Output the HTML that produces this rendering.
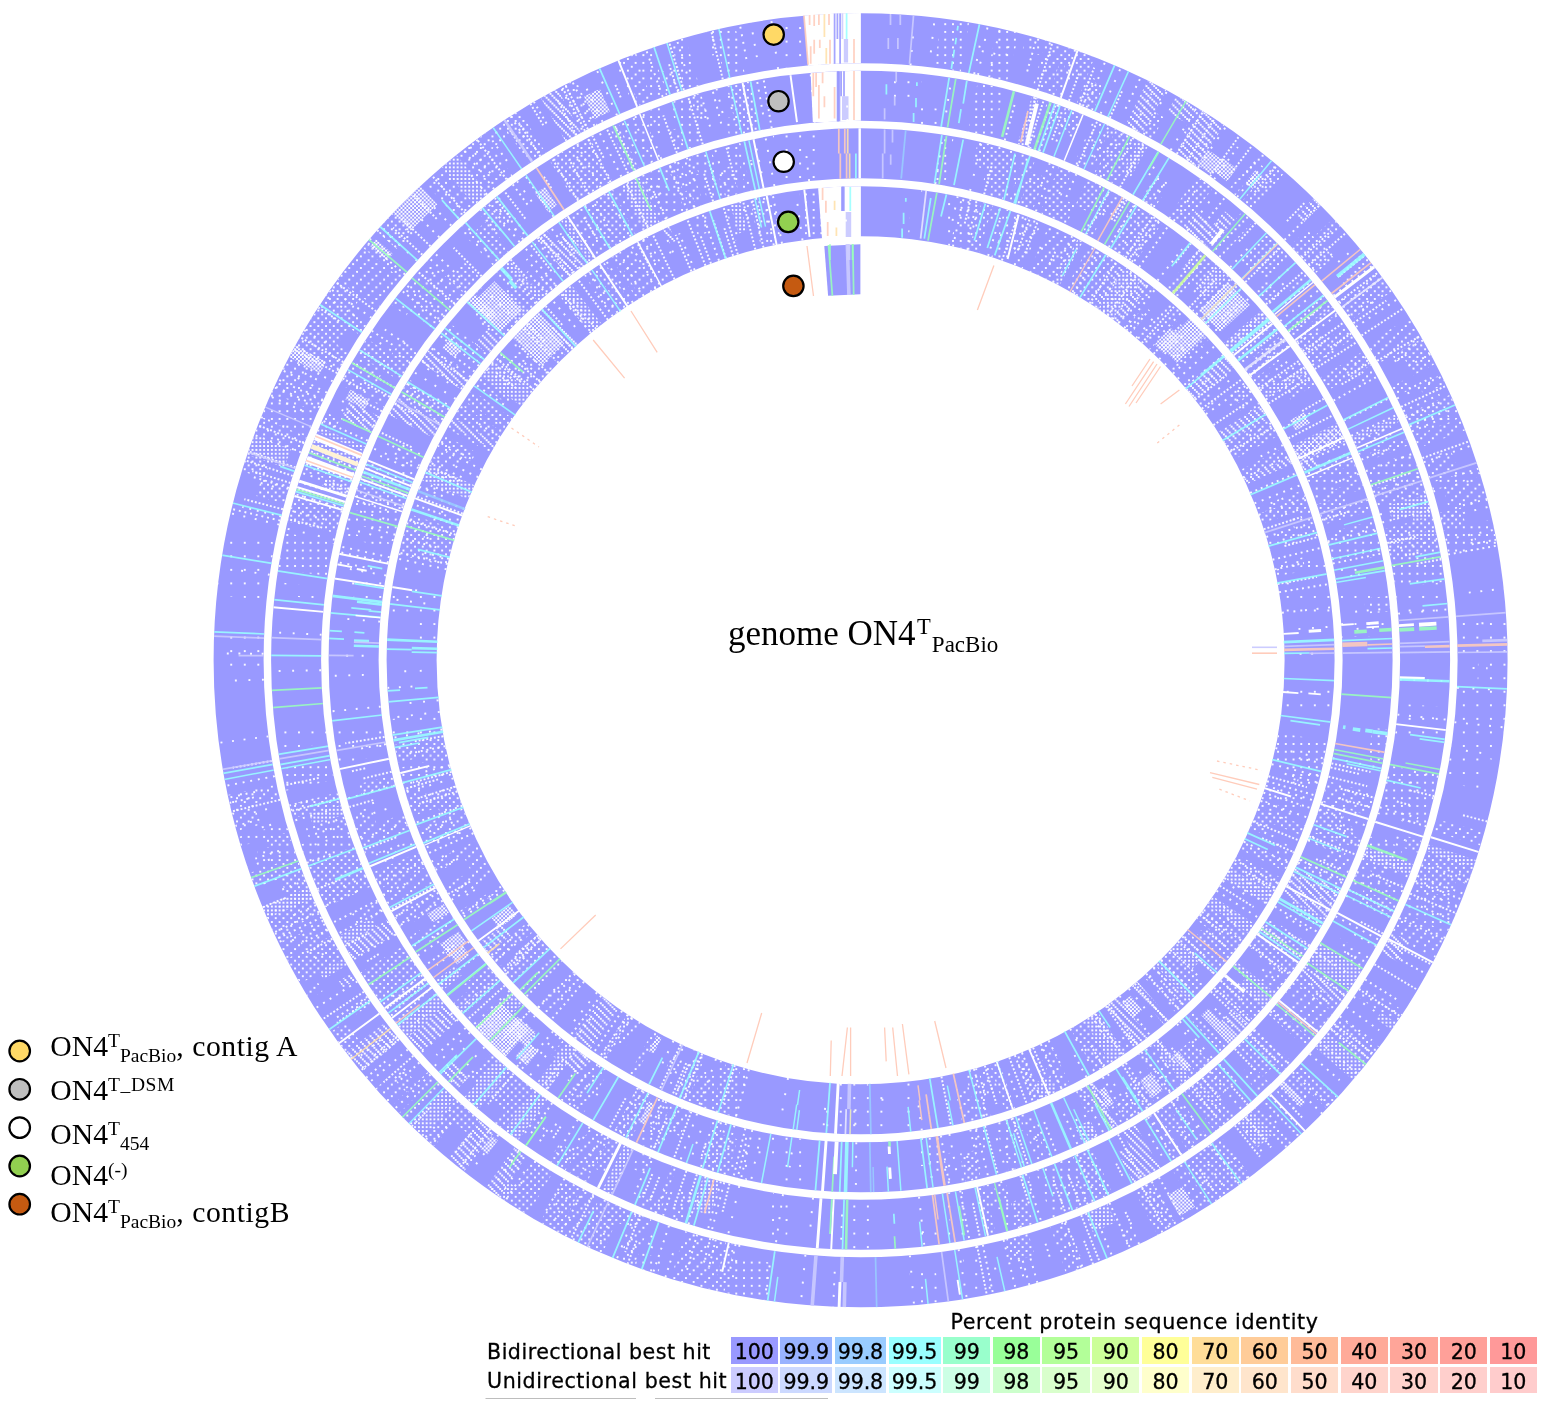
<!DOCTYPE html>
<html><head><meta charset="utf-8"><title>genome ON4T PacBio comparison</title>
<style>
html,body{margin:0;padding:0;background:#fff;}
body{width:1546px;height:1405px;position:relative;overflow:hidden;font-family:"Liberation Serif",serif;color:#000;}
svg{position:absolute;left:0;top:0;}
.ws{letter-spacing:0.55px;}
.lg{position:absolute;left:50.3px;font-size:29.7px;line-height:30px;white-space:nowrap;height:30px;}
.lg sup,.lg sub,.ct sup,.ct sub{line-height:0;}
.lg sup{font-size:19.5px;vertical-align:9.5px;}
.lg sub{font-size:19.5px;vertical-align:-6px;}
.ct{position:absolute;left:728px;top:615.5px;font-size:35px;line-height:36px;white-space:nowrap;}
.ct sup{font-size:22.5px;vertical-align:11px;margin-left:1.5px;}
.ct sub{font-size:23px;vertical-align:-7.5px;margin-left:1px;}
.sans{font-family:"DejaVu Sans","Liberation Sans",sans-serif;-webkit-text-stroke:0.3px #000;}
.bl{position:absolute;left:487px;font-size:20.6px;line-height:24px;white-space:nowrap;letter-spacing:0.5px;}
.cell{position:absolute;height:26.5px;font-size:20.6px;line-height:30px;text-align:center;letter-spacing:-0.1px;}
</style></head><body>
<svg width="1546" height="1405" viewBox="0 0 1546 1405">
<defs>
<clipPath id="rc" clip-rule="evenodd"><path d="M213.6 660.3a647 647 0 1 0 1294 0a647 647 0 1 0 -1294 0ZM263.6 660.3a597 597 0 1 0 1194 0a597 597 0 1 0 -1194 0ZM271.1 660.3a589.5 589.5 0 1 0 1179 0a589.5 589.5 0 1 0 -1179 0ZM321.1 660.3a539.5 539.5 0 1 0 1079 0a539.5 539.5 0 1 0 -1079 0ZM328.6 660.3a532 532 0 1 0 1064 0a532 532 0 1 0 -1064 0ZM378.6 660.3a482 482 0 1 0 964 0a482 482 0 1 0 -964 0ZM386.6 660.3a474 474 0 1 0 948 0a474 474 0 1 0 -948 0ZM436.6 660.3a424 424 0 1 0 848 0a424 424 0 1 0 -848 0Z" clip-rule="evenodd"/><path d="M821.5 246.1L860.6 244.3L860.6 294.3L828.7 295.7Z"/></clipPath>
<pattern id="d1" width="3.87" height="3.87" patternUnits="userSpaceOnUse"><rect x="0" y="0" width="1.935" height="1.935" fill="#fff" opacity="0.96"/><rect x="1.935" y="1.935" width="1.935" height="1.935" fill="#fff" opacity="0.96"/></pattern>
<pattern id="d2" width="7.74" height="7.74" patternUnits="userSpaceOnUse"><rect x="0" y="0" width="1.935" height="1.935" fill="#fff" opacity="0.93"/><rect x="3.87" y="3.87" width="1.935" height="1.935" fill="#fff" opacity="0.93"/></pattern>
<pattern id="d3" width="7.74" height="7.74" patternUnits="userSpaceOnUse"><rect x="0" y="0" width="1.935" height="1.935" fill="#fff" opacity="0.93"/></pattern>
<pattern id="d4" width="13.545" height="13.545" patternUnits="userSpaceOnUse"><rect x="0" y="0" width="1.935" height="1.935" fill="#fff" opacity="0.93"/></pattern>
<pattern id="d5" width="11.61" height="11.61" patternUnits="userSpaceOnUse"><rect x="0" y="0" width="1.935" height="1.935" fill="#fff" opacity="0.93"/><rect x="3.87" y="7.74" width="1.935" height="1.935" fill="#fff" opacity="0.93"/><rect x="7.74" y="3.87" width="1.935" height="1.935" fill="#fff" opacity="0.93"/></pattern>
<pattern id="d6" width="7.74" height="7.74" patternUnits="userSpaceOnUse"><rect x="0" y="0" width="1.935" height="1.935" fill="#fff" opacity="0.93"/><rect x="3.87" y="0" width="1.935" height="1.935" fill="#fff" opacity="0.93"/><rect x="0" y="3.87" width="1.935" height="1.935" fill="#fff" opacity="0.93"/><rect x="3.87" y="3.87" width="1.935" height="1.935" fill="#fff" opacity="0.93"/></pattern>
<pattern id="d7" width="7.74" height="7.74" patternUnits="userSpaceOnUse"><rect x="0" y="0" width="1.935" height="1.935" fill="#fff" opacity="0.93"/><rect x="1.935" y="1.935" width="1.935" height="1.935" fill="#fff" opacity="0.93"/><rect x="3.87" y="3.87" width="1.935" height="1.935" fill="#fff" opacity="0.93"/><rect x="5.805" y="5.805" width="1.935" height="1.935" fill="#fff" opacity="0.93"/></pattern>
<filter id="bl" x="0" y="0" width="1546" height="1405" filterUnits="userSpaceOnUse"><feGaussianBlur stdDeviation="0.6"/></filter>
</defs>
<g filter="url(#bl)">
<circle cx="860.6" cy="660.3" r="622" fill="none" stroke="#9999ff" stroke-width="50"/>
<circle cx="860.6" cy="660.3" r="564.5" fill="none" stroke="#9999ff" stroke-width="50"/>
<circle cx="860.6" cy="660.3" r="507" fill="none" stroke="#9999ff" stroke-width="50"/>
<circle cx="860.6" cy="660.3" r="449" fill="none" stroke="#9999ff" stroke-width="50"/>
<path d="M824.3 245.9L860.4 244.3L860.4 294.3L828.1 295.7Z" fill="#9999ff"/>
<g clip-path="url(#rc)">
<path d="M803.7 11.1L860.9 11.1L860.9 66.6L808.1 66.6Z" fill="#ffffff"/>
<path d="M810.5 70.3L860.9 70.3L860.9 122.1L812.8 122.1Z" fill="#ffffff"/>
<path d="M858.5 127.7L860.9 127.7L860.9 180.4L858.5 180.4Z" fill="#ffffff"/>
<path d="M817.9 185.1L860.9 185.1L860.9 238.7L822.0 238.7Z" fill="#ffffff"/>
<path d="M843.8 38.9L848.1 38.9L848.1 62.4L843.8 62.4Z" fill="#ccccff"/>
<path d="M842.0 96.2L848.5 96.2L848.5 119.9L842.0 119.9Z" fill="#ccccff"/>
<path d="M845.7 211.9L851.2 211.9L851.2 236.9L845.7 236.9Z" fill="#ccccff"/>
<path d="M846.6 244.3L850.3 244.3L850.3 260.0L846.6 260.0Z" fill="#ccccff"/>
<path d="M1227.5 282.0A527 527 0 0 1 1249.8 305.0L1220.3 331.9A487 487 0 0 0 1199.7 310.7Z" fill="url(#d1)"/>
<path d="M1189.3 318.8A474 474 0 0 1 1205.9 335.6L1176.8 363.0A434 434 0 0 0 1161.5 347.6Z" fill="url(#d1)"/>
<path d="M1336.8 423.2A532 532 0 0 1 1345.4 441.3L1299.9 461.9A482 482 0 0 0 1292.1 445.5Z" fill="url(#d6)"/>
<path d="M1305.6 1102.1A627 627 0 0 1 1300.7 1106.9L1279.7 1085.5A597 597 0 0 0 1284.3 1080.9Z" fill="url(#d1)"/>
<path d="M1236.5 1036.8A532 532 0 0 1 1228.9 1044.2L1201.2 1015.3A492 492 0 0 0 1208.2 1008.5Z" fill="url(#d1)"/>
<path d="M611.2 1194.4A589.5 589.5 0 0 1 602.2 1190.2L624.1 1145.2A539.5 539.5 0 0 0 632.4 1149.1Z" fill="url(#d6)"/>
<path d="M267.3 918.4A647 647 0 0 1 262.4 906.8L308.6 887.7A597 597 0 0 0 313.2 898.5Z" fill="url(#d6)"/>
<path d="M505.6 1056.5A532 532 0 0 1 475.0 1026.8L500.4 1002.7A497 497 0 0 0 528.9 1030.4Z" fill="url(#d1)"/>
<path d="M317.2 431.9A589.5 589.5 0 0 1 319.3 426.9L365.2 446.7A539.5 539.5 0 0 0 363.2 451.3Z" fill="url(#d6)"/>
<path d="M392.7 213.4A647 647 0 0 1 420.4 186.2L437.4 204.5A622 622 0 0 0 410.8 230.7Z" fill="url(#d1)"/>
<path d="M289.1 357.1A647 647 0 0 1 295.5 345.3L326.0 362.3A612 612 0 0 0 320.0 373.5Z" fill="url(#d1)"/>
<path d="M470.2 306.3A527 527 0 0 1 494.5 281.3L522.3 310.0A487 487 0 0 0 499.9 333.1Z" fill="url(#d1)"/>
<path d="M466.5 303.0A532 532 0 0 1 474.9 293.9L496.6 314.6A502 502 0 0 0 488.7 323.1Z" fill="url(#d1)"/>
<path d="M513.1 337.9A474 474 0 0 1 536.8 314.1L564.2 343.3A434 434 0 0 0 542.5 365.1Z" fill="url(#d1)"/>
<path d="M940.9 18.3A647 647 0 0 1 969.1 22.5L960.7 71.8A597 597 0 0 0 934.7 67.9Z" fill="url(#d3)"/>
<path d="M997.2 27.9A647 647 0 0 1 1019.3 33.1L1007.0 81.5A597 597 0 0 0 986.6 76.8Z" fill="url(#d3)"/>
<path d="M1026.6 35.0A647 647 0 0 1 1046.4 40.5L1041.8 55.8A631.119 631.119 0 0 0 1022.5 50.3Z" fill="url(#d3)"/>
<path d="M1046.4 40.5A647 647 0 0 1 1065.1 46.5L1049.3 93.9A597 597 0 0 0 1032.0 88.4Z" fill="url(#d5)"/>
<path d="M1065.1 46.5A647 647 0 0 1 1070.8 48.4L1054.5 95.7A597 597 0 0 0 1049.3 93.9Z" fill="url(#d2)"/>
<path d="M1070.8 48.4A647 647 0 0 1 1080.0 51.6L1063.0 98.7A597 597 0 0 0 1054.5 95.7Z" fill="url(#d3)"/>
<path d="M1080.0 51.6A647 647 0 0 1 1094.6 57.1L1084.8 82.3A619.978 619.978 0 0 0 1070.8 77.0Z" fill="url(#d2)"/>
<path d="M1086.0 79.1A623.433 623.433 0 0 1 1103.4 86.1L1093.1 110.4A597 597 0 0 0 1076.5 103.7Z" fill="url(#d2)"/>
<path d="M1147.6 80.5A647 647 0 0 1 1166.2 90.0L1142.5 134.1A597 597 0 0 0 1125.5 125.3Z" fill="url(#d7)"/>
<path d="M1154.3 112.0A622.01 622.01 0 0 1 1164.3 117.5L1152.1 139.3A597 597 0 0 0 1142.5 134.1Z" fill="url(#d2)"/>
<path d="M1176.5 95.7A647 647 0 0 1 1197.1 107.7L1187.3 123.8A628.183 628.183 0 0 0 1167.4 112.1Z" fill="url(#d7)"/>
<path d="M1197.1 107.7A647 647 0 0 1 1201.9 110.7L1187.0 134.7A618.75 618.75 0 0 0 1182.4 131.8Z" fill="url(#d2)"/>
<path d="M1201.9 110.7A647 647 0 0 1 1224.3 125.2L1196.2 166.5A597 597 0 0 0 1175.5 153.1Z" fill="url(#d7)"/>
<path d="M1207.7 149.6A617.504 617.504 0 0 1 1221.8 159.5L1211.1 174.3A599.179 599.179 0 0 0 1197.4 164.7Z" fill="url(#d1)"/>
<path d="M1222.8 158.1A619.17 619.17 0 0 1 1236.7 168.4L1227.0 181.2A603.16 603.16 0 0 0 1213.4 171.1Z" fill="url(#d1)"/>
<path d="M1259.1 150.6A647 647 0 0 1 1266.5 156.4L1235.1 195.4A597 597 0 0 0 1228.3 190.0Z" fill="url(#d5)"/>
<path d="M1255.4 170.3A629.258 629.258 0 0 1 1262.7 176.3L1252.4 188.7A613.093 613.093 0 0 0 1245.2 182.9Z" fill="url(#d1)"/>
<path d="M1274.0 162.6A647 647 0 0 1 1285.2 172.1L1252.4 209.8A597 597 0 0 0 1242.1 201.1Z" fill="url(#d2)"/>
<path d="M1313.6 198.3A647 647 0 0 1 1320.8 205.5L1303.8 222.4A623.046 623.046 0 0 0 1296.8 215.4Z" fill="url(#d7)"/>
<path d="M1307.0 229.7A620.224 620.224 0 0 1 1313.7 236.8L1296.8 252.6A597 597 0 0 0 1290.3 245.8Z" fill="url(#d2)"/>
<path d="M1333.3 218.5A647 647 0 0 1 1341.4 227.4L1304.2 260.8A597 597 0 0 0 1296.8 252.6Z" fill="url(#d2)"/>
<path d="M1322.3 244.6A621.293 621.293 0 0 1 1333.8 257.7L1315.3 273.4A597 597 0 0 0 1304.2 260.8Z" fill="url(#d2)"/>
<path d="M1363.2 252.8A647 647 0 0 1 1373.1 265.4L1345.0 287.0A611.571 611.571 0 0 0 1335.6 275.1Z" fill="url(#d5)"/>
<path d="M1378.5 272.5A647 647 0 0 1 1392.1 291.3L1351.0 319.9A597 597 0 0 0 1338.5 302.5Z" fill="url(#d2)"/>
<path d="M1409.3 317.5A647 647 0 0 1 1422.0 338.6L1378.6 363.5A597 597 0 0 0 1366.9 344.0Z" fill="url(#d5)"/>
<path d="M1422.0 338.6A647 647 0 0 1 1425.8 345.5L1396.1 362.0A612.96 612.96 0 0 0 1392.4 355.5Z" fill="url(#d2)"/>
<path d="M1425.8 345.5A647 647 0 0 1 1435.6 363.8L1413.4 375.3A621.912 621.912 0 0 0 1403.9 357.7Z" fill="url(#d2)"/>
<path d="M1406.1 379.0A613.719 613.719 0 0 1 1411.2 389.1L1396.2 396.5A597 597 0 0 0 1391.2 386.7Z" fill="url(#d2)"/>
<path d="M1441.0 374.4A647 647 0 0 1 1445.6 383.9L1423.3 394.5A622.358 622.358 0 0 0 1418.9 385.3Z" fill="url(#d5)"/>
<path d="M1450.5 394.5A647 647 0 0 1 1454.5 403.7L1408.6 423.5A597 597 0 0 0 1404.9 415.1Z" fill="url(#d2)"/>
<path d="M1454.5 403.7A647 647 0 0 1 1460.4 417.7L1414.1 436.5A597 597 0 0 0 1408.6 423.5Z" fill="url(#d3)"/>
<path d="M1460.4 417.7A647 647 0 0 1 1465.4 430.3L1418.6 448.1A597 597 0 0 0 1414.1 436.5Z" fill="url(#d5)"/>
<path d="M1450.8 449.8A626.611 626.611 0 0 1 1459.0 474.3L1430.7 483.1A597 597 0 0 0 1422.9 459.7Z" fill="url(#d5)"/>
<path d="M1478.4 468.2A647 647 0 0 1 1481.0 476.5L1433.0 490.7A597 597 0 0 0 1430.7 483.1Z" fill="url(#d3)"/>
<path d="M1481.0 476.5A647 647 0 0 1 1487.6 500.8L1449.4 510.5A607.531 607.531 0 0 0 1443.1 487.7Z" fill="url(#d5)"/>
<path d="M1461.4 507.5A619.973 619.973 0 0 1 1465.7 525.4L1443.3 530.4A597 597 0 0 0 1439.2 513.1Z" fill="url(#d2)"/>
<path d="M1492.1 519.6A647 647 0 0 1 1497.4 546.1L1448.2 554.9A597 597 0 0 0 1443.3 530.4Z" fill="url(#d3)"/>
<path d="M1506.2 618.1A647 647 0 0 1 1507.6 656.2L1457.6 656.5A597 597 0 0 0 1456.3 621.3Z" fill="url(#d4)"/>
<path d="M1507.6 656.2A647 647 0 0 1 1506.9 690.7L1477.3 689.3A617.429 617.429 0 0 0 1478.0 656.4Z" fill="url(#d4)"/>
<path d="M1506.9 690.7A647 647 0 0 1 1504.0 728.7L1454.3 723.4A597 597 0 0 0 1456.9 688.4Z" fill="url(#d4)"/>
<path d="M1504.0 728.7A647 647 0 0 1 1499.7 760.8L1450.3 753.1A597 597 0 0 0 1454.3 723.4Z" fill="url(#d4)"/>
<path d="M1489.7 759.3A636.833 636.833 0 0 1 1484.1 790.2L1445.1 782.0A597 597 0 0 0 1450.3 753.1Z" fill="url(#d4)"/>
<path d="M1484.4 832.2A647 647 0 0 1 1480.5 845.6L1432.6 831.3A597 597 0 0 0 1436.1 818.9Z" fill="url(#d5)"/>
<path d="M1476.0 860.0A647 647 0 0 1 1473.7 867.1L1426.3 851.1A597 597 0 0 0 1428.4 844.6Z" fill="url(#d6)"/>
<path d="M1473.7 867.1A647 647 0 0 1 1467.5 884.6L1420.6 867.2A597 597 0 0 0 1426.3 851.1Z" fill="url(#d2)"/>
<path d="M1456.2 880.4A635.012 635.012 0 0 1 1448.9 899.3L1413.7 885.0A597 597 0 0 0 1420.6 867.2Z" fill="url(#d2)"/>
<path d="M1460.0 903.8A647 647 0 0 1 1455.7 914.1L1409.8 894.5A597 597 0 0 0 1413.7 885.0Z" fill="url(#d3)"/>
<path d="M1455.7 914.1A647 647 0 0 1 1447.5 932.5L1402.2 911.5A597 597 0 0 0 1409.8 894.5Z" fill="url(#d3)"/>
<path d="M1447.5 932.5A647 647 0 0 1 1436.5 955.1L1392.0 932.3A597 597 0 0 0 1402.2 911.5Z" fill="url(#d5)"/>
<path d="M1409.8 941.4A616.963 616.963 0 0 1 1398.6 962.2L1381.2 952.4A597 597 0 0 0 1392.0 932.3Z" fill="url(#d7)"/>
<path d="M1404.1 1011.3A647 647 0 0 1 1396.5 1022.9L1355.0 994.9A597 597 0 0 0 1362.1 984.2Z" fill="url(#d5)"/>
<path d="M1396.5 1022.9A647 647 0 0 1 1391.6 1030.0L1376.2 1019.2A628.218 628.218 0 0 0 1380.9 1012.4Z" fill="url(#d6)"/>
<path d="M1379.4 1046.9A647 647 0 0 1 1372.4 1056.1L1332.8 1025.6A597 597 0 0 0 1339.3 1017.0Z" fill="url(#d2)"/>
<path d="M1372.4 1056.1A647 647 0 0 1 1365.2 1065.2L1326.2 1033.9A597 597 0 0 0 1332.8 1025.6Z" fill="url(#d2)"/>
<path d="M1365.2 1065.2A647 647 0 0 1 1353.1 1079.9L1315.0 1047.5A597 597 0 0 0 1326.2 1033.9Z" fill="url(#d6)"/>
<path d="M1337.4 1097.6A647 647 0 0 1 1326.9 1108.8L1290.9 1074.2A597 597 0 0 0 1300.6 1063.8Z" fill="url(#d2)"/>
<path d="M1312.0 1094.4A626.265 626.265 0 0 1 1295.3 1111.1L1275.0 1090.1A597 597 0 0 0 1290.9 1074.2Z" fill="url(#d2)"/>
<path d="M1300.8 1134.5A647 647 0 0 1 1296.3 1138.6L1262.6 1101.6A597 597 0 0 0 1266.7 1097.9Z" fill="url(#d2)"/>
<path d="M1291.7 1142.7A647 647 0 0 1 1283.6 1149.8L1251.0 1112.0A597 597 0 0 0 1258.4 1105.5Z" fill="url(#d2)"/>
<path d="M1271.5 1135.7A628.376 628.376 0 0 1 1257.2 1147.7L1237.4 1123.3A597 597 0 0 0 1251.0 1112.0Z" fill="url(#d6)"/>
<path d="M1250.9 1176.3A647 647 0 0 1 1234.5 1188.3L1205.6 1147.5A597 597 0 0 0 1220.7 1136.4Z" fill="url(#d2)"/>
<path d="M1234.5 1188.3A647 647 0 0 1 1226.7 1193.7L1198.4 1152.5A597 597 0 0 0 1205.6 1147.5Z" fill="url(#d2)"/>
<path d="M1226.7 1193.7A647 647 0 0 1 1209.3 1205.3L1182.3 1163.2A597 597 0 0 0 1198.4 1152.5Z" fill="url(#d2)"/>
<path d="M1209.3 1205.3A647 647 0 0 1 1198.2 1212.3L1172.1 1169.6A597 597 0 0 0 1182.3 1163.2Z" fill="url(#d5)"/>
<path d="M1195.0 1207.0A640.861 640.861 0 0 1 1179.6 1216.1L1167.6 1195.3A616.798 616.798 0 0 0 1182.4 1186.5Z" fill="url(#d1)"/>
<path d="M1176.1 1225.2A647 647 0 0 1 1157.5 1235.2L1134.5 1190.7A597 597 0 0 0 1151.7 1181.5Z" fill="url(#d2)"/>
<path d="M1140.4 1243.7A647 647 0 0 1 1128.0 1249.5L1119.7 1231.2A626.919 626.919 0 0 0 1131.7 1225.6Z" fill="url(#d5)"/>
<path d="M1115.6 1222.3A617.122 617.122 0 0 1 1092.9 1232.0L1085.3 1213.4A597 597 0 0 0 1107.3 1203.9Z" fill="url(#d6)"/>
<path d="M1084.5 1267.3A647 647 0 0 1 1066.1 1273.8L1050.3 1226.4A597 597 0 0 0 1067.2 1220.4Z" fill="url(#d5)"/>
<path d="M1034.7 1255.4A620.01 620.01 0 0 1 1010.1 1262.0L1004.6 1239.7A597 597 0 0 0 1028.3 1233.3Z" fill="url(#d2)"/>
<path d="M992.1 1293.8A647 647 0 0 1 969.4 1298.1L961.0 1248.8A597 597 0 0 0 981.9 1244.8Z" fill="url(#d4)"/>
<path d="M939.8 1302.4A647 647 0 0 1 912.1 1305.2L909.1 1267.0A608.601 608.601 0 0 0 935.1 1264.3Z" fill="url(#d4)"/>
<path d="M766.9 1300.5A647 647 0 0 1 724.3 1292.8L732.2 1255.8A609.151 609.151 0 0 0 772.4 1263.0Z" fill="url(#d3)"/>
<path d="M724.3 1292.8A647 647 0 0 1 714.1 1290.5L725.4 1241.8A597 597 0 0 0 734.8 1243.9Z" fill="url(#d2)"/>
<path d="M714.1 1290.5A647 647 0 0 1 693.5 1285.3L706.4 1237.0A597 597 0 0 0 725.4 1241.8Z" fill="url(#d5)"/>
<path d="M693.5 1285.3A647 647 0 0 1 670.6 1278.8L685.3 1231.0A597 597 0 0 0 706.4 1237.0Z" fill="url(#d5)"/>
<path d="M657.5 1274.6A647 647 0 0 1 633.9 1266.3L639.5 1251.5A631.211 631.211 0 0 0 662.4 1259.6Z" fill="url(#d3)"/>
<path d="M633.9 1266.3A647 647 0 0 1 618.2 1260.2L636.9 1213.8A597 597 0 0 0 651.4 1219.5Z" fill="url(#d5)"/>
<path d="M631.0 1228.4A612.694 612.694 0 0 1 616.1 1222.1L622.3 1207.7A597 597 0 0 0 636.9 1213.8Z" fill="url(#d2)"/>
<path d="M602.4 1253.5A647 647 0 0 1 578.3 1242.5L600.2 1197.5A597 597 0 0 0 622.3 1207.7Z" fill="url(#d2)"/>
<path d="M578.3 1242.5A647 647 0 0 1 558.0 1232.2L581.4 1188.0A597 597 0 0 0 600.2 1197.5Z" fill="url(#d5)"/>
<path d="M558.0 1232.2A647 647 0 0 1 540.0 1222.3L564.8 1178.9A597 597 0 0 0 581.4 1188.0Z" fill="url(#d2)"/>
<path d="M527.5 1215.0A647 647 0 0 1 505.9 1201.4L533.4 1159.6A597 597 0 0 0 553.2 1172.1Z" fill="url(#d2)"/>
<path d="M505.9 1201.4A647 647 0 0 1 499.0 1196.8L508.7 1182.3A629.514 629.514 0 0 0 515.5 1186.8Z" fill="url(#d6)"/>
<path d="M499.0 1196.8A647 647 0 0 1 485.9 1187.8L514.9 1147.0A597 597 0 0 0 526.9 1155.3Z" fill="url(#d7)"/>
<path d="M487.5 1154.4A619.125 619.125 0 0 1 481.1 1149.5L491.7 1135.8A601.853 601.853 0 0 0 497.9 1140.6Z" fill="url(#d1)"/>
<path d="M464.0 1171.5A647 647 0 0 1 448.1 1158.7L480.0 1120.2A597 597 0 0 0 494.6 1132.0Z" fill="url(#d7)"/>
<path d="M468.4 1134.1A615.07 615.07 0 0 1 454.7 1122.5L466.7 1108.9A597 597 0 0 0 480.0 1120.2Z" fill="url(#d2)"/>
<path d="M433.7 1146.4A647 647 0 0 1 421.3 1135.3L455.3 1098.6A597 597 0 0 0 466.7 1108.9Z" fill="url(#d2)"/>
<path d="M421.3 1135.3A647 647 0 0 1 409.0 1123.6L443.9 1087.8A597 597 0 0 0 455.3 1098.6Z" fill="url(#d6)"/>
<path d="M409.0 1123.6A647 647 0 0 1 398.7 1113.4L434.4 1078.4A597 597 0 0 0 443.9 1087.8Z" fill="url(#d5)"/>
<path d="M414.2 1098.1A625.24 625.24 0 0 1 407.5 1091.2L428.0 1071.7A597 597 0 0 0 434.4 1078.4Z" fill="url(#d5)"/>
<path d="M391.7 1106.1A647 647 0 0 1 375.6 1088.5L401.2 1065.9A612.816 612.816 0 0 0 416.5 1082.6Z" fill="url(#d5)"/>
<path d="M361.6 1072.1A647 647 0 0 1 346.1 1052.5L385.8 1022.2A597 597 0 0 0 400.2 1040.3Z" fill="url(#d7)"/>
<path d="M346.1 1052.5A647 647 0 0 1 331.0 1032.0L345.6 1021.8A629.189 629.189 0 0 0 360.2 1041.7Z" fill="url(#d2)"/>
<path d="M354.4 1015.6A618.487 618.487 0 0 1 349.7 1008.9L367.5 996.8A597 597 0 0 0 372.0 1003.3Z" fill="url(#d2)"/>
<path d="M343.1 987.8A612.444 612.444 0 0 1 338.9 981.1L352.0 973.0A597 597 0 0 0 356.1 979.5Z" fill="url(#d7)"/>
<path d="M309.5 999.2A647 647 0 0 1 304.3 990.7L317.9 982.6A631.209 631.209 0 0 0 322.9 990.9Z" fill="url(#d5)"/>
<path d="M323.6 979.2A624.57 624.57 0 0 1 319.6 972.4L343.5 958.7A597 597 0 0 0 347.3 965.1Z" fill="url(#d6)"/>
<path d="M300.2 983.7A647 647 0 0 1 290.3 965.9L334.4 942.3A597 597 0 0 0 343.5 958.7Z" fill="url(#d2)"/>
<path d="M290.3 965.9A647 647 0 0 1 286.6 958.9L331.0 935.8A597 597 0 0 0 334.4 942.3Z" fill="url(#d2)"/>
<path d="M286.6 958.9A647 647 0 0 1 279.1 944.0L324.0 922.0A597 597 0 0 0 331.0 935.8Z" fill="url(#d5)"/>
<path d="M279.1 944.0A647 647 0 0 1 274.9 935.3L288.7 928.8A631.758 631.758 0 0 0 292.8 937.3Z" fill="url(#d2)"/>
<path d="M274.9 935.3A647 647 0 0 1 264.6 912.0L310.6 892.5A597 597 0 0 0 320.2 914.0Z" fill="url(#d2)"/>
<path d="M289.3 901.5A620.171 620.171 0 0 1 280.0 878.3L301.7 870.2A597 597 0 0 0 310.6 892.5Z" fill="url(#d2)"/>
<path d="M254.9 887.8A647 647 0 0 1 249.6 873.0L296.8 856.6A597 597 0 0 0 301.7 870.2Z" fill="url(#d2)"/>
<path d="M262.7 868.5A633.107 633.107 0 0 1 257.0 851.3L291.4 840.4A597 597 0 0 0 296.8 856.6Z" fill="url(#d3)"/>
<path d="M267.4 847.9A622.133 622.133 0 0 1 264.7 839.2L288.8 832.0A597 597 0 0 0 291.4 840.4Z" fill="url(#d2)"/>
<path d="M240.9 846.3A647 647 0 0 1 238.2 836.9L286.3 823.2A597 597 0 0 0 288.8 832.0Z" fill="url(#d3)"/>
<path d="M236.6 831.1A647 647 0 0 1 230.9 809.0L254.5 803.4A622.735 622.735 0 0 0 260.0 824.7Z" fill="url(#d5)"/>
<path d="M230.9 809.0A647 647 0 0 1 227.8 795.0L276.7 784.6A597 597 0 0 0 279.6 797.5Z" fill="url(#d5)"/>
<path d="M229.6 673.5A631.182 631.182 0 0 1 230.0 632.9L264.2 634.4A597 597 0 0 0 263.7 672.8Z" fill="url(#d4)"/>
<path d="M216.9 595.1A647 647 0 0 1 221.5 559.6L270.9 567.4A597 597 0 0 0 266.6 600.1Z" fill="url(#d4)"/>
<path d="M221.5 559.6A647 647 0 0 1 226.3 532.8L275.3 542.7A597 597 0 0 0 270.9 567.4Z" fill="url(#d4)"/>
<path d="M256.3 495.9A626.239 626.239 0 0 1 261.7 477.4L289.6 485.9A597 597 0 0 0 284.5 503.6Z" fill="url(#d2)"/>
<path d="M241.8 471.3A647 647 0 0 1 247.0 455.0L269.7 462.6A623.057 623.057 0 0 0 264.7 478.3Z" fill="url(#d2)"/>
<path d="M247.0 455.0A647 647 0 0 1 253.9 435.5L290.9 449.2A607.571 607.571 0 0 0 284.4 467.6Z" fill="url(#d6)"/>
<path d="M253.9 435.5A647 647 0 0 1 260.7 418.0L307.1 436.7A597 597 0 0 0 300.8 452.9Z" fill="url(#d5)"/>
<path d="M260.7 418.0A647 647 0 0 1 266.2 404.8L312.1 424.5A597 597 0 0 0 307.1 436.7Z" fill="url(#d3)"/>
<path d="M266.2 404.8A647 647 0 0 1 271.7 392.3L317.2 413.0A597 597 0 0 0 312.1 424.5Z" fill="url(#d3)"/>
<path d="M271.7 392.3A647 647 0 0 1 282.6 369.6L327.2 392.1A597 597 0 0 0 317.2 413.0Z" fill="url(#d5)"/>
<path d="M282.6 369.6A647 647 0 0 1 294.9 346.3L315.9 358.0A622.95 622.95 0 0 0 304.1 380.4Z" fill="url(#d5)"/>
<path d="M294.9 346.3A647 647 0 0 1 306.4 326.4L349.3 352.2A597 597 0 0 0 338.6 370.6Z" fill="url(#d2)"/>
<path d="M306.4 326.4A647 647 0 0 1 318.1 307.8L348.3 327.4A610.998 610.998 0 0 0 337.3 345.0Z" fill="url(#d2)"/>
<path d="M318.1 307.8A647 647 0 0 1 326.8 294.7L368.1 322.9A597 597 0 0 0 360.0 335.0Z" fill="url(#d2)"/>
<path d="M326.8 294.7A647 647 0 0 1 337.6 279.4L361.5 296.7A617.518 617.518 0 0 0 351.1 311.3Z" fill="url(#d2)"/>
<path d="M337.6 279.4A647 647 0 0 1 347.8 265.8L387.4 296.3A597 597 0 0 0 378.1 308.8Z" fill="url(#d5)"/>
<path d="M347.8 265.8A647 647 0 0 1 355.1 256.5L394.1 287.7A597 597 0 0 0 387.4 296.3Z" fill="url(#d5)"/>
<path d="M355.1 256.5A647 647 0 0 1 362.5 247.4L401.0 279.3A597 597 0 0 0 394.1 287.7Z" fill="url(#d5)"/>
<path d="M362.5 247.4A647 647 0 0 1 366.3 242.9L404.5 275.1A597 597 0 0 0 401.0 279.3Z" fill="url(#d2)"/>
<path d="M370.2 246.1A641.922 641.922 0 0 1 376.0 239.3L392.9 254.1A619.439 619.439 0 0 0 387.3 260.6Z" fill="url(#d1)"/>
<path d="M376.6 231.0A647 647 0 0 1 394.2 211.9L415.2 232.2A617.738 617.738 0 0 0 398.5 250.4Z" fill="url(#d2)"/>
<path d="M405.3 200.6A647 647 0 0 1 413.1 193.0L428.3 208.9A625.068 625.068 0 0 0 420.7 216.2Z" fill="url(#d5)"/>
<path d="M424.6 182.3A647 647 0 0 1 442.0 167.0L474.3 205.1A597 597 0 0 0 458.3 219.2Z" fill="url(#d5)"/>
<path d="M442.0 167.0A647 647 0 0 1 456.6 154.9L487.9 194.0A597 597 0 0 0 474.3 205.1Z" fill="url(#d6)"/>
<path d="M456.6 154.9A647 647 0 0 1 462.0 150.7L492.8 190.1A597 597 0 0 0 487.9 194.0Z" fill="url(#d5)"/>
<path d="M462.0 150.7A647 647 0 0 1 474.0 141.5L503.9 181.6A597 597 0 0 0 492.8 190.1Z" fill="url(#d5)"/>
<path d="M474.0 141.5A647 647 0 0 1 483.1 134.9L512.3 175.5A597 597 0 0 0 503.9 181.6Z" fill="url(#d5)"/>
<path d="M483.1 134.9A647 647 0 0 1 501.4 122.1L510.4 135.6A630.816 630.816 0 0 0 492.5 148.0Z" fill="url(#d5)"/>
<path d="M501.4 122.1A647 647 0 0 1 519.4 110.6L545.8 153.0A597 597 0 0 0 529.2 163.7Z" fill="url(#d2)"/>
<path d="M540.8 97.9A647 647 0 0 1 557.5 88.7L580.9 132.9A597 597 0 0 0 565.5 141.3Z" fill="url(#d7)"/>
<path d="M557.5 88.7A647 647 0 0 1 575.6 79.5L597.6 124.3A597 597 0 0 0 580.9 132.9Z" fill="url(#d5)"/>
<path d="M583.9 96.5A628.021 628.021 0 0 1 599.8 89.0L610.1 111.6A603.224 603.224 0 0 0 594.9 118.8Z" fill="url(#d1)"/>
<path d="M615.1 61.7A647 647 0 0 1 621.1 59.2L639.6 105.7A597 597 0 0 0 634.1 107.9Z" fill="url(#d3)"/>
<path d="M621.1 59.2A647 647 0 0 1 634.9 53.9L652.4 100.8A597 597 0 0 0 639.6 105.7Z" fill="url(#d5)"/>
<path d="M634.9 53.9A647 647 0 0 1 651.2 48.1L667.4 95.4A597 597 0 0 0 652.4 100.8Z" fill="url(#d3)"/>
<path d="M659.5 72.4A621.33 621.33 0 0 1 677.9 66.4L685.1 89.7A597 597 0 0 0 667.4 95.4Z" fill="url(#d5)"/>
<path d="M670.4 41.9A647 647 0 0 1 685.6 37.4L699.1 85.5A597 597 0 0 0 685.1 89.7Z" fill="url(#d3)"/>
<path d="M706.5 31.9A647 647 0 0 1 713.6 30.2L719.1 54.0A622.593 622.593 0 0 0 712.3 55.6Z" fill="url(#d3)"/>
<path d="M713.6 30.2A647 647 0 0 1 735.2 25.6L744.9 74.6A597 597 0 0 0 724.9 78.9Z" fill="url(#d3)"/>
<path d="M778.5 18.5A647 647 0 0 1 823.1 14.4L826.0 64.3A597 597 0 0 0 784.8 68.1Z" fill="url(#d4)"/>
<path d="M823.1 14.4A647 647 0 0 1 855.0 13.3L855.4 63.3A597 597 0 0 0 826.0 64.3Z" fill="url(#d4)"/>
<path d="M894.5 71.8A589.5 589.5 0 0 1 922.0 74.0L919.0 102.5A560.895 560.895 0 0 0 892.9 100.3Z" fill="url(#d4)"/>
<path d="M918.6 106.3A557.058 557.058 0 0 1 942.3 109.3L939.8 126.6A539.5 539.5 0 0 0 916.8 123.7Z" fill="url(#d4)"/>
<path d="M977.7 82.6A589.5 589.5 0 0 1 1004.9 88.7L992.6 137.2A539.5 539.5 0 0 0 967.8 131.6Z" fill="url(#d3)"/>
<path d="M1032.0 96.3A589.5 589.5 0 0 1 1038.8 98.4L1023.7 146.0A539.5 539.5 0 0 0 1017.5 144.1Z" fill="url(#d6)"/>
<path d="M1029.1 128.9A557.52 557.52 0 0 1 1037.2 131.5L1031.5 148.6A539.5 539.5 0 0 0 1023.7 146.0Z" fill="url(#d2)"/>
<path d="M1047.4 101.2A589.5 589.5 0 0 1 1066.3 107.9L1060.4 123.7A572.598 572.598 0 0 0 1042.0 117.2Z" fill="url(#d5)"/>
<path d="M1066.3 107.9A589.5 589.5 0 0 1 1083.7 114.6L1075.3 135.0A567.464 567.464 0 0 0 1058.6 128.5Z" fill="url(#d2)"/>
<path d="M1093.7 118.8A589.5 589.5 0 0 1 1111.3 126.8L1090.0 172.0A539.5 539.5 0 0 0 1073.9 164.7Z" fill="url(#d3)"/>
<path d="M1111.3 126.8A589.5 589.5 0 0 1 1116.3 129.1L1094.6 174.2A539.5 539.5 0 0 0 1090.0 172.0Z" fill="url(#d5)"/>
<path d="M1116.3 129.1A589.5 589.5 0 0 1 1126.1 134.0L1103.5 178.6A539.5 539.5 0 0 0 1094.6 174.2Z" fill="url(#d2)"/>
<path d="M1126.1 134.0A589.5 589.5 0 0 1 1139.0 140.7L1115.4 184.8A539.5 539.5 0 0 0 1103.5 178.6Z" fill="url(#d2)"/>
<path d="M1139.0 140.7A589.5 589.5 0 0 1 1148.3 145.8L1130.7 177.2A553.503 553.503 0 0 0 1122.0 172.4Z" fill="url(#d6)"/>
<path d="M1156.0 175.3A567.864 567.864 0 0 1 1169.9 184.1L1154.5 207.9A539.5 539.5 0 0 0 1141.2 199.5Z" fill="url(#d5)"/>
<path d="M1196.7 176.0A589.5 589.5 0 0 1 1213.1 187.8L1183.2 227.9A539.5 539.5 0 0 0 1168.2 217.1Z" fill="url(#d2)"/>
<path d="M1195.7 211.2A560.336 560.336 0 0 1 1213.3 224.9L1200.2 241.1A539.5 539.5 0 0 0 1183.2 227.9Z" fill="url(#d7)"/>
<path d="M1224.5 211.1A578.091 578.091 0 0 1 1235.0 219.9L1210.0 249.3A539.5 539.5 0 0 0 1200.2 241.1Z" fill="url(#d7)"/>
<path d="M1242.4 211.2A589.5 589.5 0 0 1 1253.8 221.1L1220.4 258.3A539.5 539.5 0 0 0 1210.0 249.3Z" fill="url(#d5)"/>
<path d="M1266.2 232.6A589.5 589.5 0 0 1 1279.1 245.1L1252.5 271.5A552.05 552.05 0 0 0 1240.5 259.7Z" fill="url(#d2)"/>
<path d="M1279.1 245.1A589.5 589.5 0 0 1 1290.4 256.8L1266.8 278.9A557.233 557.233 0 0 0 1256.2 267.9Z" fill="url(#d2)"/>
<path d="M1266.1 279.6A556.197 556.197 0 0 1 1280.1 295.1L1267.5 306.1A539.5 539.5 0 0 0 1253.9 291.0Z" fill="url(#d2)"/>
<path d="M1305.2 273.3A589.5 589.5 0 0 1 1309.0 277.6L1291.6 292.4A566.628 566.628 0 0 0 1288.0 288.3Z" fill="url(#d5)"/>
<path d="M1322.9 294.5A589.5 589.5 0 0 1 1332.2 306.6L1292.2 336.6A539.5 539.5 0 0 0 1283.7 325.5Z" fill="url(#d2)"/>
<path d="M1332.2 306.6A589.5 589.5 0 0 1 1337.4 313.7L1297.0 343.1A539.5 539.5 0 0 0 1292.2 336.6Z" fill="url(#d5)"/>
<path d="M1317.5 328.1A564.932 564.932 0 0 1 1325.8 339.8L1304.9 354.2A539.5 539.5 0 0 0 1297.0 343.1Z" fill="url(#d2)"/>
<path d="M1346.0 325.8A589.5 589.5 0 0 1 1354.2 338.0L1312.3 365.3A539.5 539.5 0 0 0 1304.9 354.2Z" fill="url(#d2)"/>
<path d="M1362.8 351.5A589.5 589.5 0 0 1 1371.0 365.4L1327.7 390.4A539.5 539.5 0 0 0 1320.2 377.7Z" fill="url(#d2)"/>
<path d="M1371.0 365.4A589.5 589.5 0 0 1 1376.8 375.6L1363.1 383.1A573.901 573.901 0 0 0 1357.5 373.2Z" fill="url(#d5)"/>
<path d="M1397.3 416.4A589.5 589.5 0 0 1 1399.5 421.4L1353.8 441.7A539.5 539.5 0 0 0 1351.7 437.0Z" fill="url(#d6)"/>
<path d="M1388.9 426.1A577.831 577.831 0 0 1 1396.0 442.9L1360.4 457.3A539.5 539.5 0 0 0 1353.8 441.7Z" fill="url(#d5)"/>
<path d="M1406.8 438.5A589.5 589.5 0 0 1 1409.3 444.8L1372.8 459.2A550.296 550.296 0 0 0 1370.5 453.2Z" fill="url(#d2)"/>
<path d="M1411.9 451.7A589.5 589.5 0 0 1 1419.9 474.1L1372.5 489.9A539.5 539.5 0 0 0 1365.2 469.4Z" fill="url(#d3)"/>
<path d="M1419.9 474.1A589.5 589.5 0 0 1 1426.3 494.5L1378.3 508.6A539.5 539.5 0 0 0 1372.5 489.9Z" fill="url(#d5)"/>
<path d="M1426.3 494.5A589.5 589.5 0 0 1 1430.7 510.4L1392.1 520.6A549.517 549.517 0 0 0 1387.9 505.8Z" fill="url(#d6)"/>
<path d="M1430.7 510.4A589.5 589.5 0 0 1 1432.3 516.7L1413.7 521.4A570.335 570.335 0 0 0 1412.2 515.3Z" fill="url(#d6)"/>
<path d="M1432.3 516.7A589.5 589.5 0 0 1 1435.4 529.4L1386.6 540.5A539.5 539.5 0 0 0 1383.8 528.9Z" fill="url(#d2)"/>
<path d="M1435.4 529.4A589.5 589.5 0 0 1 1436.6 534.7L1387.7 545.4A539.5 539.5 0 0 0 1386.6 540.5Z" fill="url(#d6)"/>
<path d="M1436.6 534.7A589.5 589.5 0 0 1 1439.9 551.0L1390.7 560.3A539.5 539.5 0 0 0 1387.7 545.4Z" fill="url(#d2)"/>
<path d="M1439.9 551.0A589.5 589.5 0 0 1 1444.8 581.7L1395.3 588.4A539.5 539.5 0 0 0 1390.7 560.3Z" fill="url(#d3)"/>
<path d="M1444.8 581.7A589.5 589.5 0 0 1 1448.7 619.0L1398.8 622.5A539.5 539.5 0 0 0 1395.3 588.4Z" fill="url(#d4)"/>
<path d="M1448.2 707.5A589.5 589.5 0 0 1 1446.5 725.6L1396.8 720.0A539.5 539.5 0 0 0 1398.4 703.5Z" fill="url(#d4)"/>
<path d="M1446.5 725.6A589.5 589.5 0 0 1 1444.3 742.9L1394.8 735.9A539.5 539.5 0 0 0 1396.8 720.0Z" fill="url(#d4)"/>
<path d="M1438.8 775.1A589.5 589.5 0 0 1 1431.1 808.9L1382.7 796.3A539.5 539.5 0 0 0 1389.8 765.4Z" fill="url(#d3)"/>
<path d="M1431.1 808.9A589.5 589.5 0 0 1 1425.7 828.3L1377.7 814.0A539.5 539.5 0 0 0 1382.7 796.3Z" fill="url(#d3)"/>
<path d="M1421.7 840.9A589.5 589.5 0 0 1 1417.8 852.7L1403.4 847.7A574.261 574.261 0 0 0 1407.2 836.2Z" fill="url(#d2)"/>
<path d="M1403.2 847.6A574.058 574.058 0 0 1 1399.1 859.3L1366.7 847.3A539.5 539.5 0 0 0 1370.6 836.4Z" fill="url(#d3)"/>
<path d="M1413.6 864.6A589.5 589.5 0 0 1 1409.4 875.6L1362.8 857.4A539.5 539.5 0 0 0 1366.7 847.3Z" fill="url(#d6)"/>
<path d="M1387.9 867.2A566.396 566.396 0 0 1 1384.0 876.8L1359.1 866.5A539.5 539.5 0 0 0 1362.8 857.4Z" fill="url(#d5)"/>
<path d="M1405.3 885.6A589.5 589.5 0 0 1 1396.9 905.0L1351.4 884.2A539.5 539.5 0 0 0 1359.1 866.5Z" fill="url(#d3)"/>
<path d="M1396.9 905.0A589.5 589.5 0 0 1 1391.6 916.4L1358.8 900.6A553.087 553.087 0 0 0 1363.8 889.9Z" fill="url(#d2)"/>
<path d="M1370.5 956.0A589.5 589.5 0 0 1 1366.5 962.9L1336.3 944.8A554.317 554.317 0 0 0 1340.1 938.4Z" fill="url(#d5)"/>
<path d="M1366.5 962.9A589.5 589.5 0 0 1 1362.5 969.5L1343.9 958.1A567.662 567.662 0 0 0 1347.8 951.7Z" fill="url(#d5)"/>
<path d="M1362.5 969.5A589.5 589.5 0 0 1 1349.6 989.5L1308.2 961.5A539.5 539.5 0 0 0 1319.9 943.3Z" fill="url(#d6)"/>
<path d="M1349.6 989.5A589.5 589.5 0 0 1 1345.4 995.6L1314.0 973.9A551.291 551.291 0 0 0 1317.9 968.1Z" fill="url(#d2)"/>
<path d="M1345.4 995.6A589.5 589.5 0 0 1 1340.4 1002.8L1299.7 973.8A539.5 539.5 0 0 0 1304.3 967.2Z" fill="url(#d7)"/>
<path d="M1340.4 1002.8A589.5 589.5 0 0 1 1333.8 1011.8L1293.7 982.0A539.5 539.5 0 0 0 1299.7 973.8Z" fill="url(#d2)"/>
<path d="M1333.8 1011.8A589.5 589.5 0 0 1 1324.5 1024.1L1285.1 993.2A539.5 539.5 0 0 0 1293.7 982.0Z" fill="url(#d5)"/>
<path d="M1324.5 1024.1A589.5 589.5 0 0 1 1311.8 1039.7L1282.8 1015.2A551.537 551.537 0 0 0 1294.6 1000.7Z" fill="url(#d5)"/>
<path d="M1311.8 1039.7A589.5 589.5 0 0 1 1305.6 1046.9L1267.9 1014.1A539.5 539.5 0 0 0 1273.5 1007.5Z" fill="url(#d2)"/>
<path d="M1292.3 1061.8A589.5 589.5 0 0 1 1281.9 1072.6L1246.2 1037.6A539.5 539.5 0 0 0 1255.7 1027.7Z" fill="url(#d2)"/>
<path d="M1274.3 1065.1A578.814 578.814 0 0 1 1263.0 1076.4L1235.6 1048.1A539.5 539.5 0 0 0 1246.2 1037.6Z" fill="url(#d2)"/>
<path d="M1270.4 1084.1A589.5 589.5 0 0 1 1260.1 1093.8L1240.9 1072.9A561.126 561.126 0 0 0 1250.7 1063.7Z" fill="url(#d5)"/>
<path d="M1236.9 1081.1A564.513 564.513 0 0 1 1219.3 1096.2L1203.4 1076.9A539.5 539.5 0 0 0 1220.2 1062.5Z" fill="url(#d2)"/>
<path d="M1235.1 1115.5A589.5 589.5 0 0 1 1230.4 1119.4L1199.0 1080.5A539.5 539.5 0 0 0 1203.4 1076.9Z" fill="url(#d2)"/>
<path d="M1230.4 1119.4A589.5 589.5 0 0 1 1214.9 1131.4L1184.9 1091.5A539.5 539.5 0 0 0 1199.0 1080.5Z" fill="url(#d2)"/>
<path d="M1207.3 1137.0A589.5 589.5 0 0 1 1195.2 1145.6L1166.8 1104.5A539.5 539.5 0 0 0 1177.9 1096.6Z" fill="url(#d5)"/>
<path d="M1195.2 1145.6A589.5 589.5 0 0 1 1188.0 1150.5L1160.2 1109.0A539.5 539.5 0 0 0 1166.8 1104.5Z" fill="url(#d2)"/>
<path d="M1173.7 1129.1A563.734 563.734 0 0 1 1168.9 1132.3L1155.7 1112.0A539.5 539.5 0 0 0 1160.2 1109.0Z" fill="url(#d2)"/>
<path d="M1183.0 1153.8A589.5 589.5 0 0 1 1170.9 1161.5L1144.5 1119.0A539.5 539.5 0 0 0 1155.7 1112.0Z" fill="url(#d5)"/>
<path d="M1160.5 1167.8A589.5 589.5 0 0 1 1146.2 1176.0L1122.0 1132.3A539.5 539.5 0 0 0 1135.1 1124.8Z" fill="url(#d7)"/>
<path d="M1146.2 1176.0A589.5 589.5 0 0 1 1133.7 1182.7L1117.9 1152.4A555.334 555.334 0 0 0 1129.6 1146.1Z" fill="url(#d7)"/>
<path d="M1112.7 1193.2A589.5 589.5 0 0 1 1092.3 1202.3L1072.7 1156.4A539.5 539.5 0 0 0 1091.4 1148.0Z" fill="url(#d2)"/>
<path d="M1092.3 1202.3A589.5 589.5 0 0 1 1069.7 1211.5L1052.0 1164.7A539.5 539.5 0 0 0 1072.7 1156.4Z" fill="url(#d3)"/>
<path d="M1069.7 1211.5A589.5 589.5 0 0 1 1051.6 1218.0L1035.4 1170.7A539.5 539.5 0 0 0 1052.0 1164.7Z" fill="url(#d3)"/>
<path d="M1035.6 1195.6A563.178 563.178 0 0 1 1025.8 1198.7L1018.9 1176.1A539.5 539.5 0 0 0 1028.2 1173.1Z" fill="url(#d3)"/>
<path d="M1033.6 1223.9A589.5 589.5 0 0 1 1018.1 1228.4L1010.9 1202.2A562.355 562.355 0 0 0 1025.6 1197.9Z" fill="url(#d2)"/>
<path d="M1018.1 1228.4A589.5 589.5 0 0 1 1006.0 1231.6L993.7 1183.1A539.5 539.5 0 0 0 1004.8 1180.2Z" fill="url(#d3)"/>
<path d="M1000.2 1208.9A566.056 566.056 0 0 1 990.5 1211.2L984.4 1185.4A539.5 539.5 0 0 0 993.7 1183.1Z" fill="url(#d5)"/>
<path d="M995.9 1234.1A589.5 589.5 0 0 1 989.2 1235.6L978.3 1186.8A539.5 539.5 0 0 0 984.4 1185.4Z" fill="url(#d2)"/>
<path d="M971.9 1239.2A589.5 589.5 0 0 1 953.2 1242.5L945.4 1193.1A539.5 539.5 0 0 0 962.4 1190.1Z" fill="url(#d4)"/>
<path d="M953.2 1242.5A589.5 589.5 0 0 1 918.5 1246.9L916.6 1227.0A569.449 569.449 0 0 0 950.1 1222.7Z" fill="url(#d4)"/>
<path d="M874.6 1249.6A589.5 589.5 0 0 1 847.2 1249.6L848.3 1199.7A539.5 539.5 0 0 0 873.4 1199.6Z" fill="url(#d4)"/>
<path d="M786.0 1245.1A589.5 589.5 0 0 1 765.3 1242.1L773.4 1192.7A539.5 539.5 0 0 0 792.3 1195.5Z" fill="url(#d4)"/>
<path d="M710.3 1215.0A574.741 574.741 0 0 1 692.9 1210.0L703.2 1176.3A539.5 539.5 0 0 0 719.5 1181.0Z" fill="url(#d6)"/>
<path d="M688.6 1224.2A589.5 589.5 0 0 1 668.8 1217.7L679.4 1187.1A557.082 557.082 0 0 0 698.1 1193.1Z" fill="url(#d3)"/>
<path d="M659.5 1214.4A589.5 589.5 0 0 1 654.2 1212.5L671.7 1165.7A539.5 539.5 0 0 0 676.5 1167.4Z" fill="url(#d2)"/>
<path d="M654.2 1212.5A589.5 589.5 0 0 1 635.0 1204.9L641.4 1189.5A572.813 572.813 0 0 0 660.1 1196.9Z" fill="url(#d5)"/>
<path d="M647.4 1175.1A557.235 557.235 0 0 1 632.0 1168.5L639.3 1152.3A539.5 539.5 0 0 0 654.2 1158.7Z" fill="url(#d3)"/>
<path d="M603.9 1173.1A573.453 573.453 0 0 1 594.2 1168.1L610.0 1138.1A539.5 539.5 0 0 0 619.1 1142.7Z" fill="url(#d2)"/>
<path d="M586.8 1182.3A589.5 589.5 0 0 1 565.4 1170.6L590.4 1127.3A539.5 539.5 0 0 0 610.0 1138.1Z" fill="url(#d5)"/>
<path d="M565.4 1170.6A589.5 589.5 0 0 1 548.8 1160.6L559.8 1143.0A568.716 568.716 0 0 0 575.8 1152.6Z" fill="url(#d2)"/>
<path d="M518.2 1140.2A589.5 589.5 0 0 1 504.0 1129.7L534.3 1089.9A539.5 539.5 0 0 0 547.3 1099.5Z" fill="url(#d6)"/>
<path d="M504.0 1129.7A589.5 589.5 0 0 1 494.5 1122.4L525.6 1083.2A539.5 539.5 0 0 0 534.3 1089.9Z" fill="url(#d2)"/>
<path d="M504.2 1110.1A573.882 573.882 0 0 1 488.6 1097.3L510.9 1071.1A539.5 539.5 0 0 0 525.6 1083.2Z" fill="url(#d2)"/>
<path d="M478.5 1109.2A589.5 589.5 0 0 1 464.5 1096.9L498.1 1059.8A539.5 539.5 0 0 0 510.9 1071.1Z" fill="url(#d6)"/>
<path d="M476.5 1083.6A571.657 571.657 0 0 1 469.0 1076.8L491.0 1053.3A539.5 539.5 0 0 0 498.1 1059.8Z" fill="url(#d2)"/>
<path d="M456.8 1089.8A589.5 589.5 0 0 1 439.9 1073.3L452.2 1061.2A572.288 572.288 0 0 0 468.6 1077.2Z" fill="url(#d7)"/>
<path d="M420.7 1052.8A589.5 589.5 0 0 1 407.5 1037.4L445.9 1005.4A539.5 539.5 0 0 0 458.1 1019.5Z" fill="url(#d7)"/>
<path d="M407.5 1037.4A589.5 589.5 0 0 1 397.8 1025.5L437.1 994.5A539.5 539.5 0 0 0 445.9 1005.4Z" fill="url(#d6)"/>
<path d="M397.8 1025.5A589.5 589.5 0 0 1 384.5 1008.0L424.9 978.5A539.5 539.5 0 0 0 437.1 994.5Z" fill="url(#d5)"/>
<path d="M384.5 1008.0A589.5 589.5 0 0 1 373.2 991.9L414.5 963.7A539.5 539.5 0 0 0 424.9 978.5Z" fill="url(#d2)"/>
<path d="M373.2 991.9A589.5 589.5 0 0 1 364.1 978.1L406.2 951.1A539.5 539.5 0 0 0 414.5 963.7Z" fill="url(#d2)"/>
<path d="M364.1 978.1A589.5 589.5 0 0 1 360.6 972.6L403.0 946.1A539.5 539.5 0 0 0 406.2 951.1Z" fill="url(#d2)"/>
<path d="M352.6 959.4A589.5 589.5 0 0 1 343.9 944.0L387.7 920.0A539.5 539.5 0 0 0 395.7 934.0Z" fill="url(#d7)"/>
<path d="M343.9 944.0A589.5 589.5 0 0 1 339.3 935.5L371.9 918.2A552.549 552.549 0 0 0 376.3 926.3Z" fill="url(#d6)"/>
<path d="M357.9 925.6A568.377 568.377 0 0 1 351.9 913.9L377.8 901.0A539.5 539.5 0 0 0 383.5 912.1Z" fill="url(#d5)"/>
<path d="M325.4 907.4A589.5 589.5 0 0 1 316.2 886.5L362.4 867.4A539.5 539.5 0 0 0 370.8 886.5Z" fill="url(#d2)"/>
<path d="M316.2 886.5A589.5 589.5 0 0 1 307.3 863.6L354.2 846.4A539.5 539.5 0 0 0 362.4 867.4Z" fill="url(#d2)"/>
<path d="M307.3 863.6A589.5 589.5 0 0 1 300.7 844.6L348.1 829.0A539.5 539.5 0 0 0 354.2 846.4Z" fill="url(#d3)"/>
<path d="M316.6 839.3A572.67 572.67 0 0 1 312.0 824.6L343.8 815.1A539.5 539.5 0 0 0 348.1 829.0Z" fill="url(#d3)"/>
<path d="M312.5 824.4A572.149 572.149 0 0 1 309.4 813.8L340.9 805.1A539.5 539.5 0 0 0 343.8 815.1Z" fill="url(#d6)"/>
<path d="M292.7 818.5A589.5 589.5 0 0 1 289.1 804.9L337.6 792.6A539.5 539.5 0 0 0 340.9 805.1Z" fill="url(#d2)"/>
<path d="M285.7 790.8A589.5 589.5 0 0 1 281.2 768.8L330.3 759.6A539.5 539.5 0 0 0 334.5 779.8Z" fill="url(#d3)"/>
<path d="M278.0 750.5A589.5 589.5 0 0 1 274.9 726.9L324.6 721.2A539.5 539.5 0 0 0 327.4 742.8Z" fill="url(#d4)"/>
<path d="M274.8 594.3A589.5 589.5 0 0 1 276.3 581.8L325.9 588.5A539.5 539.5 0 0 0 324.5 599.9Z" fill="url(#d4)"/>
<path d="M278.3 568.4A589.5 589.5 0 0 1 285.1 532.5L333.9 543.3A539.5 539.5 0 0 0 327.7 576.2Z" fill="url(#d3)"/>
<path d="M287.7 521.4A589.5 589.5 0 0 1 289.5 514.2L337.9 526.6A539.5 539.5 0 0 0 336.3 533.2Z" fill="url(#d2)"/>
<path d="M289.5 514.2A589.5 589.5 0 0 1 295.4 492.9L343.3 507.1A539.5 539.5 0 0 0 337.9 526.6Z" fill="url(#d2)"/>
<path d="M321.8 487.8A565.71 565.71 0 0 1 324.9 478.5L349.7 486.9A539.5 539.5 0 0 0 346.8 495.8Z" fill="url(#d6)"/>
<path d="M302.4 470.9A589.5 589.5 0 0 1 306.4 459.3L353.4 476.3A539.5 539.5 0 0 0 349.7 486.9Z" fill="url(#d2)"/>
<path d="M306.4 459.3A589.5 589.5 0 0 1 310.4 448.7L357.1 466.6A539.5 539.5 0 0 0 353.4 476.3Z" fill="url(#d5)"/>
<path d="M310.4 448.7A589.5 589.5 0 0 1 314.5 438.4L360.8 457.2A539.5 539.5 0 0 0 357.1 466.6Z" fill="url(#d6)"/>
<path d="M320.1 425.1A589.5 589.5 0 0 1 325.8 412.3L340.0 418.9A573.91 573.91 0 0 0 334.4 431.3Z" fill="url(#d2)"/>
<path d="M340.8 419.2A573.023 573.023 0 0 1 349.5 401.3L379.4 416.4A539.5 539.5 0 0 0 371.2 433.3Z" fill="url(#d7)"/>
<path d="M345.4 399.2A577.582 577.582 0 0 1 350.3 389.7L369.5 399.9A555.894 555.894 0 0 0 364.7 409.0Z" fill="url(#d1)"/>
<path d="M339.8 384.1A589.5 589.5 0 0 1 346.3 372.2L389.9 396.6A539.5 539.5 0 0 0 384.0 407.6Z" fill="url(#d5)"/>
<path d="M346.3 372.2A589.5 589.5 0 0 1 356.5 354.7L383.4 371.0A558.042 558.042 0 0 0 373.8 387.5Z" fill="url(#d5)"/>
<path d="M356.5 354.7A589.5 589.5 0 0 1 366.6 338.6L408.5 365.9A539.5 539.5 0 0 0 399.3 380.6Z" fill="url(#d2)"/>
<path d="M391.3 354.7A560.023 560.023 0 0 1 402.0 338.8L418.8 350.6A539.5 539.5 0 0 0 408.5 365.9Z" fill="url(#d2)"/>
<path d="M390.8 304.2A589.5 589.5 0 0 1 394.7 299.2L409.7 310.9A570.433 570.433 0 0 0 406.0 315.7Z" fill="url(#d5)"/>
<path d="M407.3 308.9A573.543 573.543 0 0 1 415.0 299.2L441.5 320.6A539.5 539.5 0 0 0 434.2 329.8Z" fill="url(#d5)"/>
<path d="M402.6 289.1A589.5 589.5 0 0 1 415.3 274.0L453.1 306.8A539.5 539.5 0 0 0 441.5 320.6Z" fill="url(#d5)"/>
<path d="M415.3 274.0A589.5 589.5 0 0 1 427.9 259.9L464.6 293.9A539.5 539.5 0 0 0 453.1 306.8Z" fill="url(#d5)"/>
<path d="M447.7 278.2A562.619 562.619 0 0 1 463.8 261.4L480.1 277.8A539.5 539.5 0 0 0 464.6 293.9Z" fill="url(#d2)"/>
<path d="M458.8 228.9A589.5 589.5 0 0 1 466.6 221.8L500.0 259.0A539.5 539.5 0 0 0 492.9 265.5Z" fill="url(#d5)"/>
<path d="M475.0 231.2A576.837 576.837 0 0 1 486.0 221.7L510.2 250.1A539.5 539.5 0 0 0 500.0 259.0Z" fill="url(#d2)"/>
<path d="M477.7 212.1A589.5 589.5 0 0 1 491.7 200.5L510.1 223.5A560 560 0 0 0 496.9 234.5Z" fill="url(#d2)"/>
<path d="M491.7 200.5A589.5 589.5 0 0 1 497.9 195.6L528.7 235.0A539.5 539.5 0 0 0 523.0 239.5Z" fill="url(#d5)"/>
<path d="M535.3 193.6A568.929 568.929 0 0 1 544.9 187.0L557.0 205.3A547.01 547.01 0 0 0 547.8 211.5Z" fill="url(#d1)"/>
<path d="M549.1 159.8A589.5 589.5 0 0 1 559.9 153.3L585.4 196.3A539.5 539.5 0 0 0 575.5 202.3Z" fill="url(#d2)"/>
<path d="M559.9 153.3A589.5 589.5 0 0 1 573.4 145.5L597.8 189.1A539.5 539.5 0 0 0 585.4 196.3Z" fill="url(#d2)"/>
<path d="M573.4 145.5A589.5 589.5 0 0 1 589.3 137.0L612.3 181.3A539.5 539.5 0 0 0 597.8 189.1Z" fill="url(#d2)"/>
<path d="M609.2 127.1A589.5 589.5 0 0 1 618.3 122.9L638.8 168.5A539.5 539.5 0 0 0 630.5 172.3Z" fill="url(#d2)"/>
<path d="M624.5 120.1A589.5 589.5 0 0 1 642.6 112.6L661.1 159.0A539.5 539.5 0 0 0 644.5 166.0Z" fill="url(#d3)"/>
<path d="M642.6 112.6A589.5 589.5 0 0 1 660.1 105.9L666.4 123.4A570.988 570.988 0 0 0 649.4 129.8Z" fill="url(#d3)"/>
<path d="M669.1 130.9A562.926 562.926 0 0 1 677.5 128.0L685.1 150.1A539.5 539.5 0 0 0 677.1 153.0Z" fill="url(#d5)"/>
<path d="M668.9 102.9A589.5 589.5 0 0 1 690.1 96.0L704.6 143.9A539.5 539.5 0 0 0 685.1 150.1Z" fill="url(#d3)"/>
<path d="M690.1 96.0A589.5 589.5 0 0 1 700.9 92.8L707.9 117.6A563.749 563.749 0 0 0 697.5 120.6Z" fill="url(#d2)"/>
<path d="M725.0 118.8A558.256 558.256 0 0 1 733.7 116.6L738.0 134.9A539.5 539.5 0 0 0 729.5 137.0Z" fill="url(#d3)"/>
<path d="M726.6 86.2A589.5 589.5 0 0 1 750.1 81.2L759.5 130.4A539.5 539.5 0 0 0 738.0 134.9Z" fill="url(#d2)"/>
<path d="M869.9 128.4A532 532 0 0 1 879.3 128.6L878.3 157.4A503.21 503.21 0 0 0 869.4 157.2Z" fill="url(#d4)"/>
<path d="M941.5 134.5A532 532 0 0 1 953.8 136.5L945.0 185.8A482 482 0 0 0 933.9 183.9Z" fill="url(#d3)"/>
<path d="M978.0 141.4A532 532 0 0 1 992.8 145.0L986.6 169.2A506.973 506.973 0 0 0 972.5 165.8Z" fill="url(#d2)"/>
<path d="M992.8 145.0A532 532 0 0 1 1001.9 147.4L991.6 184.8A493.161 493.161 0 0 0 983.1 182.6Z" fill="url(#d2)"/>
<path d="M1001.9 147.4A532 532 0 0 1 1017.3 151.9L1002.6 199.7A482 482 0 0 0 988.6 195.6Z" fill="url(#d2)"/>
<path d="M1017.3 151.9A532 532 0 0 1 1024.4 154.1L1009.0 201.7A482 482 0 0 0 1002.6 199.7Z" fill="url(#d3)"/>
<path d="M1024.4 154.1A532 532 0 0 1 1035.9 158.0L1019.4 205.2A482 482 0 0 0 1009.0 201.7Z" fill="url(#d5)"/>
<path d="M1031.0 172.1A517.111 517.111 0 0 1 1045.2 177.3L1032.7 210.1A482 482 0 0 0 1019.4 205.2Z" fill="url(#d2)"/>
<path d="M1058.7 166.6A532 532 0 0 1 1071.9 172.1L1052.0 218.0A482 482 0 0 0 1040.1 213.0Z" fill="url(#d2)"/>
<path d="M1060.5 198.3A503.399 503.399 0 0 1 1075.4 205.0L1066.3 224.4A482 482 0 0 0 1052.0 218.0Z" fill="url(#d2)"/>
<path d="M1087.6 179.2A532 532 0 0 1 1105.4 187.9L1092.0 213.7A502.962 502.962 0 0 0 1075.2 205.4Z" fill="url(#d2)"/>
<path d="M1105.4 187.9A532 532 0 0 1 1115.7 193.5L1091.7 237.3A482 482 0 0 0 1082.4 232.3Z" fill="url(#d5)"/>
<path d="M1115.7 193.5A532 532 0 0 1 1128.2 200.5L1117.4 219.0A510.571 510.571 0 0 0 1105.4 212.3Z" fill="url(#d5)"/>
<path d="M1133.6 203.7A532 532 0 0 1 1137.8 206.2L1120.5 234.5A498.889 498.889 0 0 0 1116.6 232.1Z" fill="url(#d2)"/>
<path d="M1137.8 206.2A532 532 0 0 1 1142.2 208.9L1115.7 251.3A482 482 0 0 0 1111.7 248.9Z" fill="url(#d2)"/>
<path d="M1142.2 208.9A532 532 0 0 1 1158.5 219.6L1130.5 261.0A482 482 0 0 0 1115.7 251.3Z" fill="url(#d2)"/>
<path d="M1158.5 219.6A532 532 0 0 1 1162.6 222.3L1134.2 263.5A482 482 0 0 0 1130.5 261.0Z" fill="url(#d2)"/>
<path d="M1198.1 249.0A532 532 0 0 1 1210.7 259.7L1177.8 297.4A482 482 0 0 0 1166.3 287.7Z" fill="url(#d2)"/>
<path d="M1210.7 259.7A532 532 0 0 1 1220.4 268.4L1201.5 289.0A504.072 504.072 0 0 0 1192.3 280.7Z" fill="url(#d2)"/>
<path d="M1220.4 268.4A532 532 0 0 1 1226.4 274.0L1203.6 298.1A498.835 498.835 0 0 0 1198.0 292.9Z" fill="url(#d6)"/>
<path d="M1226.4 274.0A532 532 0 0 1 1237.2 284.5L1201.8 319.8A482 482 0 0 0 1192.0 310.3Z" fill="url(#d2)"/>
<path d="M1216.4 305.2A502.684 502.684 0 0 1 1221.7 310.6L1206.8 324.9A482 482 0 0 0 1201.8 319.8Z" fill="url(#d6)"/>
<path d="M1235.5 297.2A521.891 521.891 0 0 1 1246.7 309.2L1217.2 336.0A482 482 0 0 0 1206.8 324.9Z" fill="url(#d5)"/>
<path d="M1261.2 310.3A532 532 0 0 1 1269.4 319.9L1231.0 351.9A482 482 0 0 0 1223.6 343.2Z" fill="url(#d6)"/>
<path d="M1269.4 319.9A532 532 0 0 1 1273.3 324.6L1234.6 356.2A482 482 0 0 0 1231.0 351.9Z" fill="url(#d5)"/>
<path d="M1273.3 324.6A532 532 0 0 1 1276.6 328.7L1237.5 359.9A482 482 0 0 0 1234.6 356.2Z" fill="url(#d2)"/>
<path d="M1258.0 343.6A508.159 508.159 0 0 1 1262.8 349.7L1242.1 365.7A482 482 0 0 0 1237.5 359.9Z" fill="url(#d2)"/>
<path d="M1281.6 335.1A532 532 0 0 1 1286.0 340.9L1266.5 355.6A507.551 507.551 0 0 0 1262.3 350.1Z" fill="url(#d5)"/>
<path d="M1274.8 349.3A517.955 517.955 0 0 1 1282.0 359.1L1252.7 380.0A482 482 0 0 0 1246.0 370.9Z" fill="url(#d5)"/>
<path d="M1267.0 369.8A499.592 499.592 0 0 1 1276.9 384.1L1262.2 393.8A482 482 0 0 0 1252.7 380.0Z" fill="url(#d2)"/>
<path d="M1303.9 366.2A532 532 0 0 1 1307.7 372.0L1265.7 399.1A482 482 0 0 0 1262.2 393.8Z" fill="url(#d6)"/>
<path d="M1307.7 372.0A532 532 0 0 1 1315.4 384.3L1290.5 399.4A502.832 502.832 0 0 0 1283.2 387.8Z" fill="url(#d2)"/>
<path d="M1304.2 412.3A508.227 508.227 0 0 1 1310.0 422.9L1295.6 430.5A491.984 491.984 0 0 0 1290.1 420.3Z" fill="url(#d1)"/>
<path d="M1338.4 426.3A532 532 0 0 1 1345.5 441.5L1299.9 462.1A482 482 0 0 0 1293.5 448.3Z" fill="url(#d7)"/>
<path d="M1313.8 455.8A497.167 497.167 0 0 1 1317.9 465.2L1303.9 471.1A482 482 0 0 0 1299.9 462.1Z" fill="url(#d7)"/>
<path d="M1349.9 451.5A532 532 0 0 1 1354.9 463.7L1308.5 482.1A482 482 0 0 0 1303.9 471.1Z" fill="url(#d2)"/>
<path d="M1354.9 463.7A532 532 0 0 1 1361.1 480.1L1314.1 497.0A482 482 0 0 0 1308.5 482.1Z" fill="url(#d3)"/>
<path d="M1361.1 480.1A532 532 0 0 1 1364.1 488.6L1316.8 504.7A482 482 0 0 0 1314.1 497.0Z" fill="url(#d5)"/>
<path d="M1344.0 495.4A510.777 510.777 0 0 1 1349.0 510.7L1321.5 519.1A482 482 0 0 0 1316.8 504.7Z" fill="url(#d2)"/>
<path d="M1369.3 504.5A532 532 0 0 1 1371.1 510.7L1323.2 524.8A482 482 0 0 0 1321.5 519.1Z" fill="url(#d2)"/>
<path d="M1373.8 520.2A532 532 0 0 1 1377.1 532.9L1328.6 544.9A482 482 0 0 0 1325.6 533.4Z" fill="url(#d5)"/>
<path d="M1377.1 532.9A532 532 0 0 1 1380.7 548.3L1331.8 558.8A482 482 0 0 0 1328.6 544.9Z" fill="url(#d3)"/>
<path d="M1380.7 548.3A532 532 0 0 1 1382.1 555.0L1366.5 558.2A516.113 516.113 0 0 0 1365.1 551.6Z" fill="url(#d3)"/>
<path d="M1364.0 558.7A513.571 513.571 0 0 1 1367.4 577.2L1336.2 582.3A482 482 0 0 0 1333.1 564.9Z" fill="url(#d4)"/>
<path d="M1371.5 586.9A516.181 516.181 0 0 1 1373.0 597.6L1339.0 601.8A482 482 0 0 0 1337.7 591.8Z" fill="url(#d4)"/>
<path d="M1388.7 595.7A532 532 0 0 1 1390.4 611.4L1365.5 613.7A507.091 507.091 0 0 0 1363.9 598.7Z" fill="url(#d3)"/>
<path d="M1390.4 611.4A532 532 0 0 1 1392.0 635.3L1342.1 637.6A482 482 0 0 0 1340.6 616.0Z" fill="url(#d4)"/>
<path d="M1388.0 729.8A532 532 0 0 1 1382.8 762.1L1367.7 759.1A516.648 516.648 0 0 0 1372.8 727.8Z" fill="url(#d3)"/>
<path d="M1375.6 793.6A532 532 0 0 1 1371.2 809.8L1323.2 795.8A482 482 0 0 0 1327.2 781.1Z" fill="url(#d5)"/>
<path d="M1371.2 809.8A532 532 0 0 1 1369.3 816.0L1321.5 801.4A482 482 0 0 0 1323.2 795.8Z" fill="url(#d5)"/>
<path d="M1346.1 808.9A507.732 507.732 0 0 1 1341.6 822.9L1317.2 814.7A482 482 0 0 0 1321.5 801.4Z" fill="url(#d2)"/>
<path d="M1352.4 826.6A519.144 519.144 0 0 1 1349.6 834.8L1314.6 822.3A482 482 0 0 0 1317.2 814.7Z" fill="url(#d2)"/>
<path d="M1361.7 839.1A532 532 0 0 1 1358.1 848.7L1311.4 831.0A482 482 0 0 0 1314.6 822.3Z" fill="url(#d2)"/>
<path d="M1343.3 843.1A516.193 516.193 0 0 1 1339.0 854.1L1307.3 841.3A482 482 0 0 0 1311.4 831.0Z" fill="url(#d5)"/>
<path d="M1353.7 860.1A532 532 0 0 1 1346.3 877.5L1320.0 865.7A503.216 503.216 0 0 0 1327.0 849.3Z" fill="url(#d5)"/>
<path d="M1346.3 877.5A532 532 0 0 1 1341.0 888.9L1295.9 867.4A482 482 0 0 0 1300.6 857.1Z" fill="url(#d5)"/>
<path d="M1341.0 888.9A532 532 0 0 1 1332.4 906.1L1288.1 883.0A482 482 0 0 0 1295.9 867.4Z" fill="url(#d7)"/>
<path d="M1332.4 906.1A532 532 0 0 1 1325.9 918.3L1282.1 894.0A482 482 0 0 0 1288.1 883.0Z" fill="url(#d7)"/>
<path d="M1325.9 918.3A532 532 0 0 1 1321.2 926.6L1289.5 908.3A495.427 495.427 0 0 0 1293.9 900.5Z" fill="url(#d6)"/>
<path d="M1310.5 944.2A532 532 0 0 1 1300.3 959.7L1259.0 931.6A482 482 0 0 0 1268.2 917.5Z" fill="url(#d2)"/>
<path d="M1300.3 959.7A532 532 0 0 1 1288.7 976.2L1248.4 946.5A482 482 0 0 0 1259.0 931.6Z" fill="url(#d2)"/>
<path d="M1288.7 976.2A532 532 0 0 1 1275.7 993.0L1260.8 981.0A512.841 512.841 0 0 0 1273.2 964.8Z" fill="url(#d5)"/>
<path d="M1275.7 993.0A532 532 0 0 1 1270.8 999.0L1232.3 967.2A482 482 0 0 0 1236.7 961.7Z" fill="url(#d6)"/>
<path d="M1270.8 999.0A532 532 0 0 1 1263.5 1007.7L1238.7 986.3A499.231 499.231 0 0 0 1245.5 978.2Z" fill="url(#d6)"/>
<path d="M1263.5 1007.7A532 532 0 0 1 1252.6 1020.0L1215.8 986.1A482 482 0 0 0 1225.6 975.0Z" fill="url(#d2)"/>
<path d="M1252.6 1020.0A532 532 0 0 1 1248.8 1024.1L1212.3 989.9A482 482 0 0 0 1215.8 986.1Z" fill="url(#d5)"/>
<path d="M1248.8 1024.1A532 532 0 0 1 1236.8 1036.5L1221.3 1021.0A510.062 510.062 0 0 0 1232.7 1009.1Z" fill="url(#d7)"/>
<path d="M1226.3 1046.7A532 532 0 0 1 1220.5 1052.0L1186.7 1015.2A482 482 0 0 0 1191.9 1010.4Z" fill="url(#d2)"/>
<path d="M1209.2 1062.2A532 532 0 0 1 1196.5 1072.9L1178.6 1050.9A503.684 503.684 0 0 0 1190.6 1040.8Z" fill="url(#d2)"/>
<path d="M1191.3 1066.6A523.879 523.879 0 0 1 1185.0 1071.7L1172.3 1055.6A503.366 503.366 0 0 0 1178.4 1050.7Z" fill="url(#d1)"/>
<path d="M1190.0 1078.0A532 532 0 0 1 1182.8 1083.6L1152.5 1043.9A482 482 0 0 0 1159.1 1038.8Z" fill="url(#d6)"/>
<path d="M1182.8 1083.6A532 532 0 0 1 1174.1 1090.1L1144.6 1049.7A482 482 0 0 0 1152.5 1043.9Z" fill="url(#d5)"/>
<path d="M1174.1 1090.1A532 532 0 0 1 1166.7 1095.4L1137.9 1054.5A482 482 0 0 0 1144.6 1049.7Z" fill="url(#d2)"/>
<path d="M1163.0 1090.2A525.639 525.639 0 0 1 1151.7 1098.0L1140.0 1080.4A504.555 504.555 0 0 0 1150.9 1073.0Z" fill="url(#d1)"/>
<path d="M1155.2 1103.3A532 532 0 0 1 1141.5 1112.1L1125.0 1085.5A500.698 500.698 0 0 0 1137.9 1077.2Z" fill="url(#d2)"/>
<path d="M1141.5 1112.1A532 532 0 0 1 1124.7 1122.1L1113.4 1102.2A509.076 509.076 0 0 0 1129.4 1092.6Z" fill="url(#d2)"/>
<path d="M1114.0 1103.4A510.421 510.421 0 0 1 1107.5 1107.0L1098.4 1090.6A491.635 491.635 0 0 0 1104.7 1087.1Z" fill="url(#d1)"/>
<path d="M1117.9 1125.9A532 532 0 0 1 1108.7 1130.9L1085.3 1086.7A482 482 0 0 0 1093.8 1082.2Z" fill="url(#d7)"/>
<path d="M1096.5 1107.8A505.845 505.845 0 0 1 1086.6 1112.9L1075.9 1091.5A482 482 0 0 0 1085.3 1086.7Z" fill="url(#d2)"/>
<path d="M1098.3 1136.3A532 532 0 0 1 1082.7 1143.7L1075.2 1127.3A513.988 513.988 0 0 0 1090.2 1120.2Z" fill="url(#d6)"/>
<path d="M1047.8 1158.3A532 532 0 0 1 1036.6 1162.3L1020.1 1115.2A482 482 0 0 0 1030.2 1111.5Z" fill="url(#d5)"/>
<path d="M1025.1 1129.5A497.187 497.187 0 0 1 1015.3 1132.8L1010.6 1118.4A482 482 0 0 0 1020.1 1115.2Z" fill="url(#d2)"/>
<path d="M1026.1 1165.9A532 532 0 0 1 1009.0 1171.2L995.0 1123.2A482 482 0 0 0 1010.6 1118.4Z" fill="url(#d3)"/>
<path d="M988.8 1146.6A502.878 502.878 0 0 1 974.3 1150.1L969.6 1129.8A482 482 0 0 0 983.5 1126.4Z" fill="url(#d3)"/>
<path d="M980.9 1178.5A532 532 0 0 1 965.7 1181.8L960.0 1153.6A503.226 503.226 0 0 0 974.4 1150.5Z" fill="url(#d2)"/>
<path d="M965.7 1181.8A532 532 0 0 1 949.2 1184.9L944.0 1154.0A500.711 500.711 0 0 0 959.6 1151.1Z" fill="url(#d4)"/>
<path d="M947.2 1173.6A520.514 520.514 0 0 1 931.7 1175.9L926.5 1137.8A482 482 0 0 0 940.8 1135.6Z" fill="url(#d3)"/>
<path d="M930.2 1164.9A509.383 509.383 0 0 1 919.3 1166.3L916.1 1139.1A482 482 0 0 0 926.5 1137.8Z" fill="url(#d4)"/>
<path d="M803.1 1189.2A532 532 0 0 1 773.8 1185.2L781.9 1135.8A482 482 0 0 0 808.5 1139.5Z" fill="url(#d4)"/>
<path d="M777.4 1163.1A509.656 509.656 0 0 1 755.8 1159.1L761.5 1132.0A482 482 0 0 0 781.9 1135.8Z" fill="url(#d4)"/>
<path d="M751.2 1180.9A532 532 0 0 1 728.0 1175.5L740.4 1127.1A482 482 0 0 0 761.5 1132.0Z" fill="url(#d4)"/>
<path d="M728.0 1175.5A532 532 0 0 1 709.5 1170.4L720.2 1134.6A494.648 494.648 0 0 0 737.3 1139.3Z" fill="url(#d2)"/>
<path d="M709.5 1170.4A532 532 0 0 1 697.8 1166.8L713.1 1119.2A482 482 0 0 0 723.7 1122.5Z" fill="url(#d2)"/>
<path d="M680.4 1136.3A508.938 508.938 0 0 1 667.7 1131.3L677.9 1106.3A482 482 0 0 0 689.9 1111.1Z" fill="url(#d5)"/>
<path d="M658.9 1152.6A532 532 0 0 1 651.9 1149.6L671.5 1103.7A482 482 0 0 0 677.9 1106.3Z" fill="url(#d5)"/>
<path d="M651.9 1149.6A532 532 0 0 1 636.7 1142.9L657.7 1097.5A482 482 0 0 0 671.5 1103.7Z" fill="url(#d3)"/>
<path d="M645.1 1124.7A511.969 511.969 0 0 1 639.3 1122.0L649.2 1101.4A489.155 489.155 0 0 0 654.7 1104.0Z" fill="url(#d1)"/>
<path d="M630.7 1140.1A532 532 0 0 1 618.3 1133.9L641.1 1089.4A482 482 0 0 0 652.3 1095.0Z" fill="url(#d2)"/>
<path d="M618.3 1133.9A532 532 0 0 1 614.1 1131.8L637.3 1087.5A482 482 0 0 0 641.1 1089.4Z" fill="url(#d2)"/>
<path d="M583.0 1114.1A532 532 0 0 1 571.0 1106.6L598.2 1064.6A482 482 0 0 0 609.0 1071.5Z" fill="url(#d5)"/>
<path d="M571.0 1106.6A532 532 0 0 1 560.7 1099.7L588.9 1058.4A482 482 0 0 0 598.2 1064.6Z" fill="url(#d5)"/>
<path d="M577.5 1075.1A502.201 502.201 0 0 1 565.0 1066.3L576.9 1050.0A482 482 0 0 0 588.9 1058.4Z" fill="url(#d7)"/>
<path d="M547.5 1090.4A532 532 0 0 1 536.9 1082.5L567.3 1042.8A482 482 0 0 0 576.9 1050.0Z" fill="url(#d6)"/>
<path d="M555.6 1058.0A501.152 501.152 0 0 1 551.5 1054.7L563.3 1039.7A482 482 0 0 0 567.3 1042.8Z" fill="url(#d2)"/>
<path d="M526.7 1065.5A525.085 525.085 0 0 1 515.5 1056.0L527.9 1041.8A506.209 506.209 0 0 0 538.7 1050.9Z" fill="url(#d1)"/>
<path d="M524.4 1045.7A511.434 511.434 0 0 1 516.1 1038.3L528.0 1025.2A493.719 493.719 0 0 0 536.1 1032.4Z" fill="url(#d1)"/>
<path d="M512.6 1042.1A516.59 516.59 0 0 1 502.4 1032.5L517.6 1016.7A494.673 494.673 0 0 0 527.4 1025.9Z" fill="url(#d1)"/>
<path d="M491.7 1043.6A532 532 0 0 1 487.4 1039.4L504.6 1021.9A507.384 507.384 0 0 0 508.8 1025.9Z" fill="url(#d5)"/>
<path d="M487.4 1039.4A532 532 0 0 1 478.0 1030.0L514.0 995.2A482 482 0 0 0 522.4 1003.8Z" fill="url(#d6)"/>
<path d="M493.9 1014.6A509.893 509.893 0 0 1 488.8 1009.2L509.1 990.1A482 482 0 0 0 514.0 995.2Z" fill="url(#d2)"/>
<path d="M472.6 1024.3A532 532 0 0 1 469.0 1020.4L486.5 1004.4A508.278 508.278 0 0 0 489.9 1008.1Z" fill="url(#d5)"/>
<path d="M463.8 1014.6A532 532 0 0 1 458.6 1008.7L496.4 976.0A482 482 0 0 0 501.1 981.3Z" fill="url(#d6)"/>
<path d="M458.6 1008.7A532 532 0 0 1 453.7 1003.0L491.9 970.8A482 482 0 0 0 496.4 976.0Z" fill="url(#d2)"/>
<path d="M467.7 991.2A513.659 513.659 0 0 1 463.0 985.5L487.5 965.5A482 482 0 0 0 491.9 970.8Z" fill="url(#d2)"/>
<path d="M443.1 990.0A532 532 0 0 1 435.7 980.5L454.7 966.1A508.227 508.227 0 0 0 461.8 975.3Z" fill="url(#d6)"/>
<path d="M457.0 964.4A505.402 505.402 0 0 1 449.7 954.6L462.5 945.5A489.704 489.704 0 0 0 469.5 955.0Z" fill="url(#d1)"/>
<path d="M448.1 955.7A507.368 507.368 0 0 1 440.0 944.1L458.6 931.6A484.925 484.925 0 0 0 466.4 942.7Z" fill="url(#d1)"/>
<path d="M415.3 951.4A532 532 0 0 1 407.0 938.3L449.6 912.1A482 482 0 0 0 457.2 924.1Z" fill="url(#d5)"/>
<path d="M432.5 922.6A502.098 502.098 0 0 1 427.1 913.7L443.6 904.0A482.965 482.965 0 0 0 448.8 912.6Z" fill="url(#d1)"/>
<path d="M401.3 928.7A532 532 0 0 1 391.7 911.6L435.8 888.0A482 482 0 0 0 444.5 903.5Z" fill="url(#d5)"/>
<path d="M388.8 906.2A532 532 0 0 1 380.1 888.7L425.3 867.3A482 482 0 0 0 433.2 883.1Z" fill="url(#d5)"/>
<path d="M380.1 888.7A532 532 0 0 1 372.7 872.5L418.6 852.5A482 482 0 0 0 425.3 867.3Z" fill="url(#d2)"/>
<path d="M383.5 856.9A516.057 516.057 0 0 1 381.5 852.2L413.2 839.5A482 482 0 0 0 414.9 843.9Z" fill="url(#d3)"/>
<path d="M366.7 858.1A532 532 0 0 1 363.3 849.4L378.0 843.8A516.259 516.259 0 0 0 381.3 852.2Z" fill="url(#d3)"/>
<path d="M363.3 849.4A532 532 0 0 1 356.4 829.9L403.8 814.0A482 482 0 0 0 410.1 831.6Z" fill="url(#d5)"/>
<path d="M356.4 829.9A532 532 0 0 1 351.0 813.0L371.1 807.0A510.986 510.986 0 0 0 376.3 823.2Z" fill="url(#d5)"/>
<path d="M362.0 796.0A516.706 516.706 0 0 1 358.9 784.0L392.6 775.7A482 482 0 0 0 395.5 786.9Z" fill="url(#d2)"/>
<path d="M338.8 763.8A532 532 0 0 1 333.3 730.5L382.8 723.9A482 482 0 0 0 387.8 754.1Z" fill="url(#d4)"/>
<path d="M352.7 606.1A510.802 510.802 0 0 1 354.7 590.0L383.2 593.9A482 482 0 0 0 381.3 609.1Z" fill="url(#d4)"/>
<path d="M349.7 589.3A515.846 515.846 0 0 1 352.4 571.8L385.7 577.6A482 482 0 0 0 383.2 593.9Z" fill="url(#d4)"/>
<path d="M343.1 537.1A532 532 0 0 1 344.4 531.5L392.9 543.6A482 482 0 0 0 391.7 548.7Z" fill="url(#d3)"/>
<path d="M346.9 522.0A532 532 0 0 1 349.1 514.0L397.2 527.8A482 482 0 0 0 395.2 535.0Z" fill="url(#d3)"/>
<path d="M368.2 519.5A512.11 512.11 0 0 1 369.7 514.4L398.6 523.0A482 482 0 0 0 397.2 527.8Z" fill="url(#d3)"/>
<path d="M350.7 508.7A532 532 0 0 1 354.9 495.1L402.4 510.7A482 482 0 0 0 398.6 523.0Z" fill="url(#d3)"/>
<path d="M354.9 495.1A532 532 0 0 1 359.4 482.0L406.5 498.8A482 482 0 0 0 402.4 510.7Z" fill="url(#d2)"/>
<path d="M359.4 482.0A532 532 0 0 1 361.9 475.1L408.8 492.5A482 482 0 0 0 406.5 498.8Z" fill="url(#d2)"/>
<path d="M361.9 475.1A532 532 0 0 1 367.3 461.1L413.7 479.8A482 482 0 0 0 408.8 492.5Z" fill="url(#d5)"/>
<path d="M395.0 472.3A502.102 502.102 0 0 1 400.6 458.9L419.1 467.0A482 482 0 0 0 413.7 479.8Z" fill="url(#d3)"/>
<path d="M393.2 455.7A510.27 510.27 0 0 1 399.2 442.5L424.7 454.5A482 482 0 0 0 419.1 467.0Z" fill="url(#d5)"/>
<path d="M388.7 414.6A532 532 0 0 1 397.6 398.3L441.1 422.9A482 482 0 0 0 433.1 437.7Z" fill="url(#d7)"/>
<path d="M397.6 398.3A532 532 0 0 1 405.5 384.7L448.3 410.6A482 482 0 0 0 441.1 422.9Z" fill="url(#d2)"/>
<path d="M405.5 384.7A532 532 0 0 1 408.8 379.3L451.3 405.7A482 482 0 0 0 448.3 410.6Z" fill="url(#d5)"/>
<path d="M420.2 361.8A532 532 0 0 1 428.2 350.3L468.9 379.4A482 482 0 0 0 461.6 389.9Z" fill="url(#d7)"/>
<path d="M428.2 350.3A532 532 0 0 1 431.5 345.8L457.8 365.0A499.452 499.452 0 0 0 454.7 369.3Z" fill="url(#d2)"/>
<path d="M442.4 347.9A522.015 522.015 0 0 1 449.1 339.1L461.6 348.8A506.211 506.211 0 0 0 455.0 357.4Z" fill="url(#d1)"/>
<path d="M441.3 332.9A532 532 0 0 1 449.4 322.8L488.0 354.5A482 482 0 0 0 480.7 363.7Z" fill="url(#d5)"/>
<path d="M474.9 343.7A498.974 498.974 0 0 1 487.6 328.9L500.3 340.2A482 482 0 0 0 488.0 354.5Z" fill="url(#d7)"/>
<path d="M471.5 314.6A520.553 520.553 0 0 1 475.4 310.2L503.9 336.1A482 482 0 0 0 500.3 340.2Z" fill="url(#d2)"/>
<path d="M466.9 302.5A532 532 0 0 1 481.2 287.4L516.9 322.4A482 482 0 0 0 503.9 336.1Z" fill="url(#d5)"/>
<path d="M494.9 300.8A512.855 512.855 0 0 1 507.5 288.4L528.7 310.7A482 482 0 0 0 516.9 322.4Z" fill="url(#d6)"/>
<path d="M494.3 274.5A532 532 0 0 1 505.1 264.6L538.5 301.8A482 482 0 0 0 528.7 310.7Z" fill="url(#d2)"/>
<path d="M505.1 264.6A532 532 0 0 1 509.6 260.5L542.6 298.1A482 482 0 0 0 538.5 301.8Z" fill="url(#d6)"/>
<path d="M530.7 284.6A499.997 499.997 0 0 1 546.1 271.6L557.5 285.6A482 482 0 0 0 542.6 298.1Z" fill="url(#d2)"/>
<path d="M531.1 242.6A532 532 0 0 1 537.8 237.4L568.1 277.2A482 482 0 0 0 562.0 281.9Z" fill="url(#d5)"/>
<path d="M537.8 237.4A532 532 0 0 1 547.2 230.4L576.6 270.8A482 482 0 0 0 568.1 277.2Z" fill="url(#d7)"/>
<path d="M555.7 242.2A517.47 517.47 0 0 1 569.2 232.7L589.1 262.0A482 482 0 0 0 576.6 270.8Z" fill="url(#d7)"/>
<path d="M561.0 220.7A532 532 0 0 1 565.9 217.3L593.6 259.0A482 482 0 0 0 589.1 262.0Z" fill="url(#d6)"/>
<path d="M565.9 217.3A532 532 0 0 1 583.7 206.0L609.8 248.7A482 482 0 0 0 593.6 259.0Z" fill="url(#d5)"/>
<path d="M583.7 206.0A532 532 0 0 1 594.7 199.5L619.7 242.8A482 482 0 0 0 609.8 248.7Z" fill="url(#d2)"/>
<path d="M594.7 199.5A532 532 0 0 1 599.8 196.6L624.3 240.2A482 482 0 0 0 619.7 242.8Z" fill="url(#d2)"/>
<path d="M599.8 196.6A532 532 0 0 1 612.2 189.9L635.5 234.1A482 482 0 0 0 624.3 240.2Z" fill="url(#d2)"/>
<path d="M612.2 189.9A532 532 0 0 1 621.2 185.2L643.7 229.9A482 482 0 0 0 635.5 234.1Z" fill="url(#d5)"/>
<path d="M621.2 185.2A532 532 0 0 1 638.8 176.8L659.6 222.2A482 482 0 0 0 643.7 229.9Z" fill="url(#d6)"/>
<path d="M638.8 176.8A532 532 0 0 1 647.7 172.8L667.7 218.6A482 482 0 0 0 659.6 222.2Z" fill="url(#d5)"/>
<path d="M647.7 172.8A532 532 0 0 1 666.8 164.8L685.1 211.4A482 482 0 0 0 667.7 218.6Z" fill="url(#d3)"/>
<path d="M666.8 164.8A532 532 0 0 1 672.4 162.7L684.9 195.8A496.67 496.67 0 0 0 679.7 197.7Z" fill="url(#d2)"/>
<path d="M683.5 192.1A500.575 500.575 0 0 1 690.4 189.6L696.7 207.0A482 482 0 0 0 690.1 209.5Z" fill="url(#d2)"/>
<path d="M679.7 160.0A532 532 0 0 1 687.7 157.2L704.0 204.5A482 482 0 0 0 696.7 207.0Z" fill="url(#d5)"/>
<path d="M687.7 157.2A532 532 0 0 1 692.6 155.5L698.8 174.4A512.155 512.155 0 0 0 694.2 175.9Z" fill="url(#d5)"/>
<path d="M692.6 155.5A532 532 0 0 1 711.4 149.7L725.4 197.6A482 482 0 0 0 708.4 203.0Z" fill="url(#d3)"/>
<path d="M717.3 170.0A510.827 510.827 0 0 1 731.4 166.1L738.7 194.0A482 482 0 0 0 725.4 197.6Z" fill="url(#d5)"/>
<path d="M726.1 145.6A532 532 0 0 1 734.6 143.4L746.4 192.0A482 482 0 0 0 738.7 194.0Z" fill="url(#d3)"/>
<path d="M734.6 143.4A532 532 0 0 1 740.1 142.1L751.4 190.8A482 482 0 0 0 746.4 192.0Z" fill="url(#d5)"/>
<path d="M772.9 135.6A532 532 0 0 1 799.3 131.8L805.0 181.5A482 482 0 0 0 781.1 184.9Z" fill="url(#d4)"/>
<path d="M799.3 131.8A532 532 0 0 1 818.5 130.0L822.5 179.8A482 482 0 0 0 805.0 181.5Z" fill="url(#d4)"/>
<path d="M912.9 189.2A474 474 0 0 1 922.3 190.3L915.8 239.9A424 424 0 0 0 907.4 238.9Z" fill="url(#d4)"/>
<path d="M946.1 194.1A474 474 0 0 1 960.7 197.0L950.1 245.9A424 424 0 0 0 937.1 243.3Z" fill="url(#d4)"/>
<path d="M960.7 197.0A474 474 0 0 1 967.2 198.5L956.0 247.2A424 424 0 0 0 950.1 245.9Z" fill="url(#d3)"/>
<path d="M967.2 198.5A474 474 0 0 1 981.7 202.0L968.9 250.4A424 424 0 0 0 956.0 247.2Z" fill="url(#d3)"/>
<path d="M981.7 202.0A474 474 0 0 1 992.8 205.1L978.9 253.1A424 424 0 0 0 968.9 250.4Z" fill="url(#d2)"/>
<path d="M992.8 205.1A474 474 0 0 1 1006.7 209.4L1001.7 224.7A457.849 457.849 0 0 0 988.3 220.6Z" fill="url(#d5)"/>
<path d="M1006.7 209.4A474 474 0 0 1 1020.0 213.9L1003.2 261.0A424 424 0 0 0 991.3 256.9Z" fill="url(#d3)"/>
<path d="M1020.0 213.9A474 474 0 0 1 1027.8 216.8L1010.2 263.6A424 424 0 0 0 1003.2 261.0Z" fill="url(#d3)"/>
<path d="M1027.8 216.8A474 474 0 0 1 1041.8 222.3L1022.7 268.5A424 424 0 0 0 1010.2 263.6Z" fill="url(#d5)"/>
<path d="M1048.9 225.3A474 474 0 0 1 1060.6 230.6L1039.5 275.9A424 424 0 0 0 1029.1 271.2Z" fill="url(#d5)"/>
<path d="M1060.6 230.6A474 474 0 0 1 1077.7 238.9L1054.8 283.4A424 424 0 0 0 1039.5 275.9Z" fill="url(#d5)"/>
<path d="M1077.7 238.9A474 474 0 0 1 1082.9 241.7L1059.4 285.8A424 424 0 0 0 1054.8 283.4Z" fill="url(#d6)"/>
<path d="M1089.4 245.2A474 474 0 0 1 1094.6 248.1L1069.9 291.5A424 424 0 0 0 1065.3 289.0Z" fill="url(#d2)"/>
<path d="M1094.6 248.1A474 474 0 0 1 1111.2 258.0L1084.8 300.4A424 424 0 0 0 1069.9 291.5Z" fill="url(#d2)"/>
<path d="M1111.2 258.0A474 474 0 0 1 1121.7 264.7L1094.2 306.4A424 424 0 0 0 1084.8 300.4Z" fill="url(#d2)"/>
<path d="M1121.7 264.7A474 474 0 0 1 1126.1 267.6L1098.1 309.0A424 424 0 0 0 1094.2 306.4Z" fill="url(#d7)"/>
<path d="M1126.1 267.6A474 474 0 0 1 1142.2 279.0L1112.5 319.3A424 424 0 0 0 1098.1 309.0Z" fill="url(#d6)"/>
<path d="M1142.2 279.0A474 474 0 0 1 1149.7 284.7L1119.2 324.3A424 424 0 0 0 1112.5 319.3Z" fill="url(#d7)"/>
<path d="M1149.7 284.7A474 474 0 0 1 1156.8 290.3L1125.6 329.3A424 424 0 0 0 1119.2 324.3Z" fill="url(#d5)"/>
<path d="M1139.6 311.8A446.456 446.456 0 0 1 1145.3 316.4L1131.0 333.7A424 424 0 0 0 1125.6 329.3Z" fill="url(#d2)"/>
<path d="M1169.3 300.6A474 474 0 0 1 1183.7 313.5L1149.6 350.1A424 424 0 0 0 1136.7 338.5Z" fill="url(#d5)"/>
<path d="M1170.4 327.7A454.544 454.544 0 0 1 1179.6 336.5L1163.2 353.1A431.193 431.193 0 0 0 1154.5 344.8Z" fill="url(#d1)"/>
<path d="M1193.3 322.6A474 474 0 0 1 1201.4 330.9L1176.5 355.0A439.306 439.306 0 0 0 1168.9 347.4Z" fill="url(#d2)"/>
<path d="M1201.4 330.9A474 474 0 0 1 1206.2 335.9L1190.0 351.2A451.679 451.679 0 0 0 1185.4 346.4Z" fill="url(#d5)"/>
<path d="M1206.2 335.9A474 474 0 0 1 1209.3 339.2L1172.5 373.1A424 424 0 0 0 1169.8 370.2Z" fill="url(#d2)"/>
<path d="M1193.1 372.5A439.737 439.737 0 0 1 1196.7 376.7L1184.6 386.8A424 424 0 0 0 1181.2 382.8Z" fill="url(#d5)"/>
<path d="M1222.8 354.6A474 474 0 0 1 1234.4 368.8L1195.0 399.6A424 424 0 0 0 1184.6 386.8Z" fill="url(#d7)"/>
<path d="M1207.9 389.5A440.443 440.443 0 0 1 1217.2 401.8L1203.9 411.4A424 424 0 0 0 1195.0 399.6Z" fill="url(#d5)"/>
<path d="M1244.4 382.1A474 474 0 0 1 1252.4 393.5L1235.3 405.1A453.355 453.355 0 0 0 1227.6 394.2Z" fill="url(#d2)"/>
<path d="M1252.4 393.5A474 474 0 0 1 1260.3 405.4L1244.0 415.8A454.731 454.731 0 0 0 1236.4 404.3Z" fill="url(#d5)"/>
<path d="M1260.3 405.4A474 474 0 0 1 1268.3 418.6L1225.3 444.1A424 424 0 0 0 1218.1 432.3Z" fill="url(#d7)"/>
<path d="M1268.3 418.6A474 474 0 0 1 1278.1 435.8L1234.0 459.5A424 424 0 0 0 1225.3 444.1Z" fill="url(#d2)"/>
<path d="M1284.3 447.8A474 474 0 0 1 1289.2 457.8L1244.0 479.2A424 424 0 0 0 1239.6 470.2Z" fill="url(#d2)"/>
<path d="M1289.2 457.8A474 474 0 0 1 1292.0 463.9L1246.5 484.6A424 424 0 0 0 1244.0 479.2Z" fill="url(#d7)"/>
<path d="M1302.9 489.9A474 474 0 0 1 1305.4 496.6L1258.5 513.9A424 424 0 0 0 1256.2 507.9Z" fill="url(#d5)"/>
<path d="M1305.4 496.6A474 474 0 0 1 1309.3 507.4L1261.9 523.5A424 424 0 0 0 1258.5 513.9Z" fill="url(#d2)"/>
<path d="M1309.3 507.4A474 474 0 0 1 1314.3 523.1L1294.3 529.1A453.15 453.15 0 0 0 1289.5 514.1Z" fill="url(#d3)"/>
<path d="M1314.3 523.1A474 474 0 0 1 1318.2 536.5L1269.9 549.6A424 424 0 0 0 1266.4 537.5Z" fill="url(#d3)"/>
<path d="M1309.3 555.8A460.724 460.724 0 0 1 1311.0 563.3L1275.1 571.1A424 424 0 0 0 1273.6 564.2Z" fill="url(#d5)"/>
<path d="M1324.0 560.5A474 474 0 0 1 1325.3 566.7L1276.2 576.6A424 424 0 0 0 1275.1 571.1Z" fill="url(#d3)"/>
<path d="M1295.0 572.8A443.119 443.119 0 0 1 1299.1 596.2L1280.1 599.0A424 424 0 0 0 1276.2 576.6Z" fill="url(#d4)"/>
<path d="M1329.6 591.8A474 474 0 0 1 1332.5 615.7L1282.7 620.4A424 424 0 0 0 1280.1 599.0Z" fill="url(#d4)"/>
<path d="M1333.9 686.7A474 474 0 0 1 1331.4 715.7L1281.7 709.9A424 424 0 0 0 1283.9 683.9Z" fill="url(#d4)"/>
<path d="M1327.6 741.3A474 474 0 0 1 1321.0 773.1L1272.4 761.2A424 424 0 0 0 1278.4 732.7Z" fill="url(#d3)"/>
<path d="M1321.0 773.1A474 474 0 0 1 1316.4 790.4L1286.6 781.9A443.06 443.06 0 0 0 1290.9 765.7Z" fill="url(#d3)"/>
<path d="M1303.6 797.5A463.715 463.715 0 0 1 1298.7 812.4L1261.1 799.4A424 424 0 0 0 1265.6 785.7Z" fill="url(#d3)"/>
<path d="M1292.3 810.2A456.995 456.995 0 0 1 1288.9 819.6L1258.0 808.1A424 424 0 0 0 1261.1 799.4Z" fill="url(#d5)"/>
<path d="M1304.9 825.6A474 474 0 0 1 1301.2 835.2L1254.7 816.7A424 424 0 0 0 1258.0 808.1Z" fill="url(#d2)"/>
<path d="M1269.7 822.7A440.101 440.101 0 0 1 1264.7 834.7L1249.9 828.3A424 424 0 0 0 1254.7 816.7Z" fill="url(#d2)"/>
<path d="M1295.8 848.1A474 474 0 0 1 1289.2 862.7L1271.6 854.4A454.572 454.572 0 0 0 1278.0 840.4Z" fill="url(#d3)"/>
<path d="M1289.2 862.7A474 474 0 0 1 1285.0 871.5L1240.2 849.2A424 424 0 0 0 1244.0 841.4Z" fill="url(#d2)"/>
<path d="M1281.6 878.1A474 474 0 0 1 1273.6 892.9L1230.0 868.3A424 424 0 0 0 1237.2 855.1Z" fill="url(#d2)"/>
<path d="M1273.6 892.9A474 474 0 0 1 1267.1 904.1L1224.2 878.3A424 424 0 0 0 1230.0 868.3Z" fill="url(#d6)"/>
<path d="M1254.5 924.0A474 474 0 0 1 1248.1 933.4L1207.2 904.6A424 424 0 0 0 1212.9 896.2Z" fill="url(#d6)"/>
<path d="M1248.1 933.4A474 474 0 0 1 1243.5 939.8L1203.1 910.3A424 424 0 0 0 1207.2 904.6Z" fill="url(#d2)"/>
<path d="M1243.5 939.8A474 474 0 0 1 1235.8 949.9L1196.3 919.4A424 424 0 0 0 1203.1 910.3Z" fill="url(#d2)"/>
<path d="M1235.8 949.9A474 474 0 0 1 1232.2 954.5L1209.4 936.5A444.962 444.962 0 0 0 1212.8 932.2Z" fill="url(#d2)"/>
<path d="M1232.2 954.5A474 474 0 0 1 1225.1 963.3L1194.6 937.9A434.318 434.318 0 0 0 1201.1 929.9Z" fill="url(#d2)"/>
<path d="M1225.1 963.3A474 474 0 0 1 1214.4 975.8L1177.1 942.5A424 424 0 0 0 1186.7 931.3Z" fill="url(#d2)"/>
<path d="M1198.9 961.9A453.257 453.257 0 0 1 1191.3 970.3L1170.0 950.3A424 424 0 0 0 1177.1 942.5Z" fill="url(#d6)"/>
<path d="M1206.4 984.4A474 474 0 0 1 1195.9 995.3L1160.5 960.0A424 424 0 0 0 1170.0 950.3Z" fill="url(#d2)"/>
<path d="M1195.9 995.3A474 474 0 0 1 1189.9 1001.3L1155.1 965.3A424 424 0 0 0 1160.5 960.0Z" fill="url(#d6)"/>
<path d="M1189.9 1001.3A474 474 0 0 1 1185.6 1005.3L1151.4 968.9A424 424 0 0 0 1155.1 965.3Z" fill="url(#d2)"/>
<path d="M1185.6 1005.3A474 474 0 0 1 1182.0 1008.7L1164.9 990.2A448.839 448.839 0 0 0 1168.4 987.0Z" fill="url(#d5)"/>
<path d="M1182.0 1008.7A474 474 0 0 1 1176.6 1013.6L1143.3 976.3A424 424 0 0 0 1148.1 971.9Z" fill="url(#d5)"/>
<path d="M1170.2 1019.2A474 474 0 0 1 1163.9 1024.6L1131.9 986.2A424 424 0 0 0 1137.5 981.4Z" fill="url(#d7)"/>
<path d="M1142.2 1010.3A449.181 449.181 0 0 1 1133.5 1017.1L1122.2 1002.4A430.635 430.635 0 0 0 1130.5 995.8Z" fill="url(#d1)"/>
<path d="M1148.5 1036.8A474 474 0 0 1 1138.8 1044.1L1109.5 1003.6A424 424 0 0 0 1118.2 997.1Z" fill="url(#d7)"/>
<path d="M1138.8 1044.1A474 474 0 0 1 1135.1 1046.7L1106.2 1005.9A424 424 0 0 0 1109.5 1003.6Z" fill="url(#d7)"/>
<path d="M1135.1 1046.7A474 474 0 0 1 1125.5 1053.3L1115.4 1038.3A455.814 455.814 0 0 0 1124.6 1031.9Z" fill="url(#d5)"/>
<path d="M1125.5 1053.3A474 474 0 0 1 1110.3 1063.2L1083.9 1020.7A424 424 0 0 0 1097.6 1011.9Z" fill="url(#d6)"/>
<path d="M1110.3 1063.2A474 474 0 0 1 1095.3 1072.1L1070.5 1028.7A424 424 0 0 0 1083.9 1020.7Z" fill="url(#d2)"/>
<path d="M1070.5 1085.3A474 474 0 0 1 1056.9 1091.7L1036.2 1046.2A424 424 0 0 0 1048.4 1040.4Z" fill="url(#d5)"/>
<path d="M1056.9 1091.7A474 474 0 0 1 1041.5 1098.4L1035.1 1082.8A457.133 457.133 0 0 0 1049.9 1076.4Z" fill="url(#d6)"/>
<path d="M1041.5 1098.4A474 474 0 0 1 1032.3 1102.1L1014.2 1055.5A424 424 0 0 0 1022.4 1052.2Z" fill="url(#d2)"/>
<path d="M1015.1 1108.4A474 474 0 0 1 1005.2 1111.7L989.9 1064.1A424 424 0 0 0 998.8 1061.1Z" fill="url(#d2)"/>
<path d="M998.5 1090.8A452.029 452.029 0 0 1 985.2 1094.8L977.5 1067.9A424 424 0 0 0 989.9 1064.1Z" fill="url(#d5)"/>
<path d="M991.3 1115.9A474 474 0 0 1 977.1 1119.8L964.8 1071.3A424 424 0 0 0 977.5 1067.9Z" fill="url(#d3)"/>
<path d="M977.1 1119.8A474 474 0 0 1 962.4 1123.2L955.1 1089.7A439.641 439.641 0 0 0 968.6 1086.5Z" fill="url(#d5)"/>
<path d="M920.7 1130.5A474 474 0 0 1 907.6 1132.0L902.7 1082.2A424 424 0 0 0 914.4 1080.9Z" fill="url(#d4)"/>
<path d="M886.2 1133.6A474 474 0 0 1 869.2 1134.2L868.5 1095.3A435.109 435.109 0 0 0 884.1 1094.8Z" fill="url(#d4)"/>
<path d="M869.2 1134.2A474 474 0 0 1 860.2 1134.3L860.3 1084.3A424 424 0 0 0 868.3 1084.2Z" fill="url(#d4)"/>
<path d="M860.2 1134.3A474 474 0 0 1 832.6 1133.5L835.6 1083.6A424 424 0 0 0 860.3 1084.3Z" fill="url(#d4)"/>
<path d="M832.6 1133.5A474 474 0 0 1 824.0 1132.9L826.3 1103.0A443.983 443.983 0 0 0 834.4 1103.5Z" fill="url(#d4)"/>
<path d="M736.6 1117.8A474 474 0 0 1 727.2 1115.1L741.3 1067.2A424 424 0 0 0 749.7 1069.5Z" fill="url(#d3)"/>
<path d="M727.2 1115.1A474 474 0 0 1 710.3 1109.8L726.1 1062.4A424 424 0 0 0 741.3 1067.2Z" fill="url(#d2)"/>
<path d="M710.3 1109.8A474 474 0 0 1 703.1 1107.4L719.7 1060.2A424 424 0 0 0 726.1 1062.4Z" fill="url(#d3)"/>
<path d="M703.1 1107.4A474 474 0 0 1 694.7 1104.3L706.3 1073.2A440.789 440.789 0 0 0 714.1 1076.0Z" fill="url(#d2)"/>
<path d="M694.7 1104.3A474 474 0 0 1 687.5 1101.6L700.0 1069.8A439.892 439.892 0 0 0 706.7 1072.4Z" fill="url(#d5)"/>
<path d="M687.5 1101.6A474 474 0 0 1 679.3 1098.3L698.4 1052.1A424 424 0 0 0 705.8 1055.0Z" fill="url(#d2)"/>
<path d="M679.3 1098.3A474 474 0 0 1 674.2 1096.1L693.8 1050.1A424 424 0 0 0 698.4 1052.1Z" fill="url(#d5)"/>
<path d="M673.7 1078.0A457.563 457.563 0 0 1 663.5 1073.2L677.9 1042.9A424 424 0 0 0 687.4 1047.3Z" fill="url(#d5)"/>
<path d="M653.5 1053.6A444.541 444.541 0 0 1 648.6 1051.0L657.0 1035.6A426.981 426.981 0 0 0 661.7 1038.1Z" fill="url(#d1)"/>
<path d="M634.5 1076.9A474 474 0 0 1 629.1 1073.9L653.6 1030.3A424 424 0 0 0 658.4 1033.0Z" fill="url(#d2)"/>
<path d="M625.0 1048.1A453.77 453.77 0 0 1 615.3 1042.0L631.4 1017.0A424 424 0 0 0 640.5 1022.7Z" fill="url(#d5)"/>
<path d="M604.3 1059.1A474 474 0 0 1 599.9 1056.1L627.4 1014.4A424 424 0 0 0 631.4 1017.0Z" fill="url(#d6)"/>
<path d="M590.3 1049.7A474 474 0 0 1 584.4 1045.5L613.5 1004.9A424 424 0 0 0 618.8 1008.6Z" fill="url(#d7)"/>
<path d="M584.4 1045.5A474 474 0 0 1 572.8 1036.9L603.1 997.2A424 424 0 0 0 613.5 1004.9Z" fill="url(#d7)"/>
<path d="M549.7 1018.1A474 474 0 0 1 542.0 1011.2L575.6 974.2A424 424 0 0 0 582.5 980.3Z" fill="url(#d5)"/>
<path d="M542.0 1011.2A474 474 0 0 1 536.4 1006.1L570.6 969.6A424 424 0 0 0 575.6 974.2Z" fill="url(#d5)"/>
<path d="M527.5 997.6A474 474 0 0 1 518.5 988.3L554.5 953.7A424 424 0 0 0 562.7 962.0Z" fill="url(#d5)"/>
<path d="M512.9 982.4A474 474 0 0 1 506.1 975.0L543.5 941.8A424 424 0 0 0 549.6 948.5Z" fill="url(#d2)"/>
<path d="M506.1 975.0A474 474 0 0 1 499.1 966.9L537.2 934.6A424 424 0 0 0 543.5 941.8Z" fill="url(#d2)"/>
<path d="M495.7 962.9A474 474 0 0 1 488.0 953.3L527.3 922.4A424 424 0 0 0 534.2 930.9Z" fill="url(#d2)"/>
<path d="M488.0 953.3A474 474 0 0 1 479.8 942.6L502.8 925.6A445.382 445.382 0 0 0 510.5 935.6Z" fill="url(#d7)"/>
<path d="M499.0 928.4A450.107 450.107 0 0 1 491.7 918.2L509.7 905.5A428.066 428.066 0 0 0 516.7 915.2Z" fill="url(#d1)"/>
<path d="M461.2 915.6A474 474 0 0 1 458.7 911.5L501.1 885.0A424 424 0 0 0 503.4 888.7Z" fill="url(#d2)"/>
<path d="M451.1 899.1A474 474 0 0 1 443.8 886.0L487.8 862.2A424 424 0 0 0 494.3 873.9Z" fill="url(#d5)"/>
<path d="M471.2 871.2A442.897 442.897 0 0 1 464.4 858.3L481.3 849.8A424 424 0 0 0 487.8 862.2Z" fill="url(#d5)"/>
<path d="M436.6 872.2A474 474 0 0 1 431.6 861.8L476.8 840.6A424 424 0 0 0 481.3 849.8Z" fill="url(#d5)"/>
<path d="M437.9 844.9A461.243 461.243 0 0 1 435.8 840.0L470.1 825.5A424 424 0 0 0 472.0 830.0Z" fill="url(#d5)"/>
<path d="M424.0 844.9A474 474 0 0 1 416.9 827.0L463.7 809.4A424 424 0 0 0 470.1 825.5Z" fill="url(#d5)"/>
<path d="M441.7 817.7A447.445 447.445 0 0 1 438.0 807.4L460.2 799.7A424 424 0 0 0 463.7 809.4Z" fill="url(#d2)"/>
<path d="M412.9 816.1A474 474 0 0 1 407.7 800.2L455.5 785.5A424 424 0 0 0 460.2 799.7Z" fill="url(#d2)"/>
<path d="M407.7 800.2A474 474 0 0 1 404.3 788.5L423.2 783.2A454.376 454.376 0 0 0 426.5 794.4Z" fill="url(#d5)"/>
<path d="M404.3 788.5A474 474 0 0 1 400.4 773.7L448.9 761.8A424 424 0 0 0 452.4 775.0Z" fill="url(#d3)"/>
<path d="M400.4 773.7A474 474 0 0 1 399.0 767.9L447.7 756.5A424 424 0 0 0 448.9 761.8Z" fill="url(#d3)"/>
<path d="M422.3 762.4A450.011 450.011 0 0 1 421.2 757.5L446.6 751.8A424 424 0 0 0 447.7 756.5Z" fill="url(#d2)"/>
<path d="M397.8 762.6A474 474 0 0 1 394.3 745.1L443.4 736.2A424 424 0 0 0 446.6 751.8Z" fill="url(#d2)"/>
<path d="M394.3 745.1A474 474 0 0 1 391.8 730.5L441.3 723.1A424 424 0 0 0 443.4 736.2Z" fill="url(#d4)"/>
<path d="M391.8 730.5A474 474 0 0 1 390.3 719.2L439.9 713.0A424 424 0 0 0 441.3 723.1Z" fill="url(#d4)"/>
<path d="M415.6 647.9A445.184 445.184 0 0 1 417.1 621.6L438.2 623.4A424 424 0 0 0 436.8 648.4Z" fill="url(#d4)"/>
<path d="M388.4 619.1A474 474 0 0 1 392.4 586.7L441.7 594.4A424 424 0 0 0 438.2 623.4Z" fill="url(#d4)"/>
<path d="M398.5 555.0A474 474 0 0 1 400.2 547.4L448.8 559.3A424 424 0 0 0 447.2 566.1Z" fill="url(#d2)"/>
<path d="M400.2 547.4A474 474 0 0 1 404.4 531.6L452.5 545.2A424 424 0 0 0 448.8 559.3Z" fill="url(#d2)"/>
<path d="M404.4 531.6A474 474 0 0 1 409.7 514.3L457.2 529.7A424 424 0 0 0 452.5 545.2Z" fill="url(#d2)"/>
<path d="M432.4 521.6A450.113 450.113 0 0 1 437.0 508.0L461.6 516.9A424 424 0 0 0 457.2 529.7Z" fill="url(#d3)"/>
<path d="M416.6 494.3A474 474 0 0 1 422.1 480.3L444.2 489.3A450.124 450.124 0 0 0 439.0 502.6Z" fill="url(#d3)"/>
<path d="M422.1 480.3A474 474 0 0 1 428.9 464.6L474.4 485.2A424 424 0 0 0 468.4 499.3Z" fill="url(#d6)"/>
<path d="M428.9 464.6A474 474 0 0 1 432.7 456.4L447.4 463.4A457.685 457.685 0 0 0 443.7 471.3Z" fill="url(#d2)"/>
<path d="M432.7 456.4A474 474 0 0 1 438.5 444.6L462.6 456.9A447.022 447.022 0 0 0 457.1 468.0Z" fill="url(#d5)"/>
<path d="M438.5 444.6A474 474 0 0 1 443.7 434.8L476.2 452.4A437.054 437.054 0 0 0 471.4 461.4Z" fill="url(#d2)"/>
<path d="M447.1 428.6A474 474 0 0 1 449.4 424.6L492.7 449.4A424 424 0 0 0 490.7 453.0Z" fill="url(#d2)"/>
<path d="M449.4 424.6A474 474 0 0 1 453.3 417.8L496.3 443.4A424 424 0 0 0 492.7 449.4Z" fill="url(#d7)"/>
<path d="M453.3 417.8A474 474 0 0 1 461.0 405.3L503.2 432.2A424 424 0 0 0 496.3 443.4Z" fill="url(#d2)"/>
<path d="M461.0 405.3A474 474 0 0 1 464.1 400.5L506.0 427.9A424 424 0 0 0 503.2 432.2Z" fill="url(#d5)"/>
<path d="M464.1 400.5A474 474 0 0 1 471.3 389.9L512.4 418.4A424 424 0 0 0 506.0 427.9Z" fill="url(#d2)"/>
<path d="M476.8 382.1A474 474 0 0 1 481.1 376.3L511.9 399.4A435.527 435.527 0 0 0 508.0 404.7Z" fill="url(#d2)"/>
<path d="M481.1 376.3A474 474 0 0 1 488.3 366.9L527.6 397.9A424 424 0 0 0 521.1 406.3Z" fill="url(#d6)"/>
<path d="M488.3 366.9A474 474 0 0 1 492.5 361.6L531.4 393.1A424 424 0 0 0 527.6 397.9Z" fill="url(#d6)"/>
<path d="M492.5 361.6A474 474 0 0 1 495.3 358.3L533.8 390.2A424 424 0 0 0 531.4 393.1Z" fill="url(#d2)"/>
<path d="M495.3 358.3A474 474 0 0 1 500.5 352.0L538.5 384.6A424 424 0 0 0 533.8 390.2Z" fill="url(#d5)"/>
<path d="M509.4 359.7A462.299 462.299 0 0 1 518.3 349.6L546.6 375.4A424 424 0 0 0 538.5 384.6Z" fill="url(#d5)"/>
<path d="M509.6 341.8A474 474 0 0 1 518.4 332.3L554.5 366.9A424 424 0 0 0 546.6 375.4Z" fill="url(#d5)"/>
<path d="M538.2 344.2A451.534 451.534 0 0 1 546.6 335.8L565.7 355.6A424 424 0 0 0 557.8 363.5Z" fill="url(#d2)"/>
<path d="M531.0 319.7A474 474 0 0 1 544.9 306.7L578.2 344.0A424 424 0 0 0 565.7 355.6Z" fill="url(#d7)"/>
<path d="M558.7 294.9A474 474 0 0 1 571.4 284.7L601.9 324.3A424 424 0 0 0 590.6 333.4Z" fill="url(#d6)"/>
<path d="M584.0 275.4A474 474 0 0 1 593.3 268.9L621.5 310.1A424 424 0 0 0 613.2 316.0Z" fill="url(#d5)"/>
<path d="M593.3 268.9A474 474 0 0 1 604.0 261.8L631.0 303.8A424 424 0 0 0 621.5 310.1Z" fill="url(#d2)"/>
<path d="M610.9 257.4A474 474 0 0 1 614.7 255.1L640.7 297.8A424 424 0 0 0 637.2 299.9Z" fill="url(#d2)"/>
<path d="M614.7 255.1A474 474 0 0 1 629.4 246.5L653.8 290.2A424 424 0 0 0 640.7 297.8Z" fill="url(#d5)"/>
<path d="M638.6 263.1A455.039 455.039 0 0 1 643.5 260.4L658.3 287.7A424 424 0 0 0 653.8 290.2Z" fill="url(#d5)"/>
<path d="M634.5 243.7A474 474 0 0 1 648.1 236.6L670.5 281.3A424 424 0 0 0 658.3 287.7Z" fill="url(#d5)"/>
<path d="M663.1 229.4A474 474 0 0 1 669.3 226.6L675.6 240.9A458.412 458.412 0 0 0 669.6 243.6Z" fill="url(#d7)"/>
<path d="M691.1 217.6A474 474 0 0 1 707.1 211.8L713.5 230.4A454.337 454.337 0 0 0 698.1 236.0Z" fill="url(#d3)"/>
<path d="M724.8 206.2A474 474 0 0 1 730.2 204.6L740.0 238.9A438.328 438.328 0 0 0 735.0 240.4Z" fill="url(#d3)"/>
<path d="M730.2 204.6A474 474 0 0 1 739.4 202.1L747.1 231.1A443.987 443.987 0 0 0 738.4 233.5Z" fill="url(#d6)"/>
<path d="M739.4 202.1A474 474 0 0 1 749.7 199.5L755.4 223.1A449.7 449.7 0 0 0 745.6 225.5Z" fill="url(#d5)"/>
<path d="M749.7 199.5A474 474 0 0 1 759.1 197.3L769.8 246.1A424 424 0 0 0 761.4 248.1Z" fill="url(#d3)"/>
<path d="M759.1 197.3A474 474 0 0 1 772.5 194.6L781.8 243.7A424 424 0 0 0 769.8 246.1Z" fill="url(#d5)"/>
<path d="M798.9 190.3A474 474 0 0 1 821.3 187.9L825.4 237.8A424 424 0 0 0 805.4 239.9Z" fill="url(#d3)"/>
<path d="M829.9 187.3A474 474 0 0 1 854.6 186.3L854.9 210.1A450.192 450.192 0 0 0 831.4 211.1Z" fill="url(#d4)"/>
<path d="M313.9 439.9A589.5 589.5 0 0 1 316.3 433.8L362.5 453.0A539.5 539.5 0 0 0 360.2 458.6Z" fill="#ffffff"/>
<path d="M310.5 448.4A589.5 589.5 0 0 1 312.2 444.1L358.7 462.4A539.5 539.5 0 0 0 357.1 466.4Z" fill="#fff3d6"/>
<path d="M305.1 462.9A589.5 589.5 0 0 1 307.6 456.0L354.5 473.3A539.5 539.5 0 0 0 352.3 479.6Z" fill="#ffffff"/>
<path d="M910.5 65.4L913.8 25.5M930.8 52.3L934.8 17.6M974.2 74.2L981.8 34.9M1472.6 668.0L1487.6 668.2M1465.9 750.7L1490.6 754.3M805.4 1254.7L800.8 1304.5M263.9 679.6L233.9 680.6M269.8 574.8L230.2 569.1M820.1 64.7L816.7 14.8M1399.8 679.5L1449.7 681.2M813.0 1197.7L810.4 1227.6M321.2 670.2L271.2 671.1M321.7 634.7L271.8 632.3M847.5 121.0L846.8 91.0M935.3 184.1L943.0 134.7M1332.6 758.2L1381.5 768.3M929.6 1162.6L933.0 1187.4M856.3 1142.3L855.8 1192.3M791.8 1152.5L789.7 1167.4M363.8 674.9L328.8 676.0M1298.5 629.0L1333.4 626.5M855.5 1109.3L855.3 1134.3M439.7 711.9L390.1 717.9M438.5 700.4L398.7 704.1M425.3 603.5L390.6 599.0M420.4 571.6L395.9 566.7M846.0 221.5L844.8 186.6" stroke="#fff" stroke-opacity=".93" stroke-width="1.94" stroke-dasharray="1.935 11.61" fill="none"/>
<path d="M978.0 75.0L987.8 25.9M989.1 77.3L999.9 28.5M1100.6 113.7L1120.7 67.9M1143.6 134.6L1167.3 90.6M1170.7 150.2L1196.7 107.5M1197.9 167.7L1226.1 126.4M1338.2 261.9L1349.7 252.2M1362.3 309.8L1391.0 289.7M1397.1 398.5L1442.1 376.5M1433.2 491.5L1471.6 480.2M1440.5 518.6L1489.1 506.7M1445.3 539.9L1494.3 529.8M1468.8 592.6L1503.6 588.7M1454.4 722.2L1504.1 727.4M1436.9 866.3L1460.4 874.7M1413.4 945.4L1435.6 956.8M1353.7 996.8L1378.5 1013.8M1238.3 1122.6L1263.6 1153.6M1233.8 1157.9L1248.8 1177.9M1208.2 1164.0L1222.4 1184.6M1085.8 1213.2L1097.2 1241.0M1061.8 1222.4L1078.6 1269.4M958.6 1249.2L966.8 1298.5M834.7 1271.7L833.2 1306.7M769.7 1265.5L764.5 1300.1M635.4 1213.2L616.6 1259.5M519.0 1168.1L499.4 1197.1M519.2 1150.1L490.6 1191.1M498.4 1134.9L474.2 1166.7M458.1 1101.2L424.4 1138.2M370.3 1043.1L350.6 1058.5M325.1 924.2L289.2 941.8M323.3 920.6L278.3 942.4M287.3 874.6L254.6 886.8M280.7 855.8L247.5 867.0M267.0 809.1L252.4 812.7M268.5 736.4L218.9 742.8M263.6 653.8L223.6 653.4M279.2 524.6L230.5 513.2M273.7 486.7L259.3 482.5M325.7 342.9L304.2 330.2M417.1 260.7L387.3 233.9M602.6 121.9L585.3 85.9M617.0 115.3L596.6 69.6M756.9 57.2L750.9 22.7M946.2 112.4L951.6 77.9M1100.4 177.0L1122.6 132.2M1173.7 220.9L1196.9 188.4M1187.1 230.8L1217.4 191.0M1201.8 242.4L1220.7 219.1M1269.8 286.1L1295.7 262.5M1304.2 311.2L1323.9 295.7M1344.7 369.9L1366.1 357.0M1373.2 492.0L1420.7 476.4M1380.0 514.5L1428.2 501.0M1388.8 550.3L1437.7 540.1M1398.1 613.6L1447.9 609.3M1397.4 714.6L1447.1 719.7M1414.0 771.8L1438.5 776.8M1387.3 777.3L1416.6 783.8M1385.0 840.5L1399.2 845.3M1380.8 852.2L1404.3 860.8M1362.4 858.6L1408.9 876.9M1356.8 872.0L1393.6 887.7M1306.3 964.3L1331.1 981.2M1310.9 983.9L1339.3 1004.3M1276.4 1004.0L1299.6 1023.1M1253.4 1030.1L1289.8 1064.4M1177.3 1097.0L1206.7 1137.5M1014.1 1203.5L1020.9 1227.6M919.0 1196.6L924.4 1246.3M842.1 1214.5L840.9 1249.5M783.0 1194.2L775.8 1243.7M695.9 1200.2L688.6 1224.1M589.6 1126.8L574.6 1152.8M579.6 1138.3L561.8 1168.5M484.5 1047.1L449.7 1083.0M464.5 1048.3L439.5 1072.8M469.9 1032.4L433.7 1066.8M458.1 1019.6L420.8 1052.9M452.4 1013.1L429.7 1032.7M422.5 975.1L390.0 998.4M366.3 876.4L329.6 892.5M349.5 832.9L311.6 845.7M351.9 480.5L304.8 463.9M364.6 412.3L333.3 396.7M410.3 363.1L368.6 335.6M442.0 281.6L430.9 271.5M486.6 251.0L462.9 225.1M523.1 239.4L498.1 208.2M531.7 201.5L517.1 181.2M652.2 162.7L632.9 116.6M661.3 159.0L642.8 112.5M659.1 133.0L653.8 119.0M701.5 118.7L694.4 94.7M722.6 112.9L716.5 88.7M734.5 120.3L728.8 96.0M1029.7 182.3L1031.3 177.6M1118.8 253.3L1140.3 219.5M1297.8 457.4L1325.0 444.8M1318.0 465.8L1331.8 459.9M1355.2 611.7L1390.1 608.3M1321.2 802.2L1359.5 814.0M1339.9 825.5L1354.1 830.4M1298.1 862.5L1343.5 883.5M1288.8 881.5L1333.3 904.5M1260.0 956.0L1280.1 970.9M1262.4 969.5L1282.2 984.7M1224.7 976.1L1247.4 995.8M1179.8 1021.5L1212.9 1059.0M1177.0 1023.9L1209.8 1061.7M1125.8 1092.4L1138.9 1113.7M1107.9 1074.0L1133.6 1116.9M1005.8 1146.1L1013.0 1170.0M996.7 1138.3L1006.3 1172.0M967.1 1156.0L972.4 1180.4M949.4 1134.0L956.8 1173.4M719.0 1121.0L707.2 1159.3M700.6 1130.8L692.6 1154.5M697.1 1113.7L680.2 1160.8M600.0 1065.7L572.9 1107.8M560.4 1037.4L529.2 1076.5M556.5 1034.2L537.5 1057.5M535.0 1015.7L501.2 1052.5M523.9 1005.2L495.9 1033.8M499.4 1016.1L481.6 1033.7M509.6 990.7L473.2 1025.0M485.4 986.2L458.9 1009.1M406.7 822.5L359.6 839.4M386.4 809.0L353.0 819.5M380.8 706.6L331.1 711.4M386.1 575.5L346.7 568.5M393.7 540.4L345.3 528.0M384.2 518.7L350.7 508.7M389.1 473.9L365.8 464.7M418.6 468.1L372.7 448.1M426.9 417.5L396.4 400.4M455.7 398.9L413.6 371.8M448.3 382.8L419.3 363.2M517.5 321.8L489.0 293.7M572.9 273.6L543.0 233.5M610.4 248.3L584.5 205.6M630.8 236.6L607.0 192.6M694.7 207.7L677.5 160.8M728.7 196.7L715.0 148.6M761.6 173.3L754.6 139.0M774.4 186.1L765.4 136.9M809.1 181.1L805.9 151.2M952.5 220.8L957.7 196.3M1136.1 338.0L1155.6 315.2M1164.8 364.9L1186.3 344.0M1204.1 371.2L1223.3 355.1M1218.3 388.9L1230.2 379.8M1249.3 435.6L1271.0 423.1M1270.6 503.3L1284.6 498.0M1258.8 514.8L1305.8 497.6M1285.2 514.3L1299.4 509.4M1281.9 612.8L1331.6 607.2M1299.6 653.9L1314.6 653.6M1257.6 809.3L1285.7 819.8M1222.7 880.8L1248.4 896.4M1128.8 988.7L1154.1 1019.7M1070.2 1028.9L1094.9 1072.4M918.5 1105.5L921.8 1130.3M716.0 1058.9L698.9 1105.9M681.0 1060.9L670.7 1083.7M673.5 1040.8L660.3 1067.7M597.0 992.4L572.1 1023.7M570.2 989.5L560.3 1000.8M454.1 851.0L431.5 861.7M471.2 828.1L425.3 847.9M452.6 822.3L420.1 835.3M453.4 778.4L405.4 792.4M442.3 729.5L393.0 737.7M412.4 686.5L387.4 687.9M439.3 536.9L405.7 527.1M506.1 384.7L486.4 369.4M537.5 385.7L499.4 353.3M673.1 252.3L666.8 238.7M773.8 245.3L763.6 196.3M802.5 240.3L797.0 200.7M825.3 237.8L821.2 187.9" stroke="#fff" stroke-opacity=".93" stroke-width="1.94" stroke-dasharray="1.935 9.68" fill="none"/>
<path d="M1006.3 55.6L1009.8 41.0M1066.9 73.5L1075.1 49.9M1086.4 107.6L1105.3 61.4M1125.6 108.7L1140.8 77.1M1133.2 129.2L1151.5 93.6M1214.1 179.2L1237.8 147.0M1237.1 197.0L1262.3 165.9M1265.2 187.9L1275.0 176.5M1312.8 270.5L1335.5 250.9M1333.3 295.7L1372.9 265.2M1348.1 315.7L1372.6 298.4M1355.9 327.0L1397.4 299.1M1401.2 352.8L1423.0 340.4M1408.5 365.9L1430.5 354.1M1403.2 411.3L1439.6 394.6M1409.9 426.4L1446.7 410.7M1411.9 431.3L1448.9 415.9M1423.8 462.2L1471.0 445.6M1454.7 476.0L1478.6 468.6M1463.0 505.2L1487.2 499.0M1440.5 856.0L1464.2 864.0M1421.3 865.3L1468.3 882.4M1417.3 875.9L1463.9 894.0M1426.5 893.4L1458.8 906.8M1346.6 1007.0L1379.2 1030.2M1339.8 1016.4L1371.9 1040.2M1319.6 1042.1L1358.0 1074.1M1309.6 1053.8L1339.6 1080.2M1292.7 1072.3L1328.9 1106.8M1304.4 1096.1L1322.2 1113.7M1269.6 1095.2L1297.0 1124.3M1269.7 1115.5L1279.7 1126.6M1228.2 1162.1L1231.1 1166.1M1151.7 1181.5L1176.1 1225.2M1146.0 1184.7L1169.9 1228.6M1098.7 1224.1L1112.3 1256.3M1065.6 1221.0L1082.8 1267.9M1030.5 1258.6L1037.4 1282.7M1022.8 1260.8L1029.3 1284.9M1016.8 1252.0L1023.2 1276.2M1003.6 1239.9L1015.6 1288.5M735.6 1244.1L729.3 1273.4M710.3 1238.1L702.8 1267.1M673.0 1253.3L665.4 1277.2M669.0 1225.7L653.0 1273.1M652.2 1246.3L650.5 1251.0M651.9 1235.6L646.8 1249.7M610.6 1218.9L600.4 1241.7M583.9 1189.3L560.7 1233.6M567.1 1197.3L555.1 1219.3M521.9 1182.0L519.2 1186.2M524.4 1171.7L505.2 1200.9M430.6 1074.4L394.5 1109.1M407.9 1049.4L369.9 1082.0M380.5 1039.9L360.9 1055.4M357.4 981.5L315.2 1008.4M323.5 953.7L310.4 960.9M316.1 905.1L288.7 917.4M305.6 880.3L277.7 891.3M279.0 850.8L255.3 858.6M271.1 824.7L256.7 828.8M259.3 819.6L235.2 826.0M262.6 790.3L228.4 797.7M274.9 776.1L225.9 785.8M281.2 516.5L242.3 506.9M301.0 452.3L254.1 434.9M284.2 426.6L261.0 417.2M301.9 410.5L270.0 396.2M319.8 407.4L274.5 386.2M322.8 401.0L277.8 379.3M327.0 392.7L282.3 370.2M332.8 381.4L297.4 362.7M338.8 370.3L295.1 346.0M354.7 315.9L325.8 296.2M371.6 317.8L330.7 289.1M388.7 255.0L369.8 238.8M395.9 246.9L377.2 230.3M439.3 237.3L418.1 216.1M451.3 225.7L430.8 203.8M487.0 194.7L468.2 171.3M494.1 189.1L463.4 149.6M490.2 173.1L469.0 145.3M506.9 160.9L492.4 140.5M524.2 137.1L510.6 116.1M594.4 125.9L572.1 81.2M662.7 97.0L646.2 49.9M686.8 73.5L676.9 39.9M746.4 59.0L739.9 24.7M1034.7 149.7L1050.8 102.3M1050.6 128.7L1059.0 105.2M1056.4 141.5L1065.2 118.1M1070.5 136.3L1076.0 122.3M1094.2 157.4L1109.0 125.7M1107.1 152.4L1113.6 138.9M1149.1 175.1L1156.8 162.2M1150.8 205.5L1166.9 180.2M1230.2 267.3L1250.7 245.4M1252.5 268.1L1277.3 243.3M1282.1 284.8L1285.9 281.5M1280.2 321.1L1319.1 289.7M1297.5 343.8L1338.0 314.5M1312.3 365.2L1337.4 348.8M1354.3 442.7L1390.9 426.6M1365.9 471.2L1412.7 453.7M1374.5 496.2L1412.7 484.1M1401.5 498.6L1425.4 491.5M1382.2 522.5L1430.5 509.7M1400.7 534.7L1415.3 531.3M1379.7 807.3L1418.2 818.2M1396.6 837.4L1410.9 842.1M1364.1 854.1L1401.4 868.5M1353.4 879.8L1390.0 896.1M1346.0 895.7L1391.0 917.6M1335.5 916.3L1379.5 940.1M1354.3 934.1L1376.1 946.2M1313.2 997.7L1325.2 1006.6M1209.6 1071.7L1242.0 1109.8M1148.1 1116.8L1174.8 1159.1M1148.7 1134.1L1161.7 1155.5M1092.8 1163.9L1107.4 1195.6M1064.5 1186.7L1069.9 1200.7M1025.9 1173.8L1041.2 1221.4M1001.0 1181.2L1008.8 1210.2M978.8 1202.1L984.2 1226.5M724.3 1182.3L711.7 1230.7M720.9 1181.4L707.9 1229.7M684.2 1196.5L676.4 1220.3M664.5 1189.6L655.8 1213.1M650.2 1157.1L634.6 1193.9M622.4 1172.1L616.1 1185.7M608.2 1137.1L589.5 1172.5M602.2 1133.9L583.0 1169.0M577.8 1119.7L556.8 1153.8M556.3 1123.8L548.1 1136.4M544.2 1127.8L541.4 1131.9M539.6 1112.4L525.1 1132.8M465.7 1027.9L436.4 1055.1M430.7 1010.5L411.3 1026.3M436.8 994.1L397.5 1025.0M395.9 934.4L352.9 959.8M356.6 891.5L324.8 906.1M346.5 824.0L308.4 836.1M344.6 817.7L306.3 829.4M327.0 811.3L293.4 820.8M324.3 519.4L290.4 510.6M343.0 508.2L295.0 494.1M348.1 491.7L319.6 482.4M349.1 488.8L301.7 472.9M353.7 475.5L306.8 458.4M405.3 343.8L384.8 329.5M444.7 316.7L406.1 284.8M466.0 292.4L429.4 258.3M459.8 277.2L434.5 253.0M519.6 242.2L488.0 203.5M600.7 187.5L576.6 143.7M621.4 176.7L599.2 131.9M636.1 153.3L621.9 121.3M710.0 126.6L703.3 102.6M721.2 123.6L712.4 89.7M763.1 114.4L756.9 80.0M1040.9 186.4L1049.8 163.1M1035.9 211.3L1054.1 164.7M1045.3 198.9L1050.9 185.0M1059.3 193.9L1061.3 189.3M1066.3 196.9L1076.4 174.0M1131.8 261.8L1159.9 220.5M1157.5 280.6L1182.1 249.1M1196.1 314.2L1230.9 278.3M1202.4 320.5L1237.9 285.2M1205.4 323.5L1241.2 288.6M1224.2 321.5L1249.8 297.6M1225.9 345.8L1263.8 313.2M1240.4 339.7L1251.8 330.0M1255.6 358.7L1283.5 337.5M1260.1 390.6L1301.6 362.7M1265.9 399.5L1308.0 372.4M1335.4 482.5L1358.8 473.8M1327.7 541.5L1376.2 529.2M1331.9 559.4L1380.8 548.9M1350.4 576.1L1365.2 573.5M1318.7 810.1L1366.3 825.6M1329.4 825.4L1352.9 833.8M1335.9 836.9L1359.3 845.6M1308.1 839.3L1345.3 854.1M1292.4 874.4L1337.2 896.6M1298.4 895.6L1329.2 912.1M1299.3 914.5L1320.9 927.0M1286.1 917.2L1307.5 930.1M1237.9 983.8L1256.9 1000.0M1141.5 1052.0L1170.7 1092.6M1139.8 1071.5L1159.5 1100.4M1133.8 1087.4L1147.3 1108.4M1102.7 1077.1L1122.8 1111.7M1104.8 1093.2L1122.0 1123.6M1080.9 1089.0L1103.7 1133.5M1084.6 1115.1L1095.7 1137.5M1076.1 1119.2L1086.7 1141.9M1063.9 1113.8L1078.2 1145.8M1038.2 1124.5L1050.7 1157.2M1006.4 1119.7L1015.5 1148.3M976.2 1128.2L988.2 1176.8M970.3 1129.6L979.4 1168.6M940.9 1135.6L949.2 1184.9M752.3 1130.0L741.0 1178.7M734.5 1125.5L726.7 1154.5M726.1 1123.2L712.2 1171.2M677.7 1122.4L672.2 1136.4M648.7 1093.2L626.7 1138.1M642.5 1090.2L619.9 1134.7M637.9 1087.8L614.8 1132.1M597.5 1093.7L594.9 1097.9M576.1 1049.4L546.6 1089.7M553.0 1031.4L521.0 1069.8M469.2 941.6L436.7 965.0M438.8 941.5L418.0 955.4M442.8 900.6L399.5 925.6M405.5 883.8L383.1 894.9M422.9 862.1L377.5 883.0M393.5 857.4L379.7 863.3M399.3 845.4L376.1 854.7M395.1 785.5L346.9 798.5M385.9 744.1L356.4 749.3M372.1 568.6L337.7 562.2M388.7 562.4L339.7 552.2M389.7 557.3L340.9 546.6M395.3 534.7L366.3 526.8M403.4 507.6L365.5 494.9M403.3 465.7L380.3 455.9M470.7 376.9L430.3 347.5M489.5 329.7L478.3 319.7M488.3 316.1L477.3 305.9M552.2 289.9L526.6 259.1M556.4 286.4L524.9 247.6M580.1 268.3L551.0 227.7M587.0 245.4L573.3 224.5M646.4 200.8L635.9 178.1M653.2 197.6L643.0 174.8M660.6 194.4L654.7 180.6M683.5 185.2L674.8 161.8M694.9 181.2L686.7 157.5M952.9 246.5L963.8 197.7M967.3 249.9L977.4 211.2M988.1 255.9L1000.1 217.8M998.3 243.5L1003.0 229.2M1014.2 249.1L1026.5 216.3M1039.9 248.7L1041.9 244.1M1061.0 258.5L1072.2 236.1M1052.9 282.4L1075.6 237.9M1105.3 295.8L1119.2 275.1M1103.3 312.6L1131.9 271.6M1112.5 319.2L1142.2 279.0M1118.2 323.5L1148.5 283.8M1124.3 328.2L1155.3 289.1M1158.2 337.6L1181.9 311.8M1159.2 359.3L1187.4 330.9M1177.2 356.2L1202.5 332.0M1173.0 373.6L1202.4 346.5M1177.7 378.8L1215.1 345.7M1205.9 414.2L1246.6 385.2M1230.1 405.3L1250.7 391.1M1260.6 456.4L1282.9 445.1M1243.4 477.9L1288.5 456.4M1254.5 503.4L1301.0 484.9M1266.3 537.0L1314.1 522.4M1282.7 539.8L1316.4 530.2M1298.8 758.1L1323.2 763.5M1271.7 764.2L1320.2 776.4M1284.7 773.7L1318.5 782.7M1265.7 785.6L1313.4 800.3M1260.6 801.0L1307.7 817.6M1264.4 832.5L1278.2 838.4M1243.8 841.7L1289.0 863.1M1228.3 871.4L1271.7 896.2M1224.3 878.2L1267.2 903.9M1216.5 890.7L1258.5 917.9M1223.6 907.2L1236.0 915.7M1227.5 919.1L1239.8 927.7M1153.3 967.0L1181.0 996.0M1074.5 1055.1L1086.4 1077.1M1048.6 1040.4L1061.9 1067.2M1029.9 1049.0L1049.9 1094.9M1008.8 1073.5L1017.2 1097.1M969.6 1070.0L982.5 1118.4M748.9 1069.3L735.7 1117.6M698.8 1052.2L679.7 1098.4M631.8 1017.3L604.8 1059.4M627.7 1014.6L600.2 1056.4M590.2 1018.7L575.1 1038.7M575.2 973.8L555.0 996.0M554.9 989.1L537.9 1007.5M524.3 957.7L505.5 974.3M539.6 937.4L509.4 963.5M521.6 939.2L494.6 961.5M529.2 924.8L490.1 956.0M504.4 890.2L462.3 917.3M490.3 896.0L460.7 914.8M474.8 890.0L461.9 897.7M473.2 887.2L451.6 899.8M456.2 831.1L433.1 840.8M451.2 818.8L427.9 827.8M439.7 816.7L435.0 818.4M449.8 765.3L420.7 772.7M446.5 569.3L397.6 558.6M448.9 558.7L419.8 551.6M464.5 509.1L436.5 498.4M442.7 496.0L419.5 486.9M458.5 484.2L426.4 470.1M461.6 477.1L429.8 462.5M478.2 477.2L451.1 464.3M481.9 469.6L446.2 451.6M470.7 458.5L439.6 442.4M500.2 437.0L474.7 421.2M503.8 404.6L475.3 384.2M511.3 378.2L491.8 362.5M531.9 369.3L520.7 359.4M575.1 326.8L552.4 300.2M590.9 333.2L565.4 302.3M617.6 312.8L589.0 271.8M632.8 302.7L605.9 260.5M643.7 296.0L623.3 261.6M655.6 289.1L631.5 245.4M654.8 261.3L643.3 239.0M670.7 253.4L668.6 248.9M694.7 270.1L679.1 233.3M761.5 222.4L756.0 198.0M782.0 243.7L772.7 194.5" stroke="#fff" stroke-opacity=".93" stroke-width="1.94" stroke-dasharray="1.935 5.8" fill="none"/>
<path d="M1027.2 71.4L1036.7 37.7M1082.9 106.2L1094.1 78.4M1192.9 164.3L1209.6 139.4M1246.6 172.6L1255.9 160.8M1284.5 239.9L1320.0 204.7M1354.0 298.2L1382.2 277.5M1409.1 388.9L1431.5 377.8M1405.9 417.4L1442.5 401.1M1471.7 544.3L1496.3 539.6M1448.1 554.5L1497.4 545.6M1415.3 881.0L1461.8 899.5M1420.9 906.5L1452.9 920.6M1399.1 918.1L1444.2 939.7M1395.8 957.1L1426.4 974.1M1365.1 979.5L1398.9 1000.8M1210.4 1144.1L1239.7 1184.6M1195.8 1172.3L1204.1 1184.9M1158.9 1177.4L1183.9 1220.7M1109.5 1202.9L1130.3 1248.4M1045.5 1243.7L1050.1 1258.0M995.0 1267.6L996.1 1272.5M982.8 1244.7L993.0 1293.6M715.8 1239.5L708.6 1268.6M697.1 1234.5L686.2 1273.0M556.9 1203.1L554.5 1207.5M564.5 1178.7L544.6 1213.4M454.9 1118.5L431.7 1144.7M429.2 1108.4L411.8 1126.4M419.4 1062.5L397.3 1082.7M405.1 1069.0L393.9 1079.0M385.3 1061.6L366.2 1077.7M367.4 996.7L334.3 1019.2M328.0 929.9L301.2 943.5M321.8 917.4L276.6 938.9M319.1 911.6L273.7 932.6M253.9 797.4L229.5 802.9M280.2 520.6L231.6 508.9M289.0 487.9L250.8 476.3M279.0 439.9L274.3 438.1M316.8 379.6L303.5 372.7M405.0 274.5L366.9 242.2M546.5 123.4L533.9 101.8M1004.7 140.4L1015.4 101.9M1039.4 151.3L1055.9 104.1M1115.0 156.4L1117.3 151.9M1121.7 159.8L1133.3 137.7M1194.3 236.4L1225.3 197.1M1284.8 303.1L1311.5 280.6M1333.5 400.6L1377.3 376.5M1343.9 420.6L1388.7 398.4M1351.2 435.8L1396.6 415.0M1361.4 459.7L1389.2 448.5M1402.3 819.2L1426.2 826.3M1314.5 952.0L1348.1 973.6M1270.4 1011.2L1293.1 1030.7M1197.0 1082.1L1221.9 1113.3M1178.7 1126.7L1192.7 1147.3M1076.9 1154.5L1093.0 1191.2M1078.0 1181.2L1087.7 1204.3M960.1 1190.5L969.4 1239.7M671.4 1192.2L663.1 1215.7M547.4 1130.0L539.1 1142.4M552.2 1103.0L529.3 1135.8M473.5 1071.1L463.2 1082.0M372.6 944.1L368.3 946.6M382.6 910.4L338.3 933.6M377.5 900.4L332.7 922.7M330.4 854.2L307.0 862.8M313.5 799.4L289.3 805.5M322.6 489.3L298.8 481.8M356.3 468.6L309.6 450.8M367.8 440.7L322.1 420.4M374.7 425.8L338.7 408.4M392.5 344.8L371.8 330.8M440.5 321.8L401.6 290.4M495.1 230.1L485.4 218.7M527.5 204.6L512.8 184.4M553.6 216.7L525.1 175.6M771.7 128.2L763.5 78.8M1108.8 247.1L1134.6 204.3M1129.3 260.1L1157.2 218.6M1139.2 267.0L1168.1 226.2M1245.6 345.9L1257.2 336.5M1245.6 370.3L1285.6 340.3M1267.3 357.6L1271.3 354.6M1248.9 374.8L1289.2 345.2M1276.0 369.6L1288.3 361.0M1283.0 428.1L1318.1 408.9M1300.8 463.9L1346.4 443.5M1344.0 507.4L1367.8 499.9M1332.8 563.5L1381.8 553.4M1299.4 859.8L1344.9 880.5M1274.9 906.7L1317.8 932.2M1215.0 1008.8L1232.8 1026.3M1125.8 1062.8L1142.3 1087.9M1044.2 1122.1L1057.1 1154.7M745.7 1143.8L737.6 1177.9M745.4 1128.3L733.5 1176.9M677.4 1106.1L662.2 1143.1M666.2 1101.3L650.0 1137.9M663.4 1100.1L651.1 1127.5M635.0 1114.4L632.8 1118.8M585.8 1074.4L566.5 1103.6M585.5 1056.1L568.3 1080.7M563.6 1058.8L542.7 1086.9M478.8 954.5L439.2 985.0M453.6 945.5L424.9 965.6M443.2 930.2L430.6 938.3M438.4 892.8L394.6 916.9M374.0 802.7L369.2 804.1M386.8 510.1L353.5 499.6M399.5 449.4L385.9 443.2M430.5 411.3L400.2 393.8M433.3 406.5L403.2 388.7M449.0 409.4L406.4 383.4M462.4 388.8L421.0 360.6M474.6 371.6L450.6 353.6M479.0 365.9L439.4 335.3M461.6 347.5L449.8 338.2M537.4 302.8L517.2 280.5M523.1 282.0L519.7 278.3M546.8 294.5L527.2 271.7M552.6 257.5L537.5 237.7M573.6 242.4L570.8 238.2M610.4 230.9L592.8 200.6M665.9 219.4L649.8 182.8M687.2 210.6L669.2 163.9M968.8 234.8L977.4 200.9M1073.9 293.8L1099.0 250.6M1130.1 333.0L1149.2 309.8M1250.1 492.9L1296.1 473.1M1272.5 559.7L1321.1 547.8M1274.7 569.4L1304.0 563.0M1279.1 592.2L1328.4 584.1M1267.0 781.2L1314.9 795.4M1263.4 792.6L1310.9 808.2M1234.6 860.1L1278.7 883.7M1252.9 878.6L1274.8 890.8M1202.0 911.7L1242.3 941.4M1170.3 949.9L1199.5 977.2M1160.8 959.7L1189.1 987.9M1119.6 996.0L1150.2 1035.6M1091.5 1015.9L1107.8 1041.1M1085.1 1049.1L1087.6 1053.5M1040.8 1044.1L1062.0 1089.4M1021.9 1052.4L1040.9 1098.7M1023.5 1068.0L1036.5 1100.5M1014.8 1055.2L1033.0 1101.8M973.9 1068.9L987.3 1117.1M622.1 1010.9L594.0 1052.2M601.1 995.6L570.5 1035.2M584.0 981.6L551.3 1019.5M457.9 858.9L435.5 870.0M473.4 833.2L427.8 853.6M462.3 805.7L415.3 822.9M445.4 746.1L406.2 754.2M447.7 564.0L399.0 552.7M436.4 547.2L402.6 538.2M458.5 525.7L430.1 516.1M446.1 515.7L413.0 504.2M453.9 494.9L430.8 485.5M558.6 362.7L523.0 327.6M596.1 328.9L571.1 297.7M612.8 316.3L595.2 291.9M719.0 260.6L702.3 213.5" stroke="#fff" stroke-opacity=".93" stroke-width="1.94" stroke-dasharray="1.935 3.87" fill="none"/>
<path d="M1037.7 90.2L1052.5 42.4M1068.9 100.8L1079.3 72.7M1079.5 104.9L1094.2 67.7M1109.8 117.8L1122.4 90.5M1176.8 153.9L1203.2 111.5M1187.2 160.6L1214.6 118.7M1210.1 176.3L1239.4 135.8M1231.1 173.2L1252.3 145.3M1254.7 192.1L1277.2 165.3M1286.9 221.2L1304.3 203.2M1301.7 258.0L1331.2 231.0M1308.6 265.7L1346.1 232.6M1337.8 277.1L1365.1 255.2M1338.3 302.3L1378.3 272.3M1353.3 323.2L1386.3 300.6M1361.5 335.5L1403.5 308.3M1377.1 360.9L1420.4 335.9M1394.6 361.3L1407.7 354.0M1401.1 406.9L1446.4 385.6M1422.3 458.1L1469.4 441.2M1470.9 540.0L1475.8 539.0M1463.0 815.2L1487.2 821.5M1410.1 893.7L1456.1 913.2M1387.4 941.1L1431.5 964.6M1374.4 964.3L1417.4 989.8M1358.9 989.1L1400.7 1016.6M1334.1 1023.9L1373.8 1054.3M1330.6 1028.4L1369.9 1059.3M1292.6 1107.8L1303.1 1118.6M1245.3 1116.8L1271.1 1147.4M1234.8 1125.4L1259.9 1156.6M1199.7 1169.8L1213.5 1190.6M1141.9 1186.9L1160.8 1222.1M1125.4 1212.0L1131.9 1225.6M1081.2 1215.1L1099.6 1261.5M1084.1 1240.8L1093.1 1264.1M977.1 1245.8L986.8 1294.9M636.6 1240.6L627.6 1263.9M640.0 1215.1L625.2 1252.2M593.4 1194.1L571.0 1238.9M490.5 1128.7L459.5 1167.9M471.6 1132.8L455.7 1152.1M407.7 1086.6L404.0 1090.0M413.4 1055.8L383.5 1082.3M399.1 1039.0L360.4 1070.7M397.1 1036.6L373.8 1055.5M369.8 1000.2L336.9 1022.9M364.0 991.7L322.4 1019.4M332.5 938.7L306.0 952.7M285.7 897.8L262.6 907.3M280.1 799.8L231.5 811.5M272.1 760.9L232.7 767.7M283.0 509.3L244.3 499.2M290.5 483.0L252.3 471.1M292.8 475.9L245.3 460.4M295.6 467.5L248.3 451.3M304.4 443.4L257.8 425.2M337.2 373.2L293.3 349.1M343.4 362.1L300.1 337.2M339.2 321.1L318.3 307.5M376.2 311.3L335.7 282.1M422.4 254.8L393.0 227.7M409.0 232.5L405.4 229.1M430.5 246.3L401.6 218.6M436.7 218.9L412.4 193.7M465.1 213.1L432.0 175.6M506.6 179.5L477.0 139.3M517.4 141.5L509.2 129.0M540.4 156.5L518.9 122.7M543.3 125.3L530.5 103.8M576.5 135.2L557.5 100.1M584.9 130.8L561.8 86.4M587.9 129.2L565.1 84.7M620.7 97.3L614.8 83.5M678.0 91.9L668.8 63.3M683.9 90.1L669.1 42.3M722.8 79.4L711.2 30.8M1028.6 121.4L1036.0 97.5M1028.3 147.5L1043.8 100.0M1052.1 139.9L1060.8 116.5M1077.5 166.3L1097.6 120.5M1093.4 146.1L1095.5 141.5M1120.0 187.3L1144.1 143.4M1143.1 200.7L1158.8 175.1M1239.0 241.4L1255.8 222.9M1245.4 282.1L1281.0 247.1M1266.0 304.3L1303.6 271.4M1288.6 331.9L1320.4 307.6M1306.8 331.1L1318.9 322.2M1302.7 351.1L1343.7 322.5M1305.1 354.6L1329.8 337.6M1330.4 347.4L1351.2 333.5M1314.7 369.0L1356.8 342.0M1347.9 375.4L1369.5 362.8M1341.6 384.4L1363.3 372.0M1371.2 486.2L1409.1 473.3M1387.2 543.0L1416.5 536.5M1405.1 555.3L1419.8 552.5M1416.8 563.7L1441.4 559.4M1409.9 790.4L1434.2 796.1M1396.8 801.5L1411.3 805.3M1372.2 874.1L1404.5 887.6M1348.8 889.9L1394.0 911.2M1360.8 921.9L1383.0 933.5M1344.2 951.5L1357.1 959.2M1304.4 967.1L1345.5 995.5M1316.3 993.5L1328.4 1002.4M1249.2 1034.5L1278.0 1062.3M1262.8 1056.4L1280.6 1073.9M1234.8 1048.9L1255.6 1070.5M1231.4 1086.0L1247.8 1104.8M1202.3 1077.8L1221.3 1101.0M1192.0 1086.0L1216.6 1117.6M1171.2 1101.4L1188.5 1126.0M1118.0 1134.4L1141.8 1178.4M1116.2 1163.6L1123.0 1177.0M1068.1 1174.5L1081.2 1207.0M1053.5 1180.2L1065.6 1213.0M1020.3 1175.6L1029.2 1204.3M972.9 1203.3L980.0 1237.6M729.5 1183.6L722.3 1212.7M699.3 1201.3L697.9 1206.1M696.9 1174.4L687.8 1203.0M686.4 1170.9L673.5 1208.8M659.3 1177.0L650.2 1200.3M652.3 1174.2L642.9 1197.4M560.6 1126.6L552.4 1139.2M513.7 1073.5L488.0 1104.1M428.4 983.2L396.3 1007.1M425.8 979.7L385.5 1009.3M378.7 954.2L365.8 962.0M366.8 933.9L345.0 946.0M340.4 879.4L317.3 889.1M339.1 798.4L290.8 811.2M318.7 778.0L284.5 785.4M322.2 527.6L288.2 519.3M344.4 503.6L296.5 489.1M382.0 411.3L355.4 397.4M364.8 390.5L342.8 378.5M389.8 396.8L363.6 382.2M394.9 387.9L351.8 362.7M389.2 368.4L359.4 350.0M455.2 304.4L417.6 271.4M481.7 276.3L453.6 247.8M510.3 217.7L494.8 198.1M525.3 218.7L504.1 190.8M551.3 188.1L543.1 175.5M578.1 200.7L551.9 158.1M589.1 194.1L569.0 159.5M583.6 168.4L576.2 155.4M610.6 182.2L587.4 137.9M603.6 157.7L592.2 135.5M628.2 173.4L606.6 128.3M635.1 170.2L614.3 124.7M676.9 153.0L663.3 115.4M702.8 144.4L688.1 96.6M984.1 194.4L991.8 165.4M1086.2 234.4L1109.6 190.2M1102.9 215.0L1105.3 210.6M1111.5 219.7L1123.9 198.0M1114.2 221.3L1126.8 199.7M1125.6 257.7L1153.0 215.9M1175.5 262.9L1191.0 243.3M1183.7 269.6L1199.6 250.3M1173.5 293.7L1199.5 263.3M1194.2 291.9L1217.7 266.0M1189.2 307.7L1216.5 278.4M1221.7 318.8L1239.9 301.7M1232.1 353.2L1270.7 321.4M1251.3 353.1L1278.8 331.4M1258.6 388.4L1299.9 360.2M1283.7 381.0L1304.6 367.2M1268.5 403.5L1310.8 376.9M1302.1 411.0L1323.8 398.7M1288.4 438.3L1332.8 415.3M1321.7 519.9L1350.4 511.2M1331.4 763.4L1370.5 772.0M1330.6 767.4L1359.8 774.1M1328.4 776.6L1367.2 786.2M1340.7 788.8L1374.5 797.8M1338.1 798.1L1371.7 807.8M1309.3 836.4L1355.8 854.6M1316.1 859.1L1339.0 869.1M1316.6 882.0L1339.1 892.9M1288.2 932.8L1309.2 946.2M1262.3 926.7L1287.3 943.3M1260.5 929.3L1302.0 957.2M1249.5 945.0L1289.9 974.5M1220.7 980.7L1243.1 1000.7M1214.2 987.8L1250.9 1021.8M1210.8 991.5L1247.2 1025.8M1171.6 1047.9L1193.6 1075.2M1157.3 1040.1L1175.8 1063.8M1160.2 1056.9L1169.2 1068.8M1122.6 1064.9L1149.8 1106.8M1090.7 1083.8L1114.6 1127.8M1035.3 1136.2L1037.1 1140.9M1012.4 1117.8L1028.1 1165.2M985.0 1126.0L997.9 1174.3M705.8 1143.1L701.2 1157.4M691.3 1111.6L673.8 1158.4M666.7 1117.9L653.0 1150.1M625.6 1098.2L609.0 1129.1M533.2 1047.4L517.0 1066.5M534.8 1035.6L525.0 1047.0M520.4 1036.2L503.6 1054.7M529.7 1010.8L502.3 1039.9M513.0 994.2L476.9 1028.8M504.8 985.5L467.9 1019.2M434.7 886.1L390.6 909.5M396.2 837.4L363.5 849.8M373.2 800.1L349.2 807.0M391.7 771.7L362.5 778.7M365.2 768.3L350.6 771.5M384.7 736.9L345.2 743.3M411.6 447.2L380.0 432.1M411.7 424.6L407.3 422.3M416.5 415.8L394.5 403.7M467.8 380.9L435.3 357.7M527.1 278.5L510.6 259.6M551.5 271.1L529.8 243.7M570.2 275.6L540.1 235.7M574.6 253.8L560.3 233.4M597.2 238.8L583.9 217.6M648.0 227.7L626.0 182.8M713.1 201.4L703.9 172.9M715.8 184.9L708.5 161.0M734.9 179.5L726.0 145.6M751.7 165.1L750.6 160.2M964.7 223.5L970.5 199.2M1001.9 260.5L1018.6 213.4M1017.7 250.4L1030.2 217.7M1025.0 253.2L1038.1 220.8M1049.4 264.0L1055.9 250.4M1089.6 303.5L1116.6 261.4M1107.6 315.7L1136.8 275.1M1141.8 343.0L1175.0 305.6M1153.6 353.8L1181.2 324.9M1202.0 384.3L1213.7 374.9M1195.1 399.7L1226.6 375.2M1201.8 408.6L1242.1 379.0M1213.4 425.1L1246.6 402.9M1229.8 451.8L1273.4 427.3M1263.8 529.2L1301.9 516.8M1284.5 546.0L1318.2 536.9M1277.7 584.0L1317.0 576.9M1293.6 779.1L1298.4 780.5M1268.4 776.2L1306.9 787.2M1252.8 821.4L1299.0 840.5M1262.0 838.1L1294.0 852.3M1245.3 871.7L1276.0 888.6M1219.7 885.7L1253.6 907.0M1199.7 914.9L1223.7 932.9M1206.2 930.9L1225.9 946.4M1182.3 936.5L1205.0 956.1M1178.0 941.4L1215.5 974.5M1160.8 980.6L1184.7 1006.2M1146.2 973.7L1179.9 1010.6M1134.8 983.7L1167.2 1021.8M1108.7 1004.2L1137.9 1044.7M1105.8 1006.2L1134.7 1047.0M1094.8 1013.7L1122.5 1055.4M1091.0 1045.7L1103.8 1067.2M1033.1 1047.6L1045.3 1075.0M1009.3 1057.4L1026.9 1104.2M1004.9 1085.5L1012.9 1109.2M984.8 1065.7L996.5 1104.0M981.5 1082.3L985.7 1096.7M941.4 1076.5L951.0 1125.6M734.9 1065.2L723.0 1103.4M702.2 1053.6L683.5 1100.0M688.8 1064.3L675.1 1096.5M686.2 1063.2L672.3 1095.3M680.8 1044.3L659.6 1089.6M541.1 939.1L503.5 971.9M538.1 935.5L515.3 955.0M507.1 920.6L495.0 929.5M470.0 881.7L448.2 894.1M457.4 791.4L419.3 803.8M455.8 786.5L417.6 798.4M438.1 779.4L404.4 788.9M451.6 771.9L413.0 782.5M443.4 736.1L413.9 741.4M428.5 538.2L423.7 536.9M455.6 534.7L407.9 519.9M462.8 513.6L415.9 496.3M460.1 480.5L437.3 470.3M516.1 388.3L496.4 372.8M521.0 382.1L501.6 366.3M534.1 389.7L495.6 357.8M540.5 382.2L517.9 362.6M548.7 373.1L519.2 346.0M544.6 341.3L527.0 323.6M572.6 349.1L552.3 327.1M562.2 324.8L545.6 306.1M583.7 319.6L561.6 292.5M607.9 319.8L578.1 279.7M653.4 273.3L636.9 242.4M674.6 279.3L652.7 234.3M691.5 271.5L675.6 234.8M705.5 265.7L687.2 219.1M711.0 263.6L700.4 235.5M725.9 258.3L713.2 220.3M733.1 255.9L724.1 227.3M737.8 254.5L723.3 206.6M755.4 249.6L743.0 201.1M763.5 247.6L752.1 198.9" stroke="#fff" stroke-opacity=".93" stroke-width="1.94" stroke-dasharray="1.935 1.94" fill="none"/>
<path d="M1481.5 623.3L1486.5 623.0M1457.0 687.7L1496.9 689.6M909.9 1255.3L914.0 1305.1M739.5 1244.9L731.4 1284.1M778.1 69.0L771.2 19.5M739.3 1186.0L728.1 1234.7M334.8 539.7L286.0 528.5M814.8 122.7L810.6 72.9M970.1 190.9L981.5 142.2M1356.6 628.9L1381.6 627.3M758.2 1146.6L751.0 1180.9M363.6 655.8L338.6 655.6M380.2 621.6L340.3 618.4M1275.4 748.1L1324.3 758.5M882.4 1098.8L883.2 1113.7M825.1 1107.9L823.1 1132.8M788.0 1078.0L781.2 1117.5M421.7 670.8L396.7 671.4M417.1 590.4L412.1 589.7" stroke="#fff" stroke-opacity=".93" stroke-width="1.94" stroke-dasharray="1.935 13.54" fill="none"/>
<path d="M809.6 14.8L809.6 25.0M810.7 46.3L810.7 63.8M814.2 13.9L814.2 25.9M814.2 39.8L814.2 53.7M818.9 13.9L818.9 25.0M819.8 39.8L819.8 48.1M829.0 13.9L829.0 25.0M830.0 39.8L830.0 63.8M854.0 38.9L854.0 62.9M803.7 13.0L808.1 64.8M813.3 72.2L813.3 96.2M816.1 72.2L816.1 87.0M818.9 85.1L818.9 118.4M822.6 72.2L822.6 83.3M824.4 96.2L824.4 107.3M834.6 87.0L834.6 118.4M854.0 70.3L854.0 119.9M838.8 128.6L838.8 153.6M840.3 153.6L840.3 179.5M844.8 128.6L844.8 153.6M846.6 153.6L846.6 179.5M822.6 186.9L822.6 199.9M825.9 200.8L825.9 212.8M827.7 222.1L827.7 235.9M1334.9 743.5L1385.1 752.3M932.4 1194.5L939.2 1245.0M564.2 210.1L536.2 167.5" stroke="#ffccbb" stroke-width="1.75" stroke-opacity=".88" fill="none"/>
<path d="M824.4 13.9L824.4 37.0M826.3 48.1L826.3 63.8M847.7 128.6L847.7 153.6M849.6 153.6L849.6 179.5M834.6 200.8L834.6 210.0M836.4 227.6L836.4 235.9" stroke="#ffe0a8" stroke-width="1.75" stroke-opacity=".88" fill="none"/>
<path d="M834.6 11.1L834.6 64.8M837.4 11.1L837.4 38.9M840.1 11.1L840.1 64.8M838.1 70.3L838.1 122.1M841.1 70.3L841.1 96.2M844.0 70.3L844.0 96.2M842.9 185.1L842.9 211.0" stroke="#9999ff" stroke-width="1.75" stroke-opacity=".88" fill="none"/>
<path d="M842.4 11.1L842.4 38.9M890.5 13.9L890.5 25.0M900.3 13.9L900.3 25.0M888.3 37.9L888.3 49.0M897.9 37.9L897.9 49.0M913.6 14.8L909.5 63.8M896.2 71.2L896.2 82.3M894.7 96.2L894.7 105.5M884.6 108.3L884.6 119.4M884.6 129.5L884.6 153.6M882.7 153.6L882.7 178.6M892.5 129.5L892.5 142.5M890.7 154.5L890.7 164.7M386.1 742.0L335.8 750.6M272.6 760.7L222.3 769.3M264.5 638.1L213.5 636.2M322.0 639.7L271.0 637.7" stroke="#ccccff" stroke-width="1.75" stroke-opacity=".88" fill="none"/>
<path d="M846.6 11.1L846.6 38.9M886.4 84.2L886.4 94.4M916.9 82.3L916.9 86.0M916.0 98.1L916.0 107.3M913.6 112.9L913.6 122.1M855.9 153.6L855.9 179.5M850.3 186.9L850.3 211.0M905.8 198.0L905.8 201.7M903.6 212.8L903.6 223.9M902.1 228.5L902.1 237.8M1408.7 424.9L1455.5 404.7M1332.0 758.2L1382.0 768.6M1087.9 1211.8L1107.3 1259.0M830.0 1082.7L826.3 1133.6M844.1 1199.0L842.5 1250.0M893.8 1213.8L894.4 1223.8M478.7 953.5L438.2 984.6M427.5 687.6L415.0 688.3M382.2 715.0L331.5 720.8M395.7 785.8L346.5 799.1M366.8 444.2L320.1 423.7M352.0 481.9L303.8 465.0M381.0 617.3L330.2 612.8M471.9 492.3L425.0 472.1M449.8 557.4L417.8 549.4M272.0 563.4L221.7 555.1M362.2 332.6L319.6 304.6M450.4 408.2L406.9 381.5M575.9 346.7L541.7 309.0M669.2 190.8L659.5 167.2" stroke="#99ffff" stroke-width="1.75" stroke-opacity=".88" fill="none"/>
<path d="M958.0 25.9L957.3 30.5M956.2 37.9L955.4 44.4M954.3 49.6L953.2 57.7M952.5 61.1L951.4 68.8M979.9 22.2L968.8 73.1M949.3 76.8L941.0 127.7M966.9 80.5L963.2 103.6M961.0 109.2L958.8 123.1M941.9 135.1L934.5 183.2M963.2 139.7L954.0 185.1M1015.0 153.6L1003.9 199.9M1028.0 159.1L1015.0 205.4M930.8 198.0L924.3 238.7M946.5 194.3L941.0 216.5M1010.4 211.0L994.7 255.4M1094.8 111.7L1114.8 64.8M1038.2 151.4L1055.0 103.2M1042.9 153.0L1060.1 105.1M1132.8 195.1L1158.6 151.1M1142.5 200.9L1169.2 157.4M1013.9 203.9L1030.1 155.5M1110.5 248.7L1137.0 205.1M1079.7 297.9L1106.1 254.2M1343.1 420.1L1388.8 397.3M1357.6 451.8L1404.7 432.0M1283.1 429.3L1327.8 404.9" stroke="#99ffff" stroke-width="1.75" stroke-opacity=".88" fill="none"/>
<path d="M790.2 73.1L797.0 122.1M804.1 187.8L809.6 236.9" stroke="#ffffff" stroke-width="1.95" stroke-opacity="1" fill="none"/>
<path d="M838.5 70.3L838.5 122.1" stroke="#9999ff" stroke-width="3.6" stroke-opacity=".88" fill="none"/>
<path d="M955.8 78.6L947.5 127.7M946.5 136.0L939.1 184.1M936.9 192.5L928.0 240.6M1081.0 232.2L1104.3 186.8" stroke="#99ffbb" stroke-width="1.75" stroke-opacity=".88" fill="none"/>
<path d="M1014.1 90.7L1002.1 136.9M1034.3 150.1L1050.7 101.8M889.4 1140.9L889.7 1146.4" stroke="#99ffbb" stroke-width="2.6" stroke-opacity=".88" fill="none"/>
<path d="M1028.0 111.0L1020.6 142.5M1331.2 293.7L1371.4 262.4" stroke="#ffccbb" stroke-width="1.75" stroke-opacity=".88" fill="none"/>
<path d="M1036.9 103.6L1026.5 145.3" stroke="#ffffff" stroke-width="3.9" stroke-opacity="1" fill="none"/>
<path d="M905.8 129.5L901.2 178.6" stroke="#99ccff" stroke-width="1.75" stroke-opacity=".88" fill="none"/>
<path d="M842.9 185.1L842.9 211.0" stroke="#9999ff" stroke-width="3.6" stroke-opacity=".88" fill="none"/>
<path d="M926.2 190.6L920.6 238.7" stroke="#e8e8ff" stroke-width="1.75" stroke-opacity=".88" fill="none"/>
<path d="M985.4 203.6L974.3 240.6M1000.2 208.2L987.3 248.0M1171.7 266.3L1190.6 242.4M1258.4 296.6L1296.1 262.2M1283.9 326.6L1323.9 295.0M1185.7 388.9L1224.9 356.2M1200.8 375.0L1224.1 355.4M1222.6 440.6L1266.2 414.1M1399.4 509.6L1428.8 501.4M1415.5 556.9L1440.6 552.2M1409.8 583.8L1445.0 578.9M1335.8 582.5L1365.9 577.5M1367.5 648.6L1393.0 648.0M1268.4 546.1L1317.5 532.4M1277.0 583.2L1327.2 573.9M1284.0 653.4L1309.5 653.0M1405.0 904.2L1451.5 925.0M1410.1 734.6L1445.3 739.3M1419.6 738.8L1444.9 742.4M1386.1 780.2L1420.7 788.0M1332.5 920.8L1377.1 945.4M1313.2 824.5L1346.6 836.6M1295.4 867.1L1341.5 889.0M1293.5 871.2L1339.3 893.5M1277.3 901.6L1321.4 927.1M1265.1 921.5L1308.0 949.1M1280.5 715.5L1331.1 722.1M1290.4 720.6L1320.1 724.8M1272.3 759.7L1321.9 771.6M1247.3 832.9L1275.2 845.4M1244.7 838.8L1267.8 849.5M1300.7 1062.9L1338.4 1097.3M1244.4 1038.7L1280.7 1074.5M1258.7 931.2L1300.8 959.9M1185.2 1015.9L1219.6 1053.6M1182.3 1018.6L1199.3 1037.6M1217.9 1063.8L1251.7 1102.0M1223.5 1058.8L1257.8 1096.6M1158.9 960.9L1194.8 997.1M1064.7 1031.3L1089.3 1076.0M1095.2 1104.1L1109.5 1131.1M1115.9 1068.6L1142.9 1111.8M1022.5 1174.4L1037.8 1223.0M1054.3 1163.3L1072.7 1210.9M1074.7 1155.0L1095.0 1201.8M1087.2 1149.4L1108.6 1195.6M1108.7 1138.8L1132.2 1184.1M1144.7 1118.4L1171.5 1161.7M929.7 1078.1L938.0 1128.4M819.7 1140.1L815.4 1190.9M841.7 1141.4L839.7 1192.4M920.8 1138.0L927.2 1188.6M774.9 1250.6L767.6 1301.1M662.4 1057.6L648.8 1084.9M698.9 1051.7L679.5 1098.9M603.4 1067.3L587.1 1093.1M618.6 1076.5L592.9 1120.6M717.7 1120.1L702.5 1168.8M731.1 1124.1L717.4 1173.2M540.5 1094.0L510.2 1135.0M583.1 1122.4L556.8 1166.1M650.2 1167.9L634.7 1205.3M708.1 1177.3L693.7 1226.2M593.5 1210.9L578.0 1242.9M632.0 1211.3L612.4 1258.4M658.9 1221.6L641.6 1269.6M476.5 1038.4L440.1 1074.2M370.7 1000.6L328.8 1029.7M421.3 972.6L379.8 1002.2M437.1 993.7L397.0 1025.2M454.4 918.9L411.4 946.3M486.3 963.2L446.7 995.3M500.4 979.8L462.3 1013.7M506.8 1066.9L473.3 1105.4M550.2 948.4L512.8 983.1M321.6 655.8L270.6 655.3M400.1 690.1L387.1 690.9M438.7 697.4L387.9 701.9M428.4 737.3L398.9 742.6M419.3 743.0L394.2 747.7M328.5 746.2L278.1 754.3M330.1 755.6L279.9 764.6M451.5 769.7L402.2 782.9M339.6 798.6L310.2 806.4M463.4 807.2L415.6 824.9M410.1 830.2L362.3 848.2M415.5 844.1L368.4 863.5M355.5 848.5L307.7 866.3M301.7 868.6L253.9 886.4M434.2 884.0L389.1 907.7M344.2 506.0L295.3 491.4M407.0 498.8L358.9 481.7M384.5 588.3L354.4 583.7M411.7 649.7L386.2 649.1M437.2 652.6L411.7 652.1M294.8 471.3L280.1 466.4M417.8 260.7L379.9 226.5M459.2 219.1L442.0 200.2M514.9 246.7L482.2 207.6M435.2 329.3L395.0 297.9M504.6 336.1L466.9 301.7M484.5 359.7L444.6 327.9M670.2 95.0L653.9 46.7M619.9 114.5L599.3 67.8M759.9 130.8L750.4 80.7M688.3 149.6L672.1 101.2M528.0 236.1L496.5 196.0M632.9 236.1L608.7 191.1M610.3 249.0L583.8 205.4M725.8 258.8L709.5 210.5" stroke="#99ffff" stroke-width="1.75" stroke-opacity=".88" fill="none"/>
<path d="M1018.7 214.7L1007.6 259.1M1060.6 98.3L1077.6 50.3" stroke="#ffffff" stroke-width="1.95" stroke-opacity="1" fill="none"/>
<path d="M830.0 244.3L830.0 260.0M852.5 244.3L852.5 260.0M1389.5 764.3L1439.5 774.2M1340.9 694.1L1391.8 697.6M834.1 1156.6L832.2 1192.0M894.5 1236.3L895.3 1249.3M438.2 1081.5L402.1 1117.5M458.0 924.4L415.3 952.3M512.7 993.1L475.8 1028.4M423.9 457.5L377.6 436.0M450.4 310.7L411.6 277.6M634.3 171.1L612.9 124.8" stroke="#99ffbb" stroke-width="1.75" stroke-opacity=".88" fill="none"/>
<path d="M1107.6 117.3L1128.7 70.9M1053.8 157.1L1072.1 109.5M1062.2 276.0L1076.2 249.4M1347.6 429.4L1393.7 407.5M1344.0 524.9L1373.4 516.7M1331.3 559.0L1381.2 548.3M1333.6 570.3L1383.7 560.7M1267.0 1097.0L1301.7 1134.3M682.0 91.2L666.8 42.5M759.4 189.5L748.7 139.7" stroke="#99ffff" stroke-width="1.5" stroke-opacity=".88" fill="none"/>
<path d="M1160.6 144.7L1186.3 100.7M1212.3 251.8L1245.5 213.2M1104.2 245.0L1130.0 201.0M1276.0 1003.8L1315.3 1036.3M994.4 1182.4L1007.0 1231.8M545.7 1116.7L525.6 1146.0" stroke="#99ffbb" stroke-width="1.5" stroke-opacity=".88" fill="none"/>
<path d="M1239.5 199.6L1271.9 160.2M1308.1 838.0L1341.1 851.1M1345.7 895.2L1391.6 917.5M1194.6 952.9L1217.5 973.0M996.8 1061.3L1003.4 1080.7M1098.7 1010.5L1110.2 1027.5M1033.7 1109.6L1052.0 1157.2M1144.4 1049.3L1174.4 1090.5M1042.6 1167.6L1052.9 1196.3M1184.2 1161.4L1211.8 1204.3M908.1 1106.8L910.8 1132.1M948.0 1100.7L953.0 1125.7M968.9 1069.7L981.9 1119.0M852.8 1141.7L852.4 1167.2M897.1 1140.4L900.9 1191.3M926.1 1137.3L933.1 1187.8M983.6 1125.8L996.6 1175.1M919.6 1221.7L922.2 1247.1M942.3 1193.1L950.0 1243.5M974.9 1187.0L985.7 1236.9M925.5 1278.9L928.1 1304.3M954.6 1249.3L962.6 1299.7M648.2 1092.4L625.7 1138.2M444.3 1087.5L408.7 1124.0M512.9 902.1L471.1 931.2M539.2 1032.8L516.3 1059.3M274.3 770.0L224.2 779.4M402.3 376.6L358.9 349.7M515.3 415.1L473.7 385.6M729.9 78.3L718.8 28.5M521.9 169.3L492.9 127.3M644.5 166.5L624.0 119.8M720.4 199.6L705.6 150.9M587.4 263.8L558.5 221.8M563.3 281.5L531.8 241.4M765.5 226.6L759.0 196.8" stroke="#99ffff" stroke-width="1.5" stroke-opacity=".88" fill="none"/>
<path d="M1064.0 161.2L1083.3 113.9M1356.2 448.3L1403.0 428.2M1305.8 477.0L1353.0 457.6M996.6 1061.4L1013.0 1109.7M402.6 511.8L354.1 496.1M381.0 617.8L355.6 615.5M658.6 160.6L639.5 113.3M661.5 286.5L637.5 241.5" stroke="#ffffff" stroke-width="1.5" stroke-opacity="1" fill="none"/>
<path d="M1083.7 169.7L1104.8 123.2M1085.4 234.5L1109.2 189.4" stroke="#99ffff" stroke-width="1.3" stroke-opacity=".88" fill="none"/>
<path d="M1106.7 180.8L1130.0 135.4M1148.7 169.0L1159.1 151.4M1287.6 331.3L1328.0 300.2M1370.3 485.0L1418.5 468.5M1352.7 880.3L1399.2 901.1M1333.8 749.5L1383.9 759.0M1333.0 753.4L1383.0 763.3M1338.6 1042.5L1366.3 1064.7M1319.9 942.4L1363.4 969.1M1306.8 962.7L1349.0 991.3M1232.8 965.8L1272.2 998.1M1181.7 1093.2L1212.1 1134.2M998.8 1197.3L1007.7 1231.7M575.3 1073.4L558.0 1098.5M545.9 1116.8L525.7 1146.1M521.1 1150.8L509.4 1167.6M486.7 963.7L447.1 995.9M506.2 892.1L463.5 920.1M537.9 972.5L519.6 990.3M506.4 892.4L489.2 903.7M409.0 493.4L361.1 475.7M372.0 432.8L342.0 418.9M444.9 417.3L400.9 391.6M407.3 272.5L368.6 239.4M523.0 372.0L499.8 352.1M650.7 209.8L635.8 177.6M832.4 295.9L828.5 245.0M853.7 294.9L852.8 243.9" stroke="#99ffbb" stroke-width="1.75" stroke-opacity=".88" fill="none"/>
<path d="M1223.0 229.4L1211.4 244.0M1419.0 624.8L1436.4 623.6M836.7 1141.2L835.0 1174.2" stroke="#ffffff" stroke-width="3.9" stroke-opacity="1" fill="none"/>
<path d="M1231.7 269.4L1266.8 232.4M1241.5 279.0L1277.6 242.9M1200.9 319.6L1236.9 283.6M1204.9 323.7L1241.4 288.1M1346.7 763.7L1381.5 771.1M1013.6 1133.2L1024.5 1166.9M1022.2 1135.6L1032.0 1164.5M1063.4 1097.0L1084.9 1143.3M1073.7 1109.3L1088.9 1141.4M1122.5 1076.8L1138.5 1102.2M1176.3 1110.1L1196.4 1138.7M1211.4 1142.8L1241.4 1184.0M796.7 1104.7L793.1 1130.0M799.4 1110.2L796.7 1130.5M799.6 1090.0L797.5 1104.8M947.3 1085.6L950.3 1100.3M887.0 1166.6L888.4 1192.1M1006.2 1119.2L1021.7 1167.9M1015.6 1116.2L1032.0 1164.5M770.9 1133.4L761.4 1183.5M791.9 1136.9L787.5 1167.1M955.3 1190.9L964.3 1241.1M777.8 1276.8L774.4 1302.0M997.0 1256.9L1004.9 1291.5M733.4 1064.3L718.1 1112.9M693.0 1144.1L686.3 1163.5M330.8 759.5L280.7 768.8M391.7 394.5L347.3 369.3M741.9 134.5L730.7 84.8M554.6 216.6L525.6 174.6M761.5 227.5L754.7 197.8M620.5 311.4L591.6 269.4" stroke="#99ffff" stroke-width="1.5" stroke-opacity=".88" fill="none"/>
<path d="M1242.0 279.4L1278.1 243.4M1277.5 1001.9L1316.9 1034.3M419.7 1004.7L395.6 1023.5M469.1 940.6L427.7 970.3M353.5 477.6L305.5 460.3" stroke="#ffccbb" stroke-width="1.5" stroke-opacity=".88" fill="none"/>
<path d="M1097.5 241.1L1122.6 196.7M919.2 1100.4L921.8 1120.2M918.0 1085.4L920.0 1100.3M934.6 1194.2L938.1 1219.5M474.0 947.4L433.1 977.8" stroke="#ffccbb" stroke-width="1.5" stroke-opacity=".88" fill="none"/>
<path d="M1172.6 293.6L1205.7 254.8" stroke="#ccff99" stroke-width="2.6" stroke-opacity=".88" fill="none"/>
<path d="M1200.9 319.6L1236.9 283.6" stroke="#ffccbb" stroke-width="1.4" stroke-opacity=".88" fill="none"/>
<path d="M1069.8 292.1L1095.0 247.7" stroke="#ffccbb" stroke-width="1.2" stroke-opacity=".88" fill="none"/>
<path d="M1321.3 281.4L1360.7 249.0M1187.5 929.5L1226.9 961.9" stroke="#ffccbb" stroke-width="1.5" stroke-opacity=".88" fill="none"/>
<path d="M1337.1 276.3L1364.8 254.0M1230.1 351.5L1269.2 318.8M1365.3 730.4L1372.7 731.4M1352.8 729.0L1360.3 730.1M1343.0 727.0L1345.5 727.4" stroke="#99ffff" stroke-width="3.6" stroke-opacity=".88" fill="none"/>
<path d="M1334.1 297.5L1374.6 266.5M1398.5 625.6L1413.9 624.6M1399.3 677.6L1424.8 678.4M1366.3 623.6L1378.7 622.7M1308.7 631.3L1321.1 630.5M1224.9 975.1L1244.2 991.8M821.0 1197.8L817.2 1248.7M840.0 1282.0L839.1 1307.4M620.7 1142.9L597.9 1188.6M347.1 496.4L298.5 480.9" stroke="#ffffff" stroke-width="2.9" stroke-opacity="1" fill="none"/>
<path d="M1341.6 307.5L1382.7 277.3M846.2 1109.1L845.4 1134.6" stroke="#e8e8ff" stroke-width="1.75" stroke-opacity=".88" fill="none"/>
<path d="M1272.2 312.3L1311.2 279.4M1237.6 360.8L1277.5 329.0M1304.1 472.7L1351.0 452.8M1399.3 679.5L1450.2 681.3M1283.7 642.1L1334.7 639.9M1279.0 898.5L1323.4 923.7M700.8 1175.1L685.7 1223.8M443.2 731.8L392.9 740.4M363.2 868.0L335.1 879.7M410.3 489.8L362.6 471.8M382.3 604.8L357.0 601.8M369.0 641.0L354.0 640.5M379.3 646.5L353.8 645.7M459.1 525.6L410.8 509.3M437.3 648.8L411.8 648.1" stroke="#99ffff" stroke-width="2.6" stroke-opacity=".88" fill="none"/>
<path d="M1276.0 316.8L1315.3 284.3M928.3 1109.2L931.4 1129.5M926.1 1094.4L929.1 1114.2M953.3 1073.5L964.4 1123.3M947.0 1192.3L955.2 1242.7M657.7 1097.0L636.2 1143.2M714.1 1179.0L704.4 1213.2M362.1 455.4L314.9 436.0" stroke="#ffccbb" stroke-width="1.75" stroke-opacity=".88" fill="none"/>
<path d="M1274.2 314.7L1313.4 282.0M470.7 825.6L423.7 845.5" stroke="#ffffff" stroke-width="1.3" stroke-opacity="1" fill="none"/>
<path d="M1294.5 340.5L1335.5 310.2M1233.4 355.6L1272.9 323.3M1297.9 458.8L1344.2 437.4M1430.3 837.0L1479.0 852.1M1388.1 938.8L1433.2 962.6M1395.8 724.1L1446.5 730.1M1374.9 821.7L1423.5 836.9M1264.4 788.1L1291.1 796.5M1278.8 1000.3L1318.4 1032.5M1256.8 933.9L1298.8 962.9M833.7 1198.6L831.2 1249.6M977.1 1186.6L988.1 1236.3M957.6 1279.8L959.9 1294.6M728.9 1242.1L722.2 1271.8M425.5 978.4L384.3 1008.5M432.1 987.3L391.6 1018.2M436.0 887.3L391.0 911.4M345.4 502.0L296.6 487.0M411.6 486.3L364.1 467.9M462.6 515.6L414.7 498.2M637.3 107.2L618.2 59.9M776.7 245.2L766.6 195.2M627.6 306.6L599.6 264.0" stroke="#ffffff" stroke-width="1.95" stroke-opacity="1" fill="none"/>
<path d="M1244.6 369.8L1285.3 339.0" stroke="#e8e8ff" stroke-width="2.6" stroke-opacity=".88" fill="none"/>
<path d="M1249.1 375.9L1290.3 345.7M1340.8 625.0L1353.8 624.1M1366.5 627.4L1379.0 626.6M1283.3 633.9L1298.7 633.0M1282.9 692.0L1298.4 693.1M1308.4 693.4L1320.8 694.4M1270.1 1094.1L1305.1 1131.2M1153.8 1112.6L1181.5 1155.4M379.8 1013.3L338.7 1043.5M429.3 765.9L399.7 773.2M416.7 846.7L369.6 866.5M342.9 510.1L294.0 495.9M352.1 567.1L336.8 564.3M366.7 570.8L356.8 569.0M384.8 586.4L334.4 578.5M412.1 590.2L391.8 587.0M595.4 258.4L567.4 215.8" stroke="#ffffff" stroke-width="1.95" stroke-opacity="1" fill="none"/>
<path d="M1428.6 478.2L1477.2 462.7M1457.0 652.5L1508.0 651.9M1374.0 496.2L1422.6 480.6M1399.3 643.3L1450.3 641.7M1399.4 646.7L1424.9 646.1M1399.5 652.6L1450.5 651.8M1342.0 653.2L1393.0 652.4M1264.4 532.6L1313.0 517.2M1283.9 646.3L1334.8 644.6M1309.5 653.4L1335.0 653.0M941.5 1251.3L948.4 1301.8M633.3 1149.0L611.8 1195.3M608.7 1201.0L587.2 1247.2M264.1 655.7L238.6 655.5M353.6 655.7L328.1 655.4M404.4 506.3L356.1 490.0M440.4 425.2L395.9 400.3M379.4 643.1L353.9 642.2" stroke="#ccccff" stroke-width="1.75" stroke-opacity=".88" fill="none"/>
<path d="M1455.5 616.3L1506.3 612.6M1398.1 620.5L1449.0 616.8M1319.4 514.1L1367.9 498.6M329.2 750.4L278.9 758.9" stroke="#ccccff" stroke-width="1.75" stroke-opacity=".88" fill="none"/>
<path d="M1482.3 640.9L1507.8 640.1M532.4 162.2L504.3 119.6" stroke="#ccccff" stroke-width="2.6" stroke-opacity=".88" fill="none"/>
<path d="M1456.9 645.6L1507.9 644.4M1424.9 646.7L1450.4 646.1M936.7 1135.8L944.7 1186.1" stroke="#ffccbb" stroke-width="2.6" stroke-opacity=".88" fill="none"/>
<path d="M1456.5 686.6L1507.5 688.8M1422.5 605.9L1447.9 603.5M1328.1 545.2L1377.7 533.1M1335.2 579.2L1385.5 570.6M1341.7 640.6L1392.7 638.5M1250.4 494.8L1297.4 474.8M1283.7 678.5L1334.7 680.6M1348.3 889.8L1394.4 911.5M677.2 1105.5L657.8 1152.7M428.8 982.9L387.9 1013.4M457.0 1055.0L438.8 1072.8M523.7 917.0L483.2 947.9M442.4 727.2L392.1 735.2M273.3 764.4L223.0 773.3M469.9 823.7L422.8 843.4M413.0 482.8L365.6 464.0M382.3 568.7L367.6 565.9M371.2 609.8L351.3 607.8M381.5 612.2L368.6 610.9M341.9 631.3L328.9 630.6M364.4 632.8L354.4 632.2M344.0 639.1L328.5 638.4M442.0 595.9L411.9 591.3M440.1 609.9L389.5 603.8M282.0 515.4L232.5 503.0M264.7 634.0L213.7 631.8M327.8 578.6L277.4 570.9M324.5 604.8L273.7 599.6M499.4 260.2L465.3 222.3M481.0 364.1L440.8 332.7M755.4 190.4L744.2 140.7" stroke="#99ffff" stroke-width="1.75" stroke-opacity=".88" fill="none"/>
<path d="M1391.2 565.6L1441.4 556.7M1300.3 856.6L1346.8 877.4M1087.4 1085.1L1111.4 1130.0M831.9 1198.5L830.0 1234.0M524.5 1005.1L488.9 1041.6M410.5 956.9L367.9 984.9M473.0 1056.8L448.2 1082.2M510.3 1019.9L489.0 1041.7M560.1 958.7L523.9 994.6M322.3 687.8L271.4 690.4M323.3 703.5L272.5 707.6M298.8 860.7L250.7 877.8M356.1 470.4L308.4 452.5M344.7 504.0L295.9 489.3M398.0 526.6L349.1 512.4M454.4 540.3L405.5 525.9M395.3 388.3L351.2 362.6" stroke="#99ffbb" stroke-width="1.75" stroke-opacity=".88" fill="none"/>
<path d="M1419.2 628.9L1436.7 628.0M1398.7 629.9L1414.2 629.1M1354.3 631.9L1366.8 631.2M1379.2 630.2L1392.2 629.5" stroke="#99ffbb" stroke-width="3.6" stroke-opacity=".88" fill="none"/>
<path d="M1354.9 572.7L1384.9 567.4M1366.8 845.3L1407.2 860.1M847.2 1199.1L846.0 1250.1" stroke="#99ffbb" stroke-width="2.6" stroke-opacity=".88" fill="none"/>
<path d="M1341.9 644.8L1367.3 644.0" stroke="#ffccbb" stroke-width="4.5" stroke-opacity=".88" fill="none"/>
<path d="M1367.4 644.8L1392.9 644.0" stroke="#ffccbb" stroke-width="1.75" stroke-opacity=".88" fill="none"/>
<path d="M1284.0 649.9L1335.0 648.7" stroke="#ffccbb" stroke-width="2.6" stroke-opacity=".88" fill="none"/>
<path d="M1405.5 762.9L1440.4 769.5M1260.8 928.0L1303.2 956.3M959.2 1206.0L964.5 1235.5" stroke="#99ffbb" stroke-width="1.5" stroke-opacity=".88" fill="none"/>
<path d="M1336.8 912.7L1381.9 936.6M1320.2 803.9L1368.9 819.2M1285.8 886.2L1330.9 910.1M389.3 758.7L339.3 769.1M414.4 479.3L367.1 460.2M408.0 496.1L360.0 478.7M388.8 563.9L338.9 553.7M323.8 611.9L273.0 607.3M752.6 132.2L742.4 82.3M763.7 188.7L753.4 138.7" stroke="#ffffff" stroke-width="1.95" stroke-opacity="1" fill="none"/>
<path d="M1372.7 731.6L1388.0 733.7" stroke="#99ffff" stroke-width="3.6" stroke-opacity=".88" fill="none"/>
<path d="M1029.0 1048.9L1049.2 1095.7M519.1 910.8L478.0 941.0" stroke="#ffffff" stroke-width="1.8" stroke-opacity="1" fill="none"/>
<path d="M1050.9 1102.6L1071.1 1149.4" stroke="#99ffff" stroke-width="2.6" stroke-opacity=".88" fill="none"/>
<path d="M838.2 1083.2L835.5 1134.1M826.1 1140.6L822.5 1191.4M889.7 1167.5L890.4 1178.9M889.1 1146.5L889.5 1154.0" stroke="#ffffff" stroke-width="2.9" stroke-opacity="1" fill="none"/>
<path d="M849.5 1083.7L848.9 1109.1M848.9 295.0L847.3 244.0" stroke="#ccccff" stroke-width="3.6" stroke-opacity=".88" fill="none"/>
<path d="M850.6 1109.2L850.0 1134.7" stroke="#eeeebb" stroke-width="1.5" stroke-opacity=".88" fill="none"/>
<path d="M869.8 1083.7L870.9 1134.7M869.8 1141.7L870.8 1192.7M875.5 1256.6L876.7 1307.6" stroke="#99ccff" stroke-width="1.75" stroke-opacity=".88" fill="none"/>
<path d="M846.9 1141.6L845.5 1192.6M511.3 279.2L500.8 267.8M516.4 288.1L509.6 280.7" stroke="#99ffff" stroke-width="3.6" stroke-opacity=".88" fill="none"/>
<path d="M873.1 1167.1L873.7 1192.6" stroke="#99ccff" stroke-width="1.5" stroke-opacity=".88" fill="none"/>
<path d="M816.0 1255.1L812.2 1306.0M844.9 1282.1L844.3 1307.6M842.3 1256.5L841.5 1282.0" stroke="#ccccff" stroke-width="3.6" stroke-opacity=".88" fill="none"/>
<path d="M682.6 1044.6L661.2 1090.9M311.7 426.9L264.7 406.9M295.8 468.5L247.5 452.1" stroke="#ccccff" stroke-width="1.5" stroke-opacity=".88" fill="none"/>
<path d="M391.0 1028.1L350.8 1059.5" stroke="#ffe0a8" stroke-width="1.5" stroke-opacity=".88" fill="none"/>
<path d="M499.5 943.6L487.3 953.2" stroke="#ffe0a8" stroke-width="1.75" stroke-opacity=".88" fill="none"/>
<path d="M382.6 602.1L332.0 595.9M437.5 641.8L386.6 639.6" stroke="#99ffff" stroke-width="2.6" stroke-opacity=".88" fill="none"/>
<path d="M465.0 509.1L417.4 490.9" stroke="#99ccff" stroke-width="2.6" stroke-opacity=".88" fill="none"/>
</g>
</g>
<circle cx="773.7" cy="34.6" r="10.2" fill="#ffd966" stroke="#000" stroke-width="2.2"/>
<circle cx="778.5" cy="101.2" r="10.2" fill="#bfbfbf" stroke="#000" stroke-width="2.2"/>
<circle cx="783.7" cy="161.7" r="10.2" fill="#ffffff" stroke="#000" stroke-width="2.2"/>
<circle cx="788.2" cy="221.9" r="10.2" fill="#92d050" stroke="#000" stroke-width="2.2"/>
<circle cx="793.4" cy="285.9" r="10.2" fill="#c55a11" stroke="#000" stroke-width="2.2"/>
<circle cx="19.7" cy="1051" r="10.3" fill="#ffd966" stroke="#000" stroke-width="2.2"/>
<circle cx="19.7" cy="1089.3" r="10.3" fill="#bfbfbf" stroke="#000" stroke-width="2.2"/>
<circle cx="19.7" cy="1127.6" r="10.3" fill="#ffffff" stroke="#000" stroke-width="2.2"/>
<circle cx="19.7" cy="1166" r="10.3" fill="#92d050" stroke="#000" stroke-width="2.2"/>
<circle cx="19.7" cy="1204.2" r="10.3" fill="#c55a11" stroke="#000" stroke-width="2.2"/>
<path d="M485.5 1398.5H636M655 1398.5H828" stroke="#bdbdbd" stroke-width="1.2"/>
<path d="M1252 647.3H1277" stroke="#ccccff" stroke-width="1.6"/><path d="M1252 653.2H1277" stroke="#ffccbb" stroke-width="1.6"/>
<path d="M761.7 1013L747 1063M831.2 1040.4L830.3 1076M847.4 1027.5L842 1076M850.6 1027.5L850.6 1076M884.6 1027.5L886.2 1061.4M892.7 1027.5L897.5 1076M902.4 1024L908.9 1074.4M934.7 1021L946 1068" stroke="#ffccbb" stroke-width="1.3" fill="none"/>
<path d="M595.7 915L560.5 948.9" stroke="#ffccbb" stroke-width="1.3" fill="none"/>
<path d="M511.5 428L539 447" stroke="#ffccbb" stroke-width="1.3" stroke-dasharray="2.5 4" fill="none"/>
<path d="M993.9 265.4L977.4 310M631 311L657.2 352.4M593.2 340L624.6 378.2M807 246L813.5 296M1153.6 361.7L1125.4 404M1157 364L1129 406.5M1160.5 366.5L1136 403M1150 359L1132 386M1179.4 389.9L1160.6 404M1210 772.7L1259.3 784.5M1212.3 777.4L1257 789.2" stroke="#ffccbb" stroke-width="1.3" fill="none"/>
<path d="M487.7 516.7L515.9 526.1M1179.4 425L1156 444M1217 761L1261.6 770.4M1219.4 789.2L1250 801" stroke="#ffccbb" stroke-width="1.3" stroke-dasharray="2.5 4" fill="none"/>
</svg>
<div class="ct">genome ON4<sup>T</sup><sub>PacBio</sub></div>
<div class="lg" style="top:1031px">ON4<sup>T</sup><sub>PacBio</sub><span class="ws">, contig A</span></div>
<div class="lg" style="top:1075px">ON4<sup style="letter-spacing:.6px">T_DSM</sup></div>
<div class="lg" style="top:1119px">ON4<sup>T</sup><sub>454</sub></div>
<div class="lg" style="top:1160px">ON4<sup>(-)</sup></div>
<div class="lg" style="top:1197px">ON4<sup>T</sup><sub>PacBio</sub><span class="ws">, contigB</span></div>
<div class="bl sans" style="left:950.5px;top:1310px;letter-spacing:.6px">Percent protein sequence identity</div>
<div class="bl sans" style="top:1339.5px;">Bidirectional best hit</div>
<div class="bl sans" style="top:1368.7px;letter-spacing:.58px">Unidirectional best hit</div>
<div class="cell sans" style="left:730.5px;width:47.5px;top:1337.2px;background:#9999ff">100</div>
<div class="cell sans" style="left:730.5px;width:47.5px;top:1366.8px;background:#ccccff">100</div>
<div class="cell sans" style="left:780.2px;width:52.0px;top:1337.2px;background:#99b3ff">99.9</div>
<div class="cell sans" style="left:780.2px;width:52.0px;top:1366.8px;background:#ccd9ff">99.9</div>
<div class="cell sans" style="left:834.5px;width:51.8px;top:1337.2px;background:#99ccff">99.8</div>
<div class="cell sans" style="left:834.5px;width:51.8px;top:1366.8px;background:#cce5ff">99.8</div>
<div class="cell sans" style="left:888.5px;width:52.2px;top:1337.2px;background:#99ffff">99.5</div>
<div class="cell sans" style="left:888.5px;width:52.2px;top:1366.8px;background:#ccffff">99.5</div>
<div class="cell sans" style="left:943.0px;width:47.3px;top:1337.2px;background:#99ffcc">99</div>
<div class="cell sans" style="left:943.0px;width:47.3px;top:1366.8px;background:#ccffe5">99</div>
<div class="cell sans" style="left:992.7px;width:47.3px;top:1337.2px;background:#99ff99">98</div>
<div class="cell sans" style="left:992.7px;width:47.3px;top:1366.8px;background:#ccffcc">98</div>
<div class="cell sans" style="left:1042.4px;width:47.3px;top:1337.2px;background:#b3ff99">95</div>
<div class="cell sans" style="left:1042.4px;width:47.3px;top:1366.8px;background:#d9ffcc">95</div>
<div class="cell sans" style="left:1092.1px;width:47.3px;top:1337.2px;background:#ccff99">90</div>
<div class="cell sans" style="left:1092.1px;width:47.3px;top:1366.8px;background:#e5ffcc">90</div>
<div class="cell sans" style="left:1141.8px;width:47.3px;top:1337.2px;background:#ffff99">80</div>
<div class="cell sans" style="left:1141.8px;width:47.3px;top:1366.8px;background:#ffffcc">80</div>
<div class="cell sans" style="left:1191.5px;width:47.3px;top:1337.2px;background:#ffdd99">70</div>
<div class="cell sans" style="left:1191.5px;width:47.3px;top:1366.8px;background:#ffeecc">70</div>
<div class="cell sans" style="left:1241.2px;width:47.3px;top:1337.2px;background:#ffcc99">60</div>
<div class="cell sans" style="left:1241.2px;width:47.3px;top:1366.8px;background:#ffe5cc">60</div>
<div class="cell sans" style="left:1290.9px;width:47.3px;top:1337.2px;background:#ffbb99">50</div>
<div class="cell sans" style="left:1290.9px;width:47.3px;top:1366.8px;background:#ffddcc">50</div>
<div class="cell sans" style="left:1340.6px;width:47.3px;top:1337.2px;background:#ffaa99">40</div>
<div class="cell sans" style="left:1340.6px;width:47.3px;top:1366.8px;background:#ffd4cc">40</div>
<div class="cell sans" style="left:1390.3px;width:47.3px;top:1337.2px;background:#ffa599">30</div>
<div class="cell sans" style="left:1390.3px;width:47.3px;top:1366.8px;background:#ffd2cc">30</div>
<div class="cell sans" style="left:1440.0px;width:47.3px;top:1337.2px;background:#ffa099">20</div>
<div class="cell sans" style="left:1440.0px;width:47.3px;top:1366.8px;background:#ffcfcc">20</div>
<div class="cell sans" style="left:1489.7px;width:47.3px;top:1337.2px;background:#ff9999">10</div>
<div class="cell sans" style="left:1489.7px;width:47.3px;top:1366.8px;background:#ffcccc">10</div>
</body></html>
